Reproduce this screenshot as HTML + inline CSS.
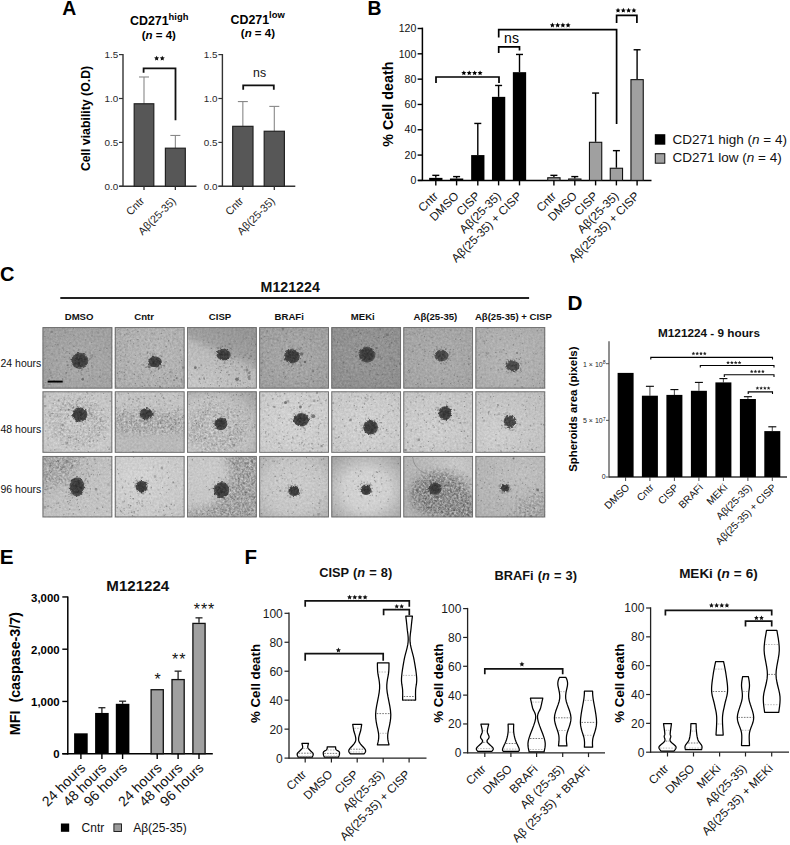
<!DOCTYPE html>
<html><head><meta charset="utf-8"><style>html,body{margin:0;padding:0;background:#fff;}svg{display:block;}</style></head>
<body><svg width="790" height="845" viewBox="0 0 790 845" font-family='"Liberation Sans", sans-serif'>
<defs><filter id="blur1" x="-50%" y="-50%" width="200%" height="200%"><feTurbulence type="fractalNoise" baseFrequency="0.35" numOctaves="2" seed="5" result="t"/><feDisplacementMap in="SourceGraphic" in2="t" scale="3" xChannelSelector="R" yChannelSelector="G"/><feGaussianBlur stdDeviation="0.45"/></filter><filter id="blur2" x="-50%" y="-50%" width="200%" height="200%"><feTurbulence type="fractalNoise" baseFrequency="0.5" numOctaves="2" seed="9" result="t"/><feDisplacementMap in="SourceGraphic" in2="t" scale="4" xChannelSelector="R" yChannelSelector="G"/><feGaussianBlur stdDeviation="0.7"/></filter><filter id="soft" x="-5%" y="-5%" width="110%" height="110%"><feGaussianBlur stdDeviation="0.4"/></filter><filter id="mblur" x="-30%" y="-30%" width="160%" height="160%"><feGaussianBlur stdDeviation="4"/></filter><radialGradient id="bg0" cx="0.55" cy="0.6" r="0.8"><stop offset="0" stop-color="rgb(176,176,176)"/><stop offset="1" stop-color="rgb(162,162,162)"/></radialGradient><filter id="tb0" x="0" y="0" width="1" height="1" color-interpolation-filters="sRGB"><feTurbulence type="fractalNoise" baseFrequency="0.45" numOctaves="3" seed="3"/><feColorMatrix type="matrix" values="1.5 0 0 0 -0.3  1.5 0 0 0 -0.3  1.5 0 0 0 -0.3  0 0 0 0 1"/><feGaussianBlur stdDeviation="0.35"/></filter><clipPath id="cp0"><ellipse cx="37.2" cy="33.6" rx="8.30" ry="7.85"/></clipPath><radialGradient id="bg1" cx="0.6" cy="0.45" r="0.8"><stop offset="0" stop-color="rgb(192,192,192)"/><stop offset="1" stop-color="rgb(180,180,180)"/></radialGradient><filter id="tb1" x="0" y="0" width="1" height="1" color-interpolation-filters="sRGB"><feTurbulence type="fractalNoise" baseFrequency="0.45" numOctaves="3" seed="10"/><feColorMatrix type="matrix" values="1.5 0 0 0 -0.3  1.5 0 0 0 -0.3  1.5 0 0 0 -0.3  0 0 0 0 1"/><feGaussianBlur stdDeviation="0.35"/></filter><clipPath id="cp1"><ellipse cx="40.1" cy="34.8" rx="6.60" ry="5.40"/></clipPath><linearGradient id="bg2" x1="0.8" y1="0" x2="0.3" y2="1"><stop offset="0" stop-color="rgb(152,152,152)"/><stop offset="0.38" stop-color="rgb(164,164,164)"/><stop offset="0.52" stop-color="rgb(192,192,192)"/><stop offset="1" stop-color="rgb(206,206,206)"/></linearGradient><filter id="tb2" x="0" y="0" width="1" height="1" color-interpolation-filters="sRGB"><feTurbulence type="fractalNoise" baseFrequency="0.45" numOctaves="3" seed="17"/><feColorMatrix type="matrix" values="1.5 0 0 0 -0.3  1.5 0 0 0 -0.3  1.5 0 0 0 -0.3  0 0 0 0 1"/><feGaussianBlur stdDeviation="0.35"/></filter><clipPath id="cp2"><ellipse cx="36.5" cy="27.4" rx="6.80" ry="5.65"/></clipPath><radialGradient id="bg3" cx="0.5" cy="0.5" r="0.75"><stop offset="0" stop-color="rgb(176,176,176)"/><stop offset="1" stop-color="rgb(162,162,162)"/></radialGradient><filter id="tb3" x="0" y="0" width="1" height="1" color-interpolation-filters="sRGB"><feTurbulence type="fractalNoise" baseFrequency="0.45" numOctaves="3" seed="24"/><feColorMatrix type="matrix" values="1.5 0 0 0 -0.3  1.5 0 0 0 -0.3  1.5 0 0 0 -0.3  0 0 0 0 1"/><feGaussianBlur stdDeviation="0.35"/></filter><clipPath id="cp3"><ellipse cx="32.6" cy="29.0" rx="7.75" ry="6.95"/></clipPath><radialGradient id="bg4" cx="0.5" cy="0.45" r="0.75"><stop offset="0" stop-color="rgb(157,157,157)"/><stop offset="1" stop-color="rgb(144,144,144)"/></radialGradient><filter id="tb4" x="0" y="0" width="1" height="1" color-interpolation-filters="sRGB"><feTurbulence type="fractalNoise" baseFrequency="0.45" numOctaves="3" seed="31"/><feColorMatrix type="matrix" values="1.5 0 0 0 -0.3  1.5 0 0 0 -0.3  1.5 0 0 0 -0.3  0 0 0 0 1"/><feGaussianBlur stdDeviation="0.35"/></filter><clipPath id="cp4"><ellipse cx="35.7" cy="27.4" rx="8.10" ry="7.75"/></clipPath><radialGradient id="bg5" cx="0.5" cy="0.5" r="0.75"><stop offset="0" stop-color="rgb(178,178,178)"/><stop offset="1" stop-color="rgb(168,168,168)"/></radialGradient><filter id="tb5" x="0" y="0" width="1" height="1" color-interpolation-filters="sRGB"><feTurbulence type="fractalNoise" baseFrequency="0.45" numOctaves="3" seed="38"/><feColorMatrix type="matrix" values="1.5 0 0 0 -0.3  1.5 0 0 0 -0.3  1.5 0 0 0 -0.3  0 0 0 0 1"/><feGaussianBlur stdDeviation="0.35"/></filter><clipPath id="cp5"><ellipse cx="38.1" cy="28.3" rx="6.80" ry="5.65"/></clipPath><radialGradient id="bg6" cx="0.5" cy="0.5" r="0.75"><stop offset="0" stop-color="rgb(188,188,188)"/><stop offset="1" stop-color="rgb(176,176,176)"/></radialGradient><filter id="tb6" x="0" y="0" width="1" height="1" color-interpolation-filters="sRGB"><feTurbulence type="fractalNoise" baseFrequency="0.45" numOctaves="3" seed="45"/><feColorMatrix type="matrix" values="1.5 0 0 0 -0.3  1.5 0 0 0 -0.3  1.5 0 0 0 -0.3  0 0 0 0 1"/><feGaussianBlur stdDeviation="0.35"/></filter><clipPath id="cp6"><ellipse cx="37.1" cy="38.6" rx="6.90" ry="5.20"/></clipPath><radialGradient id="bg7" cx="0.5" cy="0.55" r="0.75"><stop offset="0" stop-color="rgb(218,218,218)"/><stop offset="0.6" stop-color="rgb(212,212,212)"/><stop offset="1" stop-color="rgb(200,200,200)"/></radialGradient><filter id="tb7" x="0" y="0" width="1" height="1" color-interpolation-filters="sRGB"><feTurbulence type="fractalNoise" baseFrequency="0.45" numOctaves="3" seed="52"/><feColorMatrix type="matrix" values="1.5 0 0 0 -0.3  1.5 0 0 0 -0.3  1.5 0 0 0 -0.3  0 0 0 0 1"/><feGaussianBlur stdDeviation="0.35"/></filter><mask id="mk7" maskUnits="userSpaceOnUse" x="0" y="0" width="69.6" height="61.3"><g filter="url(#mblur)"><ellipse cx="34.8" cy="30.65" rx="29.231999999999996" ry="24.52" fill="white"/><ellipse cx="34.8" cy="27.585" rx="13.92" ry="12.26" fill="black"/></g></mask><clipPath id="cp7"><ellipse cx="37.1" cy="23.2" rx="7.50" ry="7.00"/></clipPath><linearGradient id="bg8" x1="0" y1="0" x2="0" y2="1"><stop offset="0" stop-color="rgb(204,204,204)"/><stop offset="0.6" stop-color="rgb(204,204,204)"/><stop offset="0.72" stop-color="rgb(194,194,194)"/><stop offset="1" stop-color="rgb(192,192,192)"/></linearGradient><filter id="tb8" x="0" y="0" width="1" height="1" color-interpolation-filters="sRGB"><feTurbulence type="fractalNoise" baseFrequency="0.45" numOctaves="3" seed="59"/><feColorMatrix type="matrix" values="1.5 0 0 0 -0.3  1.5 0 0 0 -0.3  1.5 0 0 0 -0.3  0 0 0 0 1"/><feGaussianBlur stdDeviation="0.35"/></filter><mask id="mk8" maskUnits="userSpaceOnUse" x="0" y="0" width="69.6" height="61.3"><g filter="url(#mblur)"><rect x="-5" y="21.455" width="79.6" height="19.616" fill="white"/></g></mask><clipPath id="cp8"><ellipse cx="31.3" cy="22.5" rx="6.25" ry="5.50"/></clipPath><radialGradient id="bg9" cx="0.35" cy="0.65" r="0.85"><stop offset="0" stop-color="rgb(214,214,214)"/><stop offset="0.6" stop-color="rgb(204,204,204)"/><stop offset="1" stop-color="rgb(168,168,168)"/></radialGradient><filter id="tb9" x="0" y="0" width="1" height="1" color-interpolation-filters="sRGB"><feTurbulence type="fractalNoise" baseFrequency="0.45" numOctaves="3" seed="66"/><feColorMatrix type="matrix" values="1.5 0 0 0 -0.3  1.5 0 0 0 -0.3  1.5 0 0 0 -0.3  0 0 0 0 1"/><feGaussianBlur stdDeviation="0.35"/></filter><mask id="mk9" maskUnits="userSpaceOnUse" x="0" y="0" width="69.6" height="61.3"><g filter="url(#mblur)"><ellipse cx="29.231999999999996" cy="36.779999999999994" rx="31.319999999999997" ry="23.294" fill="white"/><ellipse cx="34.8" cy="30.65" rx="15.312" ry="12.26" fill="black"/></g></mask><clipPath id="cp9"><ellipse cx="33.7" cy="32.4" rx="6.25" ry="6.10"/></clipPath><radialGradient id="bg10" cx="0.5" cy="0.5" r="0.75"><stop offset="0" stop-color="rgb(222,222,222)"/><stop offset="1" stop-color="rgb(210,210,210)"/></radialGradient><filter id="tb10" x="0" y="0" width="1" height="1" color-interpolation-filters="sRGB"><feTurbulence type="fractalNoise" baseFrequency="0.45" numOctaves="3" seed="73"/><feColorMatrix type="matrix" values="1.5 0 0 0 -0.3  1.5 0 0 0 -0.3  1.5 0 0 0 -0.3  0 0 0 0 1"/><feGaussianBlur stdDeviation="0.35"/></filter><clipPath id="cp10"><ellipse cx="41.9" cy="28.3" rx="7.50" ry="6.35"/></clipPath><radialGradient id="bg11" cx="0.5" cy="0.55" r="0.75"><stop offset="0" stop-color="rgb(222,222,222)"/><stop offset="1" stop-color="rgb(206,206,206)"/></radialGradient><filter id="tb11" x="0" y="0" width="1" height="1" color-interpolation-filters="sRGB"><feTurbulence type="fractalNoise" baseFrequency="0.45" numOctaves="3" seed="80"/><feColorMatrix type="matrix" values="1.5 0 0 0 -0.3  1.5 0 0 0 -0.3  1.5 0 0 0 -0.3  0 0 0 0 1"/><feGaussianBlur stdDeviation="0.35"/></filter><clipPath id="cp11"><ellipse cx="39.2" cy="35.9" rx="7.15" ry="7.05"/></clipPath><radialGradient id="bg12" cx="0.4" cy="0.6" r="0.75"><stop offset="0" stop-color="rgb(218,218,218)"/><stop offset="1" stop-color="rgb(204,204,204)"/></radialGradient><filter id="tb12" x="0" y="0" width="1" height="1" color-interpolation-filters="sRGB"><feTurbulence type="fractalNoise" baseFrequency="0.45" numOctaves="3" seed="87"/><feColorMatrix type="matrix" values="1.5 0 0 0 -0.3  1.5 0 0 0 -0.3  1.5 0 0 0 -0.3  0 0 0 0 1"/><feGaussianBlur stdDeviation="0.35"/></filter><clipPath id="cp12"><ellipse cx="41.5" cy="21.8" rx="6.10" ry="6.70"/></clipPath><radialGradient id="bg13" cx="0.3" cy="0.7" r="0.8"><stop offset="0" stop-color="rgb(216,216,216)"/><stop offset="1" stop-color="rgb(200,200,200)"/></radialGradient><filter id="tb13" x="0" y="0" width="1" height="1" color-interpolation-filters="sRGB"><feTurbulence type="fractalNoise" baseFrequency="0.45" numOctaves="3" seed="94"/><feColorMatrix type="matrix" values="1.5 0 0 0 -0.3  1.5 0 0 0 -0.3  1.5 0 0 0 -0.3  0 0 0 0 1"/><feGaussianBlur stdDeviation="0.35"/></filter><clipPath id="cp13"><ellipse cx="34.4" cy="30.0" rx="6.00" ry="5.75"/></clipPath><linearGradient id="bg14" x1="0" y1="0" x2="1" y2="1"><stop offset="0" stop-color="rgb(186,186,186)"/><stop offset="0.5" stop-color="rgb(202,202,202)"/><stop offset="1" stop-color="rgb(206,206,206)"/></linearGradient><filter id="tb14" x="0" y="0" width="1" height="1" color-interpolation-filters="sRGB"><feTurbulence type="fractalNoise" baseFrequency="0.45" numOctaves="3" seed="101"/><feColorMatrix type="matrix" values="1.5 0 0 0 -0.3  1.5 0 0 0 -0.3  1.5 0 0 0 -0.3  0 0 0 0 1"/><feGaussianBlur stdDeviation="0.35"/></filter><mask id="mk14" maskUnits="userSpaceOnUse" x="0" y="0" width="69.6" height="61.3"><g filter="url(#mblur)"><ellipse cx="0" cy="0" rx="38.28" ry="30.65" fill="white"/></g></mask><clipPath id="cp14"><ellipse cx="34.4" cy="30.7" rx="7.15" ry="9.25"/></clipPath><radialGradient id="bg15" cx="0.35" cy="0.4" r="0.8"><stop offset="0" stop-color="rgb(222,222,222)"/><stop offset="1" stop-color="rgb(206,206,206)"/></radialGradient><filter id="tb15" x="0" y="0" width="1" height="1" color-interpolation-filters="sRGB"><feTurbulence type="fractalNoise" baseFrequency="0.45" numOctaves="3" seed="108"/><feColorMatrix type="matrix" values="1.5 0 0 0 -0.3  1.5 0 0 0 -0.3  1.5 0 0 0 -0.3  0 0 0 0 1"/><feGaussianBlur stdDeviation="0.35"/></filter><clipPath id="cp15"><ellipse cx="26.7" cy="30.7" rx="5.75" ry="5.75"/></clipPath><radialGradient id="bg16" cx="0.3" cy="0.3" r="0.8"><stop offset="0" stop-color="rgb(210,210,210)"/><stop offset="1" stop-color="rgb(202,202,202)"/></radialGradient><filter id="tb16" x="0" y="0" width="1" height="1" color-interpolation-filters="sRGB"><feTurbulence type="fractalNoise" baseFrequency="0.45" numOctaves="3" seed="115"/><feColorMatrix type="matrix" values="1.5 0 0 0 -0.3  1.5 0 0 0 -0.3  1.5 0 0 0 -0.3  0 0 0 0 1"/><feGaussianBlur stdDeviation="0.35"/></filter><mask id="mk16" maskUnits="userSpaceOnUse" x="0" y="0" width="69.6" height="61.3"><g filter="url(#mblur)"><rect x="-5" y="-5" width="79.6" height="71.3" fill="white"/><ellipse cx="6.96" cy="18.389999999999997" rx="38.976" ry="38.976" fill="black"/></g></mask><clipPath id="cp16"><ellipse cx="34.4" cy="34.1" rx="7.40" ry="7.85"/></clipPath><radialGradient id="bg17" cx="0.5" cy="0.5" r="0.75"><stop offset="0" stop-color="rgb(214,214,214)"/><stop offset="0.55" stop-color="rgb(206,206,206)"/><stop offset="1" stop-color="rgb(176,176,176)"/></radialGradient><filter id="tb17" x="0" y="0" width="1" height="1" color-interpolation-filters="sRGB"><feTurbulence type="fractalNoise" baseFrequency="0.45" numOctaves="3" seed="122"/><feColorMatrix type="matrix" values="1.5 0 0 0 -0.3  1.5 0 0 0 -0.3  1.5 0 0 0 -0.3  0 0 0 0 1"/><feGaussianBlur stdDeviation="0.35"/></filter><clipPath id="cp17"><ellipse cx="34.7" cy="34.8" rx="5.45" ry="5.00"/></clipPath><radialGradient id="bg18" cx="0.5" cy="0.55" r="0.72"><stop offset="0" stop-color="rgb(222,222,222)"/><stop offset="0.45" stop-color="rgb(214,214,214)"/><stop offset="1" stop-color="rgb(162,162,162)"/></radialGradient><filter id="tb18" x="0" y="0" width="1" height="1" color-interpolation-filters="sRGB"><feTurbulence type="fractalNoise" baseFrequency="0.45" numOctaves="3" seed="129"/><feColorMatrix type="matrix" values="1.5 0 0 0 -0.3  1.5 0 0 0 -0.3  1.5 0 0 0 -0.3  0 0 0 0 1"/><feGaussianBlur stdDeviation="0.35"/></filter><clipPath id="cp18"><ellipse cx="34.6" cy="33.7" rx="5.10" ry="4.95"/></clipPath><radialGradient id="bg19" cx="0.75" cy="0.15" r="0.9"><stop offset="0" stop-color="rgb(208,208,208)"/><stop offset="0.5" stop-color="rgb(192,192,192)"/><stop offset="1" stop-color="rgb(182,182,182)"/></radialGradient><filter id="tb19" x="0" y="0" width="1" height="1" color-interpolation-filters="sRGB"><feTurbulence type="fractalNoise" baseFrequency="0.45" numOctaves="3" seed="136"/><feColorMatrix type="matrix" values="1.5 0 0 0 -0.3  1.5 0 0 0 -0.3  1.5 0 0 0 -0.3  0 0 0 0 1"/><feGaussianBlur stdDeviation="0.35"/></filter><mask id="mk19" maskUnits="userSpaceOnUse" x="0" y="0" width="69.6" height="61.3"><g filter="url(#mblur)"><ellipse cx="36.192" cy="38.006" rx="29.231999999999996" ry="22.067999999999998" fill="white"/><ellipse cx="59.16" cy="55.17" rx="20.88" ry="18.389999999999997" fill="white"/></g></mask><clipPath id="cp19"><ellipse cx="31.8" cy="32.5" rx="6.25" ry="6.00"/></clipPath><radialGradient id="bg20" cx="0.65" cy="0.3" r="0.8"><stop offset="0" stop-color="rgb(200,200,200)"/><stop offset="1" stop-color="rgb(184,184,184)"/></radialGradient><filter id="tb20" x="0" y="0" width="1" height="1" color-interpolation-filters="sRGB"><feTurbulence type="fractalNoise" baseFrequency="0.45" numOctaves="3" seed="143"/><feColorMatrix type="matrix" values="1.5 0 0 0 -0.3  1.5 0 0 0 -0.3  1.5 0 0 0 -0.3  0 0 0 0 1"/><feGaussianBlur stdDeviation="0.35"/></filter><mask id="mk20" maskUnits="userSpaceOnUse" x="0" y="0" width="69.6" height="61.3"><g filter="url(#mblur)"><ellipse cx="69.6" cy="61.3" rx="31.319999999999997" ry="24.52" fill="white"/></g></mask><clipPath id="cp20"><ellipse cx="29.8" cy="32.0" rx="3.90" ry="3.70"/></clipPath><radialGradient id="sph" cx="0.5" cy="0.5" r="0.5"><stop offset="0" stop-color="#303030"/><stop offset="0.6" stop-color="#363636"/><stop offset="0.85" stop-color="#404040"/><stop offset="1" stop-color="#5c5c5c"/></radialGradient></defs>
<rect width="790" height="845" fill="#fff"/>
<text x="62.20" y="14.80" font-size="19.4" font-weight="bold" text-anchor="start" fill="#000" >A</text>
<text x="159.2" y="25" font-size="12.4" font-weight="bold" text-anchor="middle">CD271<tspan font-size="9.4" dy="-5.5">high</tspan></text>
<text x="158.8" y="39.3" font-size="11.5" font-weight="bold" text-anchor="middle">(<tspan font-style="italic">n</tspan> = 4)</text>
<text x="257.6" y="23.7" font-size="12.4" font-weight="bold" text-anchor="middle">CD271<tspan font-size="9.4" dy="-5.5">low</tspan></text>
<text x="257.9" y="37.0" font-size="11.5" font-weight="bold" text-anchor="middle">(<tspan font-style="italic">n</tspan> = 4)</text>
<text transform="translate(90.10,118.50) rotate(-90)" font-size="12.3" font-weight="bold" text-anchor="middle" fill="#000" >Cell viability (O.D)</text>
<line x1="123.00" y1="54.00" x2="123.00" y2="186.30" stroke="#333" stroke-width="1.4" />
<line x1="119.00" y1="186.30" x2="123.00" y2="186.30" stroke="#333" stroke-width="1.2" />
<text x="118.20" y="189.80" font-size="9.9" font-weight="normal" text-anchor="end" fill="#2a2a2a" >0.0</text>
<line x1="119.00" y1="142.40" x2="123.00" y2="142.40" stroke="#333" stroke-width="1.2" />
<text x="118.20" y="145.90" font-size="9.9" font-weight="normal" text-anchor="end" fill="#2a2a2a" >0.5</text>
<line x1="119.00" y1="98.50" x2="123.00" y2="98.50" stroke="#333" stroke-width="1.2" />
<text x="118.20" y="102.00" font-size="9.9" font-weight="normal" text-anchor="end" fill="#2a2a2a" >1.0</text>
<line x1="119.00" y1="54.60" x2="123.00" y2="54.60" stroke="#333" stroke-width="1.2" />
<text x="118.20" y="58.10" font-size="9.9" font-weight="normal" text-anchor="end" fill="#2a2a2a" >1.5</text>
<line x1="222.40" y1="54.00" x2="222.40" y2="186.30" stroke="#333" stroke-width="1.4" />
<line x1="218.40" y1="186.30" x2="222.40" y2="186.30" stroke="#333" stroke-width="1.2" />
<text x="217.60" y="189.80" font-size="9.9" font-weight="normal" text-anchor="end" fill="#2a2a2a" >0.0</text>
<line x1="218.40" y1="142.40" x2="222.40" y2="142.40" stroke="#333" stroke-width="1.2" />
<text x="217.60" y="145.90" font-size="9.9" font-weight="normal" text-anchor="end" fill="#2a2a2a" >0.5</text>
<line x1="218.40" y1="98.50" x2="222.40" y2="98.50" stroke="#333" stroke-width="1.2" />
<text x="217.60" y="102.00" font-size="9.9" font-weight="normal" text-anchor="end" fill="#2a2a2a" >1.0</text>
<line x1="218.40" y1="54.60" x2="222.40" y2="54.60" stroke="#333" stroke-width="1.2" />
<text x="217.60" y="58.10" font-size="9.9" font-weight="normal" text-anchor="end" fill="#2a2a2a" >1.5</text>
<line x1="119.30" y1="186.30" x2="196.50" y2="186.30" stroke="#333" stroke-width="1.4" />
<line x1="218.50" y1="186.30" x2="295.30" y2="186.30" stroke="#333" stroke-width="1.4" />
<line x1="144.00" y1="76.99" x2="144.00" y2="103.77" stroke="#888" stroke-width="1.1" />
<line x1="139.00" y1="76.99" x2="149.00" y2="76.99" stroke="#888" stroke-width="1.1" />
<rect x="134.20" y="103.77" width="19.60" height="82.53" fill="#575757" stroke="#222" stroke-width="1.2" />
<line x1="144.00" y1="186.30" x2="144.00" y2="190.00" stroke="#333" stroke-width="1.3" />
<line x1="175.35" y1="135.46" x2="175.35" y2="148.19" stroke="#888" stroke-width="1.1" />
<line x1="170.35" y1="135.46" x2="180.35" y2="135.46" stroke="#888" stroke-width="1.1" />
<rect x="165.40" y="148.19" width="19.90" height="38.11" fill="#575757" stroke="#222" stroke-width="1.2" />
<line x1="175.35" y1="186.30" x2="175.35" y2="190.00" stroke="#333" stroke-width="1.3" />
<line x1="242.85" y1="101.57" x2="242.85" y2="126.33" stroke="#888" stroke-width="1.1" />
<line x1="237.85" y1="101.57" x2="247.85" y2="101.57" stroke="#888" stroke-width="1.1" />
<rect x="232.70" y="126.33" width="20.30" height="59.97" fill="#575757" stroke="#222" stroke-width="1.2" />
<line x1="242.85" y1="186.30" x2="242.85" y2="190.00" stroke="#333" stroke-width="1.3" />
<line x1="274.30" y1="106.40" x2="274.30" y2="131.25" stroke="#888" stroke-width="1.1" />
<line x1="269.30" y1="106.40" x2="279.30" y2="106.40" stroke="#888" stroke-width="1.1" />
<rect x="264.20" y="131.25" width="20.20" height="55.05" fill="#575757" stroke="#222" stroke-width="1.2" />
<line x1="274.30" y1="186.30" x2="274.30" y2="190.00" stroke="#333" stroke-width="1.3" />
<polyline points="143.60,72.80 143.60,68.30 175.50,68.30 175.50,120.30" fill="none" stroke="#111" stroke-width="1.8" stroke-linejoin="miter" stroke-linecap="butt"/>
<path d="M156.62,55.70 L157.37,57.32 L159.14,57.53 L157.83,58.75 L158.18,60.50 L156.62,59.63 L155.06,60.50 L155.41,58.75 L154.10,57.53 L155.87,57.32Z" fill="#111"/>
<path d="M162.28,55.70 L163.03,57.32 L164.80,57.53 L163.49,58.75 L163.84,60.50 L162.28,59.63 L160.72,60.50 L161.07,58.75 L159.76,57.53 L161.53,57.32Z" fill="#111"/>
<polyline points="243.20,89.80 243.20,85.30 273.80,85.30 273.80,89.80" fill="none" stroke="#111" stroke-width="1.8" stroke-linejoin="miter" stroke-linecap="butt"/>
<text x="259.60" y="77.40" font-size="12.3" font-weight="normal" text-anchor="middle" fill="#111" >ns</text>
<text transform="translate(145.00,201.60) rotate(-45)" font-size="10.8" font-weight="normal" text-anchor="end" fill="#222" >Cntr</text>
<text transform="translate(176.50,201.60) rotate(-45)" font-size="10.8" font-weight="normal" text-anchor="end" fill="#222" >Aβ(25-35)</text>
<text transform="translate(244.10,201.60) rotate(-45)" font-size="10.8" font-weight="normal" text-anchor="end" fill="#222" >Cntr</text>
<text transform="translate(275.60,201.60) rotate(-45)" font-size="10.8" font-weight="normal" text-anchor="end" fill="#222" >Aβ(25-35)</text>
<text x="367.60" y="14.80" font-size="19.4" font-weight="bold" text-anchor="start" fill="#000" >B</text>
<line x1="422.40" y1="27.60" x2="422.40" y2="181.00" stroke="#000" stroke-width="1.5" />
<line x1="417.60" y1="180.40" x2="422.40" y2="180.40" stroke="#000" stroke-width="1.4" />
<text x="416.30" y="184.10" font-size="10.5" font-weight="normal" text-anchor="end" fill="#111" >0</text>
<line x1="417.60" y1="155.08" x2="422.40" y2="155.08" stroke="#000" stroke-width="1.4" />
<text x="416.30" y="158.78" font-size="10.5" font-weight="normal" text-anchor="end" fill="#111" >20</text>
<line x1="417.60" y1="129.77" x2="422.40" y2="129.77" stroke="#000" stroke-width="1.4" />
<text x="416.30" y="133.47" font-size="10.5" font-weight="normal" text-anchor="end" fill="#111" >40</text>
<line x1="417.60" y1="104.45" x2="422.40" y2="104.45" stroke="#000" stroke-width="1.4" />
<text x="416.30" y="108.15" font-size="10.5" font-weight="normal" text-anchor="end" fill="#111" >60</text>
<line x1="417.60" y1="79.14" x2="422.40" y2="79.14" stroke="#000" stroke-width="1.4" />
<text x="416.30" y="82.84" font-size="10.5" font-weight="normal" text-anchor="end" fill="#111" >80</text>
<line x1="417.60" y1="53.82" x2="422.40" y2="53.82" stroke="#000" stroke-width="1.4" />
<text x="416.30" y="57.52" font-size="10.5" font-weight="normal" text-anchor="end" fill="#111" >100</text>
<line x1="417.60" y1="28.50" x2="422.40" y2="28.50" stroke="#000" stroke-width="1.4" />
<text x="416.30" y="32.20" font-size="10.5" font-weight="normal" text-anchor="end" fill="#111" >120</text>
<line x1="418.00" y1="180.40" x2="651.50" y2="180.40" stroke="#000" stroke-width="1.5" />
<text transform="translate(393.00,104.20) rotate(-90)" font-size="14.35" font-weight="bold" text-anchor="middle" fill="#000" >% Cell death</text>
<line x1="435.80" y1="175.34" x2="435.80" y2="177.87" stroke="#000" stroke-width="1.4" />
<line x1="432.30" y1="175.34" x2="439.30" y2="175.34" stroke="#000" stroke-width="1.4" />
<rect x="429.15" y="177.87" width="13.30" height="2.53" fill="#000" stroke="none" stroke-width="0" />
<line x1="456.60" y1="176.60" x2="456.60" y2="178.50" stroke="#000" stroke-width="1.4" />
<line x1="453.10" y1="176.60" x2="460.10" y2="176.60" stroke="#000" stroke-width="1.4" />
<rect x="449.95" y="178.50" width="13.30" height="1.90" fill="#000" stroke="none" stroke-width="0" />
<line x1="477.80" y1="123.44" x2="477.80" y2="155.08" stroke="#000" stroke-width="1.4" />
<line x1="474.30" y1="123.44" x2="481.30" y2="123.44" stroke="#000" stroke-width="1.4" />
<rect x="471.15" y="155.08" width="13.30" height="25.32" fill="#000" stroke="none" stroke-width="0" />
<line x1="498.60" y1="85.47" x2="498.60" y2="96.86" stroke="#000" stroke-width="1.4" />
<line x1="495.10" y1="85.47" x2="502.10" y2="85.47" stroke="#000" stroke-width="1.4" />
<rect x="491.95" y="96.86" width="13.30" height="83.54" fill="#000" stroke="none" stroke-width="0" />
<line x1="519.50" y1="54.45" x2="519.50" y2="72.17" stroke="#000" stroke-width="1.4" />
<line x1="516.00" y1="54.45" x2="523.00" y2="54.45" stroke="#000" stroke-width="1.4" />
<rect x="512.85" y="72.17" width="13.30" height="108.23" fill="#000" stroke="none" stroke-width="0" />
<line x1="553.90" y1="175.34" x2="553.90" y2="177.24" stroke="#000" stroke-width="1.4" />
<line x1="550.40" y1="175.34" x2="557.40" y2="175.34" stroke="#000" stroke-width="1.4" />
<rect x="547.75" y="177.74" width="12.30" height="2.66" fill="#a0a0a0" stroke="#111" stroke-width="1.1" />
<line x1="574.80" y1="176.60" x2="574.80" y2="178.50" stroke="#000" stroke-width="1.4" />
<line x1="571.30" y1="176.60" x2="578.30" y2="176.60" stroke="#000" stroke-width="1.4" />
<rect x="568.65" y="179.00" width="12.30" height="1.40" fill="#a0a0a0" stroke="#111" stroke-width="1.1" />
<line x1="595.60" y1="93.06" x2="595.60" y2="141.79" stroke="#000" stroke-width="1.4" />
<line x1="592.10" y1="93.06" x2="599.10" y2="93.06" stroke="#000" stroke-width="1.4" />
<rect x="589.45" y="142.29" width="12.30" height="38.11" fill="#a0a0a0" stroke="#111" stroke-width="1.1" />
<line x1="616.40" y1="150.65" x2="616.40" y2="167.74" stroke="#000" stroke-width="1.4" />
<line x1="612.90" y1="150.65" x2="619.90" y2="150.65" stroke="#000" stroke-width="1.4" />
<rect x="610.25" y="168.24" width="12.30" height="12.16" fill="#a0a0a0" stroke="#111" stroke-width="1.1" />
<line x1="637.10" y1="49.77" x2="637.10" y2="79.14" stroke="#000" stroke-width="1.4" />
<line x1="633.60" y1="49.77" x2="640.60" y2="49.77" stroke="#000" stroke-width="1.4" />
<rect x="630.95" y="79.64" width="12.30" height="100.76" fill="#a0a0a0" stroke="#111" stroke-width="1.1" />
<line x1="435.80" y1="180.40" x2="435.80" y2="185.40" stroke="#000" stroke-width="1.4" />
<text transform="translate(438.80,196.80) rotate(-45)" font-size="11.8" font-weight="normal" text-anchor="end" fill="#111" >Cntr</text>
<line x1="456.60" y1="180.40" x2="456.60" y2="185.40" stroke="#000" stroke-width="1.4" />
<text transform="translate(459.60,196.80) rotate(-45)" font-size="11.8" font-weight="normal" text-anchor="end" fill="#111" >DMSO</text>
<line x1="477.80" y1="180.40" x2="477.80" y2="185.40" stroke="#000" stroke-width="1.4" />
<text transform="translate(480.80,196.80) rotate(-45)" font-size="11.8" font-weight="normal" text-anchor="end" fill="#111" >CISP</text>
<line x1="498.60" y1="180.40" x2="498.60" y2="185.40" stroke="#000" stroke-width="1.4" />
<text transform="translate(501.60,196.80) rotate(-45)" font-size="11.8" font-weight="normal" text-anchor="end" fill="#111" >Aβ(25-35)</text>
<line x1="519.50" y1="180.40" x2="519.50" y2="185.40" stroke="#000" stroke-width="1.4" />
<text transform="translate(522.50,196.80) rotate(-45)" font-size="11.8" font-weight="normal" text-anchor="end" fill="#111" >Aβ(25-35) + CISP</text>
<line x1="553.90" y1="180.40" x2="553.90" y2="185.40" stroke="#000" stroke-width="1.4" />
<text transform="translate(556.90,196.80) rotate(-45)" font-size="11.8" font-weight="normal" text-anchor="end" fill="#111" >Cntr</text>
<line x1="574.80" y1="180.40" x2="574.80" y2="185.40" stroke="#000" stroke-width="1.4" />
<text transform="translate(577.80,196.80) rotate(-45)" font-size="11.8" font-weight="normal" text-anchor="end" fill="#111" >DMSO</text>
<line x1="595.60" y1="180.40" x2="595.60" y2="185.40" stroke="#000" stroke-width="1.4" />
<text transform="translate(598.60,196.80) rotate(-45)" font-size="11.8" font-weight="normal" text-anchor="end" fill="#111" >CISP</text>
<line x1="616.40" y1="180.40" x2="616.40" y2="185.40" stroke="#000" stroke-width="1.4" />
<text transform="translate(619.40,196.80) rotate(-45)" font-size="11.8" font-weight="normal" text-anchor="end" fill="#111" >Aβ(25-35)</text>
<line x1="637.10" y1="180.40" x2="637.10" y2="185.40" stroke="#000" stroke-width="1.4" />
<text transform="translate(640.10,196.80) rotate(-45)" font-size="11.8" font-weight="normal" text-anchor="end" fill="#111" >Aβ(25-35) + CISP</text>
<polyline points="436.00,83.00 436.00,77.00 499.00,77.00 499.00,83.00" fill="none" stroke="#000" stroke-width="1.7" stroke-linejoin="miter" stroke-linecap="butt"/>
<path d="M463.82,70.40 L464.57,72.02 L466.34,72.23 L465.03,73.45 L465.38,75.20 L463.82,74.33 L462.26,75.20 L462.61,73.45 L461.30,72.23 L463.07,72.02Z" fill="#000"/>
<path d="M469.24,70.40 L469.99,72.02 L471.76,72.23 L470.45,73.45 L470.80,75.20 L469.24,74.33 L467.68,75.20 L468.03,73.45 L466.72,72.23 L468.49,72.02Z" fill="#000"/>
<path d="M474.66,70.40 L475.41,72.02 L477.18,72.23 L475.87,73.45 L476.22,75.20 L474.66,74.33 L473.10,75.20 L473.45,73.45 L472.14,72.23 L473.91,72.02Z" fill="#000"/>
<path d="M480.08,70.40 L480.83,72.02 L482.60,72.23 L481.29,73.45 L481.64,75.20 L480.08,74.33 L478.52,75.20 L478.87,73.45 L477.56,72.23 L479.33,72.02Z" fill="#000"/>
<polyline points="498.70,53.10 498.70,46.90 519.50,46.90 519.50,50.40" fill="none" stroke="#000" stroke-width="1.7" stroke-linejoin="miter" stroke-linecap="butt"/>
<text x="511.50" y="42.60" font-size="14" font-weight="normal" text-anchor="middle" fill="#000" >ns</text>
<polyline points="498.70,37.50 498.70,29.70 616.60,29.70 616.60,124.00" fill="none" stroke="#000" stroke-width="1.7" stroke-linejoin="miter" stroke-linecap="butt"/>
<path d="M552.41,22.61 L553.16,24.23 L554.92,24.44 L553.62,25.64 L553.96,27.39 L552.41,26.52 L550.86,27.39 L551.20,25.64 L549.90,24.44 L551.66,24.23Z" fill="#000"/>
<path d="M557.64,22.61 L558.38,24.23 L560.15,24.44 L558.84,25.64 L559.19,27.39 L557.64,26.52 L556.08,27.39 L556.43,25.64 L555.12,24.44 L556.89,24.23Z" fill="#000"/>
<path d="M562.86,22.61 L563.61,24.23 L565.38,24.44 L564.07,25.64 L564.42,27.39 L562.86,26.52 L561.31,27.39 L561.66,25.64 L560.35,24.44 L562.12,24.23Z" fill="#000"/>
<path d="M568.09,22.61 L568.84,24.23 L570.60,24.44 L569.30,25.64 L569.64,27.39 L568.09,26.52 L566.54,27.39 L566.88,25.64 L565.58,24.44 L567.34,24.23Z" fill="#000"/>
<polyline points="616.60,23.10 616.60,15.30 636.90,15.30 636.90,23.10" fill="none" stroke="#000" stroke-width="1.7" stroke-linejoin="miter" stroke-linecap="butt"/>
<path d="M618.02,7.80 L618.77,9.42 L620.54,9.63 L619.23,10.85 L619.58,12.60 L618.02,11.73 L616.46,12.60 L616.81,10.85 L615.50,9.63 L617.27,9.42Z" fill="#000"/>
<path d="M623.31,7.80 L624.05,9.42 L625.83,9.63 L624.52,10.85 L624.86,12.60 L623.31,11.73 L621.75,12.60 L622.10,10.85 L620.79,9.63 L622.56,9.42Z" fill="#000"/>
<path d="M628.59,7.80 L629.34,9.42 L631.11,9.63 L629.80,10.85 L630.15,12.60 L628.59,11.73 L627.04,12.60 L627.38,10.85 L626.07,9.63 L627.85,9.42Z" fill="#000"/>
<path d="M633.88,7.80 L634.63,9.42 L636.40,9.63 L635.09,10.85 L635.44,12.60 L633.88,11.73 L632.32,12.60 L632.67,10.85 L631.36,9.63 L633.13,9.42Z" fill="#000"/>
<rect x="654.80" y="134.20" width="10.50" height="10.50" fill="#000" stroke="none" stroke-width="0" />
<rect x="655.30" y="153.70" width="9.50" height="9.50" fill="#a0a0a0" stroke="#111" stroke-width="1" />
<text x="672.5" y="144.4" font-size="13.5" fill="#111">CD271 high (<tspan font-style="italic">n</tspan> = 4)</text>
<text x="672.5" y="162.2" font-size="13.5" fill="#111">CD271 low (<tspan font-style="italic">n</tspan> = 4)</text>
<text x="0.00" y="280.50" font-size="20" font-weight="bold" text-anchor="start" fill="#000" >C</text>
<text x="290.20" y="292.00" font-size="14.2" font-weight="bold" text-anchor="middle" fill="#111" >M121224</text>
<line x1="60.30" y1="298.00" x2="529.10" y2="298.00" stroke="#222" stroke-width="2.0" />
<text x="79.10" y="319.60" font-size="9.6" font-weight="bold" text-anchor="middle" fill="#111" >DMSO</text>
<text x="144.10" y="319.60" font-size="9.6" font-weight="bold" text-anchor="middle" fill="#111" >Cntr</text>
<text x="220.00" y="319.60" font-size="9.6" font-weight="bold" text-anchor="middle" fill="#111" >CISP</text>
<text x="289.20" y="319.60" font-size="9.6" font-weight="bold" text-anchor="middle" fill="#111" >BRAFi</text>
<text x="362.80" y="319.60" font-size="9.6" font-weight="bold" text-anchor="middle" fill="#111" >MEKi</text>
<text x="435.40" y="319.60" font-size="9.6" font-weight="bold" text-anchor="middle" fill="#111" >Aβ(25-35)</text>
<text x="513.40" y="319.60" font-size="9.6" font-weight="bold" text-anchor="middle" fill="#111" >Aβ(25-35) + CISP</text>
<text x="0.50" y="366.90" font-size="10.5" font-weight="normal" text-anchor="start" fill="#111" >24 hours</text>
<text x="0.50" y="432.80" font-size="10.5" font-weight="normal" text-anchor="start" fill="#111" >48 hours</text>
<text x="0.50" y="493.40" font-size="10.5" font-weight="normal" text-anchor="start" fill="#111" >96 hours</text>
<g transform="translate(42.6,327.2)">
<rect width="69.6" height="61.3" fill="url(#bg0)"/>
<rect width="69.6" height="61.3" filter="url(#tb0)" opacity="0.099"/>
<g filter="url(#soft)" fill="#505050"><path fill-opacity="0.22" d="M50.4 35.3h0.9v0.9h-0.9zM59.4 46.2h1.3v1.3h-1.3zM54.8 33.4h1v1h-1zM1.2 3.9h1v1h-1zM24.9 39.7h1.3v1.3h-1.3zM22.6 47.0h1.3v1.3h-1.3zM14.8 50.4h0.9v0.9h-0.9zM0.7 27.6h1.1v1.1h-1.1zM21.7 2.5h1.3v1.3h-1.3zM21.7 1.5h1.1v1.1h-1.1zM17.6 10.5h1v1h-1zM36.1 42.1h1.1v1.1h-1.1zM5.8 42.2h0.9v0.9h-0.9zM1.6 8.9h1v1h-1zM6.9 44.4h2.1v2.1h-2.1zM7.2 55.3h1v1h-1zM32.6 13.4h1v1h-1zM14.5 8.2h0.9v0.9h-0.9zM1.2 56.8h1.1v1.1h-1.1zM61.2 7.5h0.9v0.9h-0.9zM29.4 9.1h0.9v0.9h-0.9zM6.0 48.6h1.3v1.3h-1.3zM23.5 33.7h1.3v1.3h-1.3zM16.8 21.4h0.9v0.9h-0.9zM16.9 2.6h0.9v0.9h-0.9zM8.4 35.8h1.1v1.1h-1.1zM65.8 28.8h1.1v1.1h-1.1zM34.0 44.9h0.9v0.9h-0.9zM68.1 52.7h1.3v1.3h-1.3zM63.7 53.8h1v1h-1zM24.8 37.5h1.3v1.3h-1.3zM51.5 12.1h1.1v1.1h-1.1zM51.6 21.7h1.1v1.1h-1.1zM11.1 18.4h1.1v1.1h-1.1zM9.1 18.5h1.3v1.3h-1.3zM0.9 25.0h0.9v0.9h-0.9z"/><path fill-opacity="0.34" d="M20.6 22.3h1v1h-1zM8.8 26.1h1v1h-1zM0.8 57.8h1.3v1.3h-1.3zM63.8 51.1h0.9v0.9h-0.9zM2.2 20.0h1v1h-1zM21.5 29.7h1v1h-1zM54.9 5.1h1.3v1.3h-1.3zM49.7 50.9h0.9v0.9h-0.9zM16.1 25.7h0.9v0.9h-0.9zM27.0 52.0h1v1h-1zM1.3 31.3h1v1h-1zM7.8 57.2h0.9v0.9h-0.9zM2.2 54.7h1.3v1.3h-1.3zM46.8 25.4h1.1v1.1h-1.1zM14.2 55.1h1v1h-1zM44.5 54.0h0.9v0.9h-0.9zM56.9 49.5h1.3v1.3h-1.3zM10.5 32.2h0.9v0.9h-0.9zM8.3 3.6h2.1v2.1h-2.1zM63.7 20.7h1.1v1.1h-1.1zM5.1 10.0h1v1h-1zM20.0 0.4h1v1h-1zM50.7 47.3h0.9v0.9h-0.9zM57.1 42.2h1.3v1.3h-1.3zM26.9 16.6h0.9v0.9h-0.9zM12.6 15.2h0.9v0.9h-0.9zM22.8 50.0h1v1h-1zM60.5 0.4h1v1h-1zM25.6 48.2h1v1h-1zM48.5 14.8h1v1h-1zM14.0 41.8h1v1h-1zM22.7 25.3h1v1h-1zM19.0 1.1h0.9v0.9h-0.9zM48.7 8.4h0.9v0.9h-0.9zM31.3 18.7h0.9v0.9h-0.9zM16.4 46.6h1v1h-1zM38.1 38.0h0.9v0.9h-0.9zM26.6 15.6h1.1v1.1h-1.1zM19.9 20.3h1v1h-1zM30.5 38.2h0.9v0.9h-0.9zM20.9 7.9h0.9v0.9h-0.9zM22.2 5.2h1.1v1.1h-1.1zM9.0 49.7h1.1v1.1h-1.1zM48.8 53.3h1.1v1.1h-1.1zM4.0 49.3h1v1h-1zM38.1 45.3h0.9v0.9h-0.9zM12.1 16.7h1.1v1.1h-1.1zM16.0 15.4h1v1h-1zM28.8 28.0h1.3v1.3h-1.3zM45.4 41.3h0.9v0.9h-0.9zM48.8 29.0h1.3v1.3h-1.3zM49.2 28.3h1.3v1.3h-1.3zM47.0 28.2h1.3v1.3h-1.3zM48.2 28.1h0.9v0.9h-0.9zM24.0 33.6h1.1v1.1h-1.1zM47.1 31.9h0.9v0.9h-0.9zM43.6 43.8h1.1v1.1h-1.1zM27.6 41.7h1.3v1.3h-1.3zM48.9 35.2h1.1v1.1h-1.1zM28.1 37.9h1.3v1.3h-1.3zM47.8 29.9h1.3v1.3h-1.3zM49.0 27.1h1.1v1.1h-1.1zM46.1 31.0h1.1v1.1h-1.1zM26.3 30.1h1.3v1.3h-1.3zM28.7 41.2h0.9v0.9h-0.9zM47.2 30.8h0.9v0.9h-0.9zM30.8 23.3h0.9v0.9h-0.9zM28.2 37.5h0.9v0.9h-0.9zM45.8 32.0h1.3v1.3h-1.3z"/><path fill-opacity="0.46" d="M2.2 30.8h0.9v0.9h-0.9zM56.4 48.5h1v1h-1zM52.0 29.0h1.1v1.1h-1.1zM61.0 20.3h1v1h-1zM6.5 41.8h1v1h-1zM35.2 25.2h1v1h-1zM42.5 12.3h1.1v1.1h-1.1zM45.9 47.9h1.1v1.1h-1.1zM10.8 52.7h1.3v1.3h-1.3zM19.5 51.3h1.3v1.3h-1.3zM3.5 19.0h0.9v0.9h-0.9zM58.1 1.2h0.9v0.9h-0.9zM14.7 16.7h1.3v1.3h-1.3zM27.8 15.2h0.9v0.9h-0.9zM35.4 43.3h1.1v1.1h-1.1zM30.3 33.9h0.9v0.9h-0.9zM23.8 23.7h1.1v1.1h-1.1zM2.0 9.1h1v1h-1zM30.8 7.5h1v1h-1zM12.3 6.2h0.9v0.9h-0.9zM33.1 35.3h0.9v0.9h-0.9zM5.3 57.1h1v1h-1zM56.6 22.6h1.3v1.3h-1.3zM49.7 39.5h1.1v1.1h-1.1zM30.5 18.7h0.9v0.9h-0.9zM42.1 19.6h0.9v0.9h-0.9zM26.5 25.8h1v1h-1zM49.9 27.1h0.9v0.9h-0.9zM38.7 47.0h1.1v1.1h-1.1zM22.8 44.8h1.8v1.8h-1.8zM6.7 56.9h0.9v0.9h-0.9zM13.6 32.1h1.1v1.1h-1.1zM6.1 51.8h1.1v1.1h-1.1zM33.6 28.3h1.3v1.3h-1.3zM7.7 48.1h1.3v1.3h-1.3zM30.5 1.1h0.9v0.9h-0.9zM26.6 39.5h1.1v1.1h-1.1zM44.8 40.5h1.1v1.1h-1.1zM24.0 37.5h1.3v1.3h-1.3zM24.7 37.1h1.3v1.3h-1.3zM38.7 42.8h0.9v0.9h-0.9zM42.5 26.9h1.1v1.1h-1.1zM42.5 24.2h1.3v1.3h-1.3zM45.1 43.6h0.9v0.9h-0.9zM26.8 29.4h0.9v0.9h-0.9zM35.6 22.1h1.1v1.1h-1.1zM38.8 41.6h1.3v1.3h-1.3zM48.5 38.1h1.3v1.3h-1.3z"/></g>
<ellipse cx="37.2" cy="33.6" rx="8.60" ry="8.15" fill="url(#sph)" filter="url(#blur1)" opacity="1"/>
<rect x="28.9" y="25.8" width="16.6" height="15.7" filter="url(#tb0)" opacity="0.12" clip-path="url(#cp0)"/>
<rect x="0.4" y="0.4" width="68.80" height="60.50" fill="none" stroke="#6a6a6a" stroke-width="0.9"/>
</g>
<g transform="translate(114.9,327.2)">
<rect width="69.6" height="61.3" fill="url(#bg1)"/>
<rect width="69.6" height="61.3" filter="url(#tb1)" opacity="0.113"/>
<g filter="url(#soft)" fill="#505050"><path fill-opacity="0.22" d="M54.4 41.8h1.3v1.3h-1.3zM64.2 52.0h0.9v0.9h-0.9zM60.8 42.6h0.9v0.9h-0.9zM25.2 50.3h1.3v1.3h-1.3zM6.7 28.8h1.1v1.1h-1.1zM4.4 6.2h1.3v1.3h-1.3zM28.5 16.6h1.1v1.1h-1.1zM10.4 46.4h0.9v0.9h-0.9zM24.8 25.9h1.3v1.3h-1.3zM38.2 26.3h1.3v1.3h-1.3zM45.6 59.8h1v1h-1zM9.4 19.2h1v1h-1zM39.2 46.8h1.1v1.1h-1.1zM33.7 20.9h0.9v0.9h-0.9zM50.4 53.5h0.9v0.9h-0.9zM32.8 51.4h1v1h-1zM57.6 12.5h1.1v1.1h-1.1zM33.3 32.1h1.1v1.1h-1.1zM42.8 11.4h1.3v1.3h-1.3zM41.1 36.1h1v1h-1zM20.3 33.2h1v1h-1zM22.6 18.3h1.3v1.3h-1.3zM56.7 45.2h1.3v1.3h-1.3zM19.7 43.8h0.9v0.9h-0.9zM33.9 10.3h1.1v1.1h-1.1zM2.6 42.1h1.1v1.1h-1.1zM2.6 33.6h1v1h-1zM14.4 56.2h1v1h-1zM53.8 7.4h0.9v0.9h-0.9zM41.3 25.7h1.3v1.3h-1.3zM65.0 43.8h0.9v0.9h-0.9zM59.3 20.7h1.1v1.1h-1.1zM10.4 41.8h1.3v1.3h-1.3zM4.8 1.3h1v1h-1zM58.8 44.5h0.9v0.9h-0.9zM60.2 48.0h0.9v0.9h-0.9zM65.8 53.4h2.4v2.4h-2.4zM31.0 19.4h0.9v0.9h-0.9zM39.4 17.1h1.8v1.8h-1.8zM64.6 34.4h1.1v1.1h-1.1zM15.7 15.8h0.9v0.9h-0.9zM9.4 16.9h0.9v0.9h-0.9zM22.9 53.1h0.9v0.9h-0.9zM58.1 57.9h1.8v1.8h-1.8zM54.7 23.3h1.3v1.3h-1.3zM50.3 35.9h0.9v0.9h-0.9zM39.0 30.2h1.1v1.1h-1.1zM15.0 8.4h0.9v0.9h-0.9zM56.9 42.2h1v1h-1zM60.8 45.8h1.1v1.1h-1.1zM16.5 3.6h1.1v1.1h-1.1zM27.7 16.4h1.1v1.1h-1.1zM57.2 14.2h1.3v1.3h-1.3zM49.1 9.9h1v1h-1zM12.2 33.6h2.1v2.1h-2.1zM26.4 44.0h1.1v1.1h-1.1zM40.6 38.8h1v1h-1zM61.7 50.1h1v1h-1zM43.9 39.8h1.3v1.3h-1.3zM16.6 51.0h0.9v0.9h-0.9zM14.5 4.8h1v1h-1zM33.1 57.3h1.1v1.1h-1.1zM63.3 17.3h1.3v1.3h-1.3zM22.9 50.5h1.3v1.3h-1.3zM40.7 1.0h1v1h-1zM4.1 53.0h1.3v1.3h-1.3z"/><path fill-opacity="0.34" d="M68.0 19.3h1.1v1.1h-1.1zM13.4 6.6h1v1h-1zM29.5 30.4h1.1v1.1h-1.1zM59.6 10.9h0.9v0.9h-0.9zM40.7 55.6h1v1h-1zM35.3 13.1h1v1h-1zM26.7 54.9h1.1v1.1h-1.1zM18.2 15.8h0.9v0.9h-0.9zM4.7 15.0h1v1h-1zM19.4 50.5h0.9v0.9h-0.9zM61.7 58.9h0.9v0.9h-0.9zM36.4 5.4h1.3v1.3h-1.3zM4.8 30.2h0.9v0.9h-0.9zM4.5 13.8h1v1h-1zM50.9 25.2h0.9v0.9h-0.9zM2.8 40.2h0.9v0.9h-0.9zM39.1 5.4h1v1h-1zM22.8 11.8h1v1h-1zM65.6 51.7h1.3v1.3h-1.3zM3.2 50.9h1.3v1.3h-1.3zM3.9 43.7h1.1v1.1h-1.1zM45.8 10.7h0.9v0.9h-0.9zM28.8 37.5h1v1h-1zM9.9 36.2h0.9v0.9h-0.9zM54.3 44.4h1.3v1.3h-1.3zM63.9 34.2h1.3v1.3h-1.3zM36.1 43.7h1.3v1.3h-1.3zM17.5 19.6h1v1h-1zM27.1 46.8h1.3v1.3h-1.3zM9.2 6.9h1.3v1.3h-1.3zM25.9 36.7h0.9v0.9h-0.9zM51.5 55.6h1v1h-1zM13.5 57.2h0.9v0.9h-0.9zM61.0 50.4h1.3v1.3h-1.3zM10.9 37.8h1.1v1.1h-1.1zM32.4 52.1h0.9v0.9h-0.9zM12.0 13.5h1.3v1.3h-1.3zM4.2 18.2h1.3v1.3h-1.3zM61.3 41.0h0.9v0.9h-0.9zM42.4 53.6h1.1v1.1h-1.1zM49.7 53.1h1.3v1.3h-1.3zM22.9 17.5h1v1h-1zM16.7 46.3h1v1h-1zM11.5 6.0h1.3v1.3h-1.3zM2.5 23.8h1.1v1.1h-1.1zM55.1 16.2h1v1h-1zM65.6 51.2h1.3v1.3h-1.3zM9.2 47.9h1.1v1.1h-1.1zM30.0 11.3h1.3v1.3h-1.3zM48.7 2.5h1v1h-1zM35.2 30.4h1v1h-1zM29.3 57.7h1v1h-1zM11.8 2.0h1.3v1.3h-1.3zM47.3 55.6h0.9v0.9h-0.9zM15.1 13.0h1v1h-1zM4.7 51.1h1.1v1.1h-1.1zM9.6 17.5h1v1h-1zM35.9 30.0h1.1v1.1h-1.1zM48.6 23.1h1v1h-1zM38.3 22.9h1v1h-1zM0.5 58.4h1.3v1.3h-1.3zM60.5 33.6h1.1v1.1h-1.1zM39.8 40.3h1.1v1.1h-1.1zM38.8 26.1h1.3v1.3h-1.3zM31.4 35.7h1.1v1.1h-1.1zM30.8 38.8h1.3v1.3h-1.3zM31.6 29.9h1.3v1.3h-1.3zM39.5 43.4h1.1v1.1h-1.1zM30.5 34.4h0.9v0.9h-0.9zM44.2 28.2h0.9v0.9h-0.9zM34.0 41.3h1.1v1.1h-1.1zM42.8 28.7h0.9v0.9h-0.9zM45.4 39.7h1.3v1.3h-1.3zM43.2 40.8h1.3v1.3h-1.3zM30.7 39.4h1.3v1.3h-1.3zM36.8 26.2h0.9v0.9h-0.9z"/><path fill-opacity="0.46" d="M9.5 51.6h1.1v1.1h-1.1zM22.3 3.7h1.3v1.3h-1.3zM1.4 28.4h0.9v0.9h-0.9zM35.4 27.2h0.9v0.9h-0.9zM6.3 44.2h1v1h-1zM66.4 52.3h0.9v0.9h-0.9zM3.0 1.6h1v1h-1zM32.0 54.3h0.9v0.9h-0.9zM18.8 46.5h1.3v1.3h-1.3zM66.1 32.8h1.1v1.1h-1.1zM41.5 33.1h1.1v1.1h-1.1zM37.2 26.5h1.1v1.1h-1.1zM47.7 50.1h1.1v1.1h-1.1zM50.5 18.9h1.3v1.3h-1.3zM55.5 48.1h0.9v0.9h-0.9zM1.2 21.3h1v1h-1zM8.7 44.6h1.3v1.3h-1.3zM44.2 58.6h1.8v1.8h-1.8zM30.4 39.7h1.1v1.1h-1.1zM26.7 58.8h1.1v1.1h-1.1zM25.8 42.0h1v1h-1zM40.0 57.8h1v1h-1zM5.2 28.0h1.1v1.1h-1.1zM14.7 43.4h0.9v0.9h-0.9zM44.2 49.7h1v1h-1zM20.2 55.9h0.9v0.9h-0.9zM18.4 35.8h1.3v1.3h-1.3zM32.7 28.6h1v1h-1zM43.3 40.4h1.3v1.3h-1.3zM53.2 59.7h1.1v1.1h-1.1zM58.2 52.1h1.8v1.8h-1.8zM52.0 50.7h1.1v1.1h-1.1zM34.3 58.4h0.9v0.9h-0.9zM38.1 47.9h1.1v1.1h-1.1zM11.7 18.2h1v1h-1zM34.6 25.8h1.1v1.1h-1.1zM31.9 25.7h1v1h-1zM53.1 12.9h1.3v1.3h-1.3zM25.7 28.5h1.1v1.1h-1.1zM32.0 24.4h1.3v1.3h-1.3zM60.3 47.8h0.9v0.9h-0.9zM9.9 22.3h0.9v0.9h-0.9zM35.3 45.2h1.1v1.1h-1.1zM63.8 58.4h1v1h-1zM2.2 15.5h1v1h-1zM64.8 22.3h1.3v1.3h-1.3zM5.2 22.3h1.1v1.1h-1.1zM5.2 32.7h1.1v1.1h-1.1zM1.9 45.4h1.3v1.3h-1.3zM59.5 6.0h1.3v1.3h-1.3zM49.7 45.5h1v1h-1zM53.8 51.5h0.9v0.9h-0.9zM61.5 11.4h1v1h-1zM45.9 39.4h1.1v1.1h-1.1zM68.2 49.2h1v1h-1zM50.5 33.9h1.3v1.3h-1.3zM45.7 24.6h0.9v0.9h-0.9zM46.0 5.5h1.3v1.3h-1.3zM20.0 27.9h0.9v0.9h-0.9zM65.3 29.0h1.3v1.3h-1.3zM55.5 44.1h1.1v1.1h-1.1zM48.7 46.8h1.1v1.1h-1.1zM67.1 39.2h2.4v2.4h-2.4zM27.8 37.0h1.3v1.3h-1.3zM40.8 35.0h1.1v1.1h-1.1zM23.0 48.5h1v1h-1zM5.6 6.4h0.9v0.9h-0.9zM34.5 57.9h1.1v1.1h-1.1zM10.1 27.1h1.1v1.1h-1.1zM61.3 50.4h1.1v1.1h-1.1zM1.9 2.6h0.9v0.9h-0.9zM21.7 11.8h1.1v1.1h-1.1zM40.4 27.2h0.9v0.9h-0.9zM43.0 41.7h1.1v1.1h-1.1zM44.7 41.0h0.9v0.9h-0.9zM43.3 39.4h1.3v1.3h-1.3zM49.5 35.0h0.9v0.9h-0.9zM45.6 38.0h1.3v1.3h-1.3zM45.4 28.1h1.1v1.1h-1.1zM43.0 39.7h1.3v1.3h-1.3zM34.4 39.8h1.3v1.3h-1.3zM36.8 28.2h1.3v1.3h-1.3zM49.0 37.9h1.3v1.3h-1.3zM45.6 27.9h0.9v0.9h-0.9zM46.6 37.6h1.1v1.1h-1.1zM48.0 37.7h1.3v1.3h-1.3zM46.2 28.8h1.1v1.1h-1.1z"/></g>
<ellipse cx="40.1" cy="34.8" rx="6.90" ry="5.70" fill="url(#sph)" filter="url(#blur1)" opacity="1"/>
<rect x="33.5" y="29.4" width="13.2" height="10.8" filter="url(#tb1)" opacity="0.12" clip-path="url(#cp1)"/>
<rect x="0.4" y="0.4" width="68.80" height="60.50" fill="none" stroke="#6a6a6a" stroke-width="0.9"/>
</g>
<g transform="translate(187.1,327.2)">
<rect width="69.6" height="61.3" fill="url(#bg2)"/>
<rect width="69.6" height="61.3" filter="url(#tb2)" opacity="0.090"/>
<g filter="url(#soft)" fill="#505050"><path fill-opacity="0.22" d="M47.7 51.2h1.3v1.3h-1.3zM19.2 38.4h0.9v0.9h-0.9zM54.0 14.8h0.9v0.9h-0.9zM8.7 3.3h1.1v1.1h-1.1zM56.4 42.0h2.1v2.1h-2.1zM53.3 26.6h1.3v1.3h-1.3zM60.1 46.0h1.3v1.3h-1.3zM30.3 53.7h1.1v1.1h-1.1zM32.0 52.1h1.3v1.3h-1.3zM43.6 19.8h1v1h-1zM56.1 29.2h1.1v1.1h-1.1zM40.0 52.6h1.1v1.1h-1.1zM39.7 35.1h1.1v1.1h-1.1zM51.6 17.4h0.9v0.9h-0.9zM44.3 36.2h1.1v1.1h-1.1zM64.8 55.6h1.1v1.1h-1.1zM21.3 57.3h1.1v1.1h-1.1zM9.5 41.7h1.3v1.3h-1.3zM3.0 52.4h0.9v0.9h-0.9zM45.8 38.6h0.9v0.9h-0.9zM41.3 47.3h0.9v0.9h-0.9zM49.7 32.3h1v1h-1zM36.1 5.7h1v1h-1zM65.0 38.4h1.1v1.1h-1.1zM62.3 44.4h1.1v1.1h-1.1zM60.7 38.5h1.1v1.1h-1.1zM48.8 40.0h1.3v1.3h-1.3zM44.5 30.8h1.1v1.1h-1.1zM59.9 50.0h0.9v0.9h-0.9zM21.4 37.8h0.9v0.9h-0.9zM31.6 41.4h0.9v0.9h-0.9zM45.4 46.3h1.3v1.3h-1.3zM44.3 59.5h1.1v1.1h-1.1zM40.4 56.8h1.1v1.1h-1.1zM48.6 51.3h0.9v0.9h-0.9zM52.0 53.3h1.1v1.1h-1.1zM12.1 39.7h1.1v1.1h-1.1zM64.2 28.1h1v1h-1z"/><path fill-opacity="0.34" d="M51.5 45.8h1.3v1.3h-1.3zM62.3 43.7h1.3v1.3h-1.3zM38.1 53.4h1.1v1.1h-1.1zM41.4 7.5h1v1h-1zM19.1 40.8h1v1h-1zM62.8 25.5h1v1h-1zM38.1 39.8h1.3v1.3h-1.3zM56.6 44.6h1v1h-1zM49.9 57.9h1.1v1.1h-1.1zM50.1 55.6h1.3v1.3h-1.3zM37.0 35.0h1.3v1.3h-1.3zM52.4 52.8h1.1v1.1h-1.1zM30.5 5.3h1.1v1.1h-1.1zM61.5 45.9h1.1v1.1h-1.1zM27.9 44.7h1v1h-1zM13.1 55.6h0.9v0.9h-0.9zM60.7 39.7h0.9v0.9h-0.9zM14.9 47.5h1v1h-1zM19.2 50.5h1.1v1.1h-1.1zM17.6 54.4h1.1v1.1h-1.1zM58.8 10.2h1v1h-1zM15.5 47.0h1.1v1.1h-1.1zM30.4 40.5h1v1h-1zM36.2 37.9h1.1v1.1h-1.1zM32.8 39.4h0.9v0.9h-0.9zM62.5 59.8h1v1h-1zM58.8 39.5h1.1v1.1h-1.1zM19.3 47.3h0.9v0.9h-0.9zM43.8 56.4h1.1v1.1h-1.1zM65.3 34.9h1v1h-1zM46.6 54.5h0.9v0.9h-0.9zM42.0 38.7h1.1v1.1h-1.1zM29.6 56.4h1v1h-1zM49.3 42.5h1v1h-1zM16.5 17.3h0.9v0.9h-0.9zM12.8 55.6h1.3v1.3h-1.3zM57.6 54.8h1.1v1.1h-1.1zM16.0 50.0h1.8v1.8h-1.8zM44.0 57.2h0.9v0.9h-0.9zM41.4 15.7h2.1v2.1h-2.1zM59.2 43.9h1.3v1.3h-1.3zM29.6 54.2h1.1v1.1h-1.1zM63.9 16.4h1.1v1.1h-1.1zM16.3 59.8h1v1h-1zM52.6 52.7h1.3v1.3h-1.3zM11.5 51.7h0.9v0.9h-0.9zM59.0 39.1h0.9v0.9h-0.9zM60.5 58.8h1.1v1.1h-1.1zM34.3 38.5h1v1h-1zM51.9 26.9h0.9v0.9h-0.9zM59.6 25.9h1v1h-1zM40.2 44.3h0.9v0.9h-0.9zM16.2 12.6h1v1h-1zM50.9 49.9h1v1h-1zM61.9 56.2h0.9v0.9h-0.9zM20.8 14.4h1.3v1.3h-1.3zM58.9 59.9h0.9v0.9h-0.9zM32.6 20.4h1.1v1.1h-1.1zM32.6 19.6h0.9v0.9h-0.9zM30.4 19.8h1.3v1.3h-1.3zM36.5 36.0h0.9v0.9h-0.9zM34.0 20.2h0.9v0.9h-0.9zM43.8 20.8h0.9v0.9h-0.9zM38.1 19.2h0.9v0.9h-0.9zM36.9 33.7h1.3v1.3h-1.3zM37.9 32.5h1.3v1.3h-1.3zM44.3 21.8h1.1v1.1h-1.1zM36.7 35.2h0.9v0.9h-0.9zM43.0 25.5h1.3v1.3h-1.3zM39.8 32.8h1.1v1.1h-1.1zM27.6 32.9h0.9v0.9h-0.9zM43.4 29.8h1.3v1.3h-1.3zM28.1 29.8h0.9v0.9h-0.9zM38.0 17.5h1.1v1.1h-1.1z"/><path fill-opacity="0.46" d="M11.6 50.6h1.3v1.3h-1.3zM54.0 38.6h0.9v0.9h-0.9zM42.9 33.3h1v1h-1zM43.0 36.4h1.1v1.1h-1.1zM58.7 41.3h2.4v2.4h-2.4zM11.2 40.1h1.3v1.3h-1.3zM4.0 47.1h1.3v1.3h-1.3zM61.2 30.5h1.3v1.3h-1.3zM47.9 58.4h0.9v0.9h-0.9zM49.4 54.2h0.9v0.9h-0.9zM33.7 54.0h1.1v1.1h-1.1zM39.0 44.5h1.1v1.1h-1.1zM64.3 22.9h1v1h-1zM60.7 48.3h2.4v2.4h-2.4zM62.5 47.7h1.1v1.1h-1.1zM64.8 11.4h1v1h-1zM63.2 28.0h1.3v1.3h-1.3zM40.3 54.1h0.9v0.9h-0.9zM52.5 56.3h1.1v1.1h-1.1zM45.8 34.1h1.1v1.1h-1.1zM30.5 50.0h1v1h-1zM32.4 38.9h1v1h-1zM12.2 51.5h1.3v1.3h-1.3zM47.9 42.2h1.1v1.1h-1.1zM58.2 10.3h0.9v0.9h-0.9zM47.6 13.5h1v1h-1zM68.0 16.6h1.1v1.1h-1.1zM33.7 42.7h1.1v1.1h-1.1zM55.8 55.3h1.1v1.1h-1.1zM16.7 51.2h1.3v1.3h-1.3zM33.0 44.9h0.9v0.9h-0.9zM33.0 50.9h1.1v1.1h-1.1zM63.1 28.2h1.3v1.3h-1.3zM63.7 28.8h1.1v1.1h-1.1zM13.6 37.2h1.3v1.3h-1.3zM23.6 20.5h1.3v1.3h-1.3zM41.7 46.9h0.9v0.9h-0.9zM22.9 56.9h0.9v0.9h-0.9zM61.1 50.4h2.4v2.4h-2.4zM28.6 36.3h0.9v0.9h-0.9zM59.7 47.4h1v1h-1zM1.5 50.3h1v1h-1zM47.6 38.4h1v1h-1zM29.0 41.0h0.9v0.9h-0.9zM11.8 54.2h0.9v0.9h-0.9zM54.3 38.9h1.3v1.3h-1.3zM67.0 31.2h1.3v1.3h-1.3zM50.8 35.1h0.9v0.9h-0.9zM55.6 29.8h1.1v1.1h-1.1zM57.5 49.2h1v1h-1zM57.3 27.2h1.3v1.3h-1.3zM39.5 56.2h1v1h-1zM61.1 44.5h2.1v2.1h-2.1zM41.2 46.9h1.3v1.3h-1.3zM31.6 57.9h1.3v1.3h-1.3zM34.6 18.6h1.3v1.3h-1.3zM37.0 20.9h0.9v0.9h-0.9zM37.5 18.3h1.1v1.1h-1.1zM47.0 28.9h1.3v1.3h-1.3zM43.1 27.1h1.1v1.1h-1.1zM42.7 20.6h1.1v1.1h-1.1zM29.4 19.7h0.9v0.9h-0.9zM28.5 28.2h0.9v0.9h-0.9zM27.5 25.3h1.1v1.1h-1.1zM30.0 33.1h1.1v1.1h-1.1zM41.6 20.0h0.9v0.9h-0.9zM30.6 21.0h1.1v1.1h-1.1zM30.2 20.5h1.1v1.1h-1.1z"/></g>
<ellipse cx="36.5" cy="27.4" rx="7.10" ry="5.95" fill="url(#sph)" filter="url(#blur1)" opacity="1"/>
<rect x="29.7" y="21.8" width="13.6" height="11.3" filter="url(#tb2)" opacity="0.12" clip-path="url(#cp2)"/>
<rect x="0.4" y="0.4" width="68.80" height="60.50" fill="none" stroke="#6a6a6a" stroke-width="0.9"/>
</g>
<g transform="translate(259.3,327.2)">
<rect width="69.6" height="61.3" fill="url(#bg3)"/>
<rect width="69.6" height="61.3" filter="url(#tb3)" opacity="0.113"/>
<g filter="url(#soft)" fill="#505050"><path fill-opacity="0.22" d="M39.5 45.8h1v1h-1zM24.1 13.5h1.3v1.3h-1.3zM62.9 58.0h1v1h-1zM44.0 37.0h0.9v0.9h-0.9zM46.2 18.2h1.3v1.3h-1.3zM18.2 10.5h1.1v1.1h-1.1zM19.0 56.3h1.3v1.3h-1.3zM44.6 50.1h1v1h-1zM61.3 21.7h1.1v1.1h-1.1zM13.2 39.3h0.9v0.9h-0.9zM51.0 51.8h1.3v1.3h-1.3zM64.1 39.5h1.1v1.1h-1.1zM24.0 48.5h1.3v1.3h-1.3zM36.2 1.1h1.1v1.1h-1.1zM13.9 9.3h1.3v1.3h-1.3zM40.1 41.1h1v1h-1zM23.8 34.6h1.1v1.1h-1.1zM17.4 12.6h1v1h-1zM39.2 2.8h0.9v0.9h-0.9zM14.5 38.7h0.9v0.9h-0.9zM51.3 8.5h1.1v1.1h-1.1zM32.3 42.5h1v1h-1zM31.9 34.3h1.1v1.1h-1.1zM57.9 0.4h0.9v0.9h-0.9zM38.9 36.8h1.1v1.1h-1.1zM18.5 57.3h1.1v1.1h-1.1zM17.2 12.2h2.1v2.1h-2.1zM29.0 31.3h1.3v1.3h-1.3zM1.6 41.3h1v1h-1zM35.7 55.9h1.3v1.3h-1.3zM8.2 8.9h0.9v0.9h-0.9zM29.1 59.0h1.1v1.1h-1.1zM55.1 0.9h1.1v1.1h-1.1zM40.6 7.0h0.9v0.9h-0.9zM48.7 25.1h1.3v1.3h-1.3zM12.8 48.5h1v1h-1zM16.2 21.1h0.9v0.9h-0.9zM0.6 29.9h1v1h-1zM47.5 58.6h1.3v1.3h-1.3zM51.2 12.0h1v1h-1zM65.8 27.4h0.9v0.9h-0.9zM3.0 53.7h1v1h-1zM14.9 28.6h1.3v1.3h-1.3zM29.4 38.8h1v1h-1zM54.8 14.6h1.1v1.1h-1.1z"/><path fill-opacity="0.34" d="M1.5 35.2h1v1h-1zM12.0 43.8h1v1h-1zM32.1 3.8h1.1v1.1h-1.1zM28.7 36.6h0.9v0.9h-0.9zM2.9 25.7h0.9v0.9h-0.9zM41.2 38.0h1.3v1.3h-1.3zM47.8 27.2h1v1h-1zM8.9 25.1h1v1h-1zM14.8 42.3h1v1h-1zM6.9 12.7h0.9v0.9h-0.9zM12.9 43.9h1.1v1.1h-1.1zM47.2 7.0h1v1h-1zM59.9 52.6h1v1h-1zM50.0 32.5h1.3v1.3h-1.3zM42.7 1.4h1.1v1.1h-1.1zM2.7 25.9h1v1h-1zM28.2 37.1h1.3v1.3h-1.3zM25.5 13.7h1v1h-1zM2.3 29.1h0.9v0.9h-0.9zM44.9 34.2h1v1h-1zM3.3 25.0h0.9v0.9h-0.9zM38.9 21.2h1v1h-1zM15.2 58.3h1.1v1.1h-1.1zM21.2 32.9h1.3v1.3h-1.3zM27.8 37.2h0.9v0.9h-0.9zM4.7 8.7h1v1h-1zM27.8 4.0h1.1v1.1h-1.1zM38.3 56.3h0.9v0.9h-0.9zM11.1 10.6h1.1v1.1h-1.1zM64.2 16.2h1v1h-1zM23.8 46.4h1v1h-1zM18.4 47.3h0.9v0.9h-0.9zM1.4 43.1h1.1v1.1h-1.1zM44.1 23.1h0.9v0.9h-0.9zM61.2 59.5h0.9v0.9h-0.9zM45.3 56.1h1.3v1.3h-1.3zM52.4 42.0h0.9v0.9h-0.9zM26.8 11.7h1v1h-1zM51.2 47.5h1.3v1.3h-1.3zM7.7 24.9h1.1v1.1h-1.1zM28.1 58.0h1v1h-1zM12.4 55.4h1.1v1.1h-1.1zM21.5 56.4h0.9v0.9h-0.9zM23.8 54.8h0.9v0.9h-0.9zM26.1 5.9h1.3v1.3h-1.3zM50.3 41.3h0.9v0.9h-0.9zM3.2 11.5h0.9v0.9h-0.9zM2.4 26.7h0.9v0.9h-0.9zM42.4 28.5h1v1h-1zM37.8 48.9h1.3v1.3h-1.3zM17.6 5.2h0.9v0.9h-0.9zM19.5 48.0h0.9v0.9h-0.9zM3.0 32.3h1.1v1.1h-1.1zM28.5 50.0h1v1h-1zM32.8 36.2h1.1v1.1h-1.1zM31.1 20.3h0.9v0.9h-0.9zM32.0 21.4h1.1v1.1h-1.1zM29.1 19.1h1.3v1.3h-1.3zM35.3 35.2h1.3v1.3h-1.3zM24.3 36.7h1.1v1.1h-1.1zM40.5 34.8h0.9v0.9h-0.9zM42.1 21.3h1.1v1.1h-1.1zM36.6 22.1h1.3v1.3h-1.3zM38.5 38.2h0.9v0.9h-0.9zM40.6 36.0h1.3v1.3h-1.3zM21.2 23.1h1.3v1.3h-1.3zM22.4 20.5h1.1v1.1h-1.1zM32.1 36.6h0.9v0.9h-0.9zM28.9 35.8h1.3v1.3h-1.3zM32.7 18.3h1.1v1.1h-1.1z"/><path fill-opacity="0.46" d="M36.5 54.0h0.9v0.9h-0.9zM10.0 47.8h0.9v0.9h-0.9zM51.6 50.3h1v1h-1zM2.1 34.5h1.8v1.8h-1.8zM35.1 23.8h1v1h-1zM23.9 44.9h1v1h-1zM1.2 47.5h1.3v1.3h-1.3zM33.6 40.9h1v1h-1zM53.4 24.4h1v1h-1zM1.6 10.5h1.3v1.3h-1.3zM30.5 14.6h0.9v0.9h-0.9zM22.1 55.0h1v1h-1zM39.4 45.0h1.3v1.3h-1.3zM51.5 28.9h1.1v1.1h-1.1zM6.0 29.4h1v1h-1zM51.4 13.4h0.9v0.9h-0.9zM53.3 48.7h0.9v0.9h-0.9zM29.3 42.8h1v1h-1zM41.2 37.2h1.3v1.3h-1.3zM54.6 2.3h1.1v1.1h-1.1zM50.3 12.0h0.9v0.9h-0.9zM25.6 48.7h1.1v1.1h-1.1zM59.3 44.4h1.1v1.1h-1.1zM47.2 51.8h1.1v1.1h-1.1zM53.5 53.5h1.3v1.3h-1.3zM66.7 49.2h1.3v1.3h-1.3zM38.7 30.5h1v1h-1zM42.0 55.1h1.3v1.3h-1.3zM33.7 7.4h0.9v0.9h-0.9zM41.4 19.7h1v1h-1zM7.4 3.3h1.3v1.3h-1.3zM59.0 39.5h1v1h-1zM16.0 54.2h1.1v1.1h-1.1zM22.5 0.8h2.4v2.4h-2.4zM5.2 38.4h0.9v0.9h-0.9zM60.5 49.9h0.9v0.9h-0.9zM36.3 31.5h1.3v1.3h-1.3zM23.7 30.1h0.9v0.9h-0.9zM37.1 24.8h1v1h-1zM64.0 54.3h0.9v0.9h-0.9zM24.9 49.9h1.3v1.3h-1.3zM57.3 41.5h1v1h-1zM12.0 17.4h1v1h-1zM64.3 59.0h1v1h-1zM15.1 59.5h0.9v0.9h-0.9zM23.1 38.0h0.9v0.9h-0.9zM8.1 30.5h1v1h-1zM44.6 10.0h1v1h-1zM40.1 34.2h1.1v1.1h-1.1zM52.6 43.0h2.1v2.1h-2.1zM42.6 17.0h1v1h-1zM37.9 33.5h1.1v1.1h-1.1zM39.8 25.9h1.1v1.1h-1.1zM39.8 21.4h1.3v1.3h-1.3zM35.2 36.4h0.9v0.9h-0.9zM33.1 36.9h0.9v0.9h-0.9zM31.8 38.8h1.1v1.1h-1.1zM33.4 35.8h1.3v1.3h-1.3zM43.9 25.3h1.1v1.1h-1.1zM33.0 20.7h1.3v1.3h-1.3zM40.6 30.8h1.3v1.3h-1.3zM41.1 20.3h0.9v0.9h-0.9zM22.2 21.5h1.3v1.3h-1.3zM39.8 27.6h1.3v1.3h-1.3zM38.0 22.4h0.9v0.9h-0.9zM25.1 32.2h1.1v1.1h-1.1zM31.9 38.0h1.3v1.3h-1.3z"/></g>
<ellipse cx="32.6" cy="29.0" rx="8.05" ry="7.25" fill="url(#sph)" filter="url(#blur1)" opacity="1"/>
<rect x="24.8" y="22.1" width="15.5" height="13.9" filter="url(#tb3)" opacity="0.12" clip-path="url(#cp3)"/>
<rect x="0.4" y="0.4" width="68.80" height="60.50" fill="none" stroke="#6a6a6a" stroke-width="0.9"/>
</g>
<g transform="translate(331.4,327.2)">
<rect width="69.6" height="61.3" fill="url(#bg4)"/>
<rect width="69.6" height="61.3" filter="url(#tb4)" opacity="0.113"/>
<g filter="url(#soft)" fill="#505050"><path fill-opacity="0.22" d="M36.8 3.3h1.1v1.1h-1.1zM20.4 56.3h0.9v0.9h-0.9zM24.4 4.3h1.1v1.1h-1.1zM49.5 55.6h1v1h-1zM15.5 55.4h0.9v0.9h-0.9zM11.7 34.1h2.1v2.1h-2.1zM44.8 47.2h1.1v1.1h-1.1zM22.4 21.8h1v1h-1zM18.7 23.5h1.1v1.1h-1.1zM7.4 59.8h0.9v0.9h-0.9zM19.1 12.9h1.1v1.1h-1.1zM0.3 40.4h1v1h-1zM58.8 29.9h2.4v2.4h-2.4zM53.2 19.3h1.1v1.1h-1.1zM4.2 44.0h1.8v1.8h-1.8zM2.8 49.5h1.1v1.1h-1.1zM67.8 27.1h1.3v1.3h-1.3zM62.4 37.4h1.3v1.3h-1.3zM34.9 35.6h1.1v1.1h-1.1zM15.9 11.6h1v1h-1zM50.0 4.3h1.1v1.1h-1.1zM5.4 13.9h1.1v1.1h-1.1zM42.1 8.9h1.3v1.3h-1.3zM19.2 6.2h1.1v1.1h-1.1zM12.9 11.3h1.3v1.3h-1.3zM45.2 14.0h0.9v0.9h-0.9zM47.3 9.6h0.9v0.9h-0.9zM53.1 8.9h1v1h-1zM52.3 33.8h0.9v0.9h-0.9zM57.8 17.1h0.9v0.9h-0.9zM56.5 37.2h1.3v1.3h-1.3zM46.2 24.5h1v1h-1zM55.7 16.2h1v1h-1zM64.1 10.9h1v1h-1zM31.3 28.4h1.3v1.3h-1.3zM54.5 6.4h0.9v0.9h-0.9zM13.8 57.3h0.9v0.9h-0.9zM11.9 17.2h1.3v1.3h-1.3zM10.6 49.4h0.9v0.9h-0.9zM2.8 3.7h1.3v1.3h-1.3zM38.0 26.1h1.3v1.3h-1.3zM21.1 49.4h0.9v0.9h-0.9zM43.7 28.7h1.1v1.1h-1.1zM28.6 5.2h1.3v1.3h-1.3zM1.5 10.6h1.3v1.3h-1.3zM38.1 5.7h1.1v1.1h-1.1z"/><path fill-opacity="0.34" d="M13.0 5.8h1v1h-1zM40.0 29.3h1.8v1.8h-1.8zM64.7 38.7h1v1h-1zM22.2 40.2h1v1h-1zM18.7 57.8h1v1h-1zM43.6 25.6h1v1h-1zM42.4 16.7h0.9v0.9h-0.9zM49.3 58.3h1.1v1.1h-1.1zM67.7 35.6h2.1v2.1h-2.1zM18.7 50.3h0.9v0.9h-0.9zM17.9 9.2h1.3v1.3h-1.3zM58.1 43.8h1.1v1.1h-1.1zM10.2 27.7h1v1h-1zM36.5 35.3h1v1h-1zM30.3 24.3h1.1v1.1h-1.1zM55.4 59.3h1.1v1.1h-1.1zM34.5 2.0h1v1h-1zM42.2 31.0h0.9v0.9h-0.9zM20.4 33.0h0.9v0.9h-0.9zM59.5 14.9h1.3v1.3h-1.3zM2.7 12.3h1.1v1.1h-1.1zM53.6 15.9h0.9v0.9h-0.9zM57.0 18.5h1.3v1.3h-1.3zM46.3 26.8h0.9v0.9h-0.9zM57.8 25.4h1.1v1.1h-1.1zM45.5 12.6h1v1h-1zM48.1 2.2h1.3v1.3h-1.3zM41.0 23.5h1.1v1.1h-1.1zM31.6 11.5h0.9v0.9h-0.9zM45.4 46.6h1.1v1.1h-1.1zM54.4 14.4h1v1h-1zM41.9 8.7h1.1v1.1h-1.1zM33.3 48.4h0.9v0.9h-0.9zM11.4 34.8h1.1v1.1h-1.1zM24.1 28.2h1.1v1.1h-1.1zM38.3 36.1h1.3v1.3h-1.3zM28.8 36.4h1.3v1.3h-1.3zM24.0 20.7h0.9v0.9h-0.9zM29.6 17.1h1.1v1.1h-1.1zM43.4 36.8h1.1v1.1h-1.1zM25.5 21.7h1.1v1.1h-1.1zM24.0 23.5h0.9v0.9h-0.9zM45.9 29.9h1.3v1.3h-1.3zM37.3 17.6h1.3v1.3h-1.3zM31.4 34.6h0.9v0.9h-0.9zM28.3 35.2h0.9v0.9h-0.9zM34.3 16.2h1.3v1.3h-1.3zM24.1 23.7h1.3v1.3h-1.3zM31.1 34.8h1.1v1.1h-1.1zM23.2 21.0h1.3v1.3h-1.3zM40.5 38.6h1.1v1.1h-1.1zM24.8 18.8h1.3v1.3h-1.3zM30.3 33.9h1.1v1.1h-1.1zM25.1 19.2h1.3v1.3h-1.3zM32.8 18.7h1.1v1.1h-1.1z"/><path fill-opacity="0.46" d="M21.1 3.3h1v1h-1zM61.8 41.8h1.3v1.3h-1.3zM64.6 38.4h0.9v0.9h-0.9zM0.7 32.1h1.1v1.1h-1.1zM50.8 30.1h1v1h-1zM15.0 42.8h1.3v1.3h-1.3zM52.1 40.1h1v1h-1zM38.2 32.8h0.9v0.9h-0.9zM48.0 29.0h1.1v1.1h-1.1zM46.3 9.8h1.3v1.3h-1.3zM46.2 47.0h1v1h-1zM50.3 46.5h1.3v1.3h-1.3zM46.2 28.3h1.3v1.3h-1.3zM29.1 41.5h1.1v1.1h-1.1zM18.3 19.6h0.9v0.9h-0.9zM26.6 4.1h0.9v0.9h-0.9zM48.9 30.4h1.3v1.3h-1.3zM35.7 31.2h1v1h-1zM35.2 5.1h1.1v1.1h-1.1zM1.3 51.1h1v1h-1zM36.9 24.9h0.9v0.9h-0.9zM47.7 38.2h0.9v0.9h-0.9zM49.3 31.7h0.9v0.9h-0.9zM24.0 16.4h1v1h-1zM30.0 44.0h0.9v0.9h-0.9zM25.9 27.7h1v1h-1zM62.2 32.4h1.1v1.1h-1.1zM29.7 13.3h0.9v0.9h-0.9zM37.6 47.0h1.1v1.1h-1.1zM48.3 1.3h1.3v1.3h-1.3zM38.1 42.9h1.3v1.3h-1.3zM62.6 13.2h1.3v1.3h-1.3zM41.1 21.8h1.1v1.1h-1.1zM60.8 49.6h1.1v1.1h-1.1zM5.6 14.9h1.1v1.1h-1.1zM43.9 19.7h2.1v2.1h-2.1zM20.2 26.8h1v1h-1zM28.3 5.9h1v1h-1zM28.2 25.8h1.3v1.3h-1.3zM58.4 31.9h0.9v0.9h-0.9zM24.2 7.6h1.3v1.3h-1.3zM43.4 51.2h1.3v1.3h-1.3zM54.8 6.3h2.4v2.4h-2.4zM10.7 41.4h0.9v0.9h-0.9zM25.0 24.1h0.9v0.9h-0.9zM60.6 4.9h1v1h-1zM43.4 58.1h1.1v1.1h-1.1zM27.5 36.9h0.9v0.9h-0.9zM12.4 39.4h1v1h-1zM51.6 9.5h1.3v1.3h-1.3zM23.9 24.2h1.1v1.1h-1.1zM26.3 17.4h1.1v1.1h-1.1zM44.9 23.2h0.9v0.9h-0.9zM35.3 35.0h0.9v0.9h-0.9zM40.0 18.8h1.1v1.1h-1.1zM46.9 27.3h1.3v1.3h-1.3zM29.3 16.8h0.9v0.9h-0.9zM23.7 28.6h1.3v1.3h-1.3zM34.3 39.0h1.3v1.3h-1.3zM27.8 31.0h0.9v0.9h-0.9zM26.6 25.1h1.3v1.3h-1.3zM41.1 17.4h1.3v1.3h-1.3z"/></g>
<ellipse cx="35.7" cy="27.4" rx="8.40" ry="8.05" fill="url(#sph)" filter="url(#blur1)" opacity="1"/>
<rect x="27.6" y="19.7" width="16.2" height="15.5" filter="url(#tb4)" opacity="0.12" clip-path="url(#cp4)"/>
<rect x="0.4" y="0.4" width="68.80" height="60.50" fill="none" stroke="#6a6a6a" stroke-width="0.9"/>
</g>
<g transform="translate(403.4,327.2)">
<rect width="69.6" height="61.3" fill="url(#bg5)"/>
<rect width="69.6" height="61.3" filter="url(#tb5)" opacity="0.099"/>
<g filter="url(#soft)" fill="#505050"><path fill-opacity="0.22" d="M15.0 16.7h1.8v1.8h-1.8zM18.7 40.7h0.9v0.9h-0.9zM8.8 41.2h0.9v0.9h-0.9zM20.3 45.2h1.1v1.1h-1.1zM40.5 4.3h1.1v1.1h-1.1zM31.3 43.0h1v1h-1zM65.6 51.9h1.1v1.1h-1.1zM58.3 49.9h0.9v0.9h-0.9zM44.0 17.7h1.3v1.3h-1.3zM25.0 26.6h0.9v0.9h-0.9zM10.7 18.2h1.3v1.3h-1.3zM53.6 21.2h1v1h-1zM45.1 42.0h1.3v1.3h-1.3zM37.3 34.2h1v1h-1zM20.7 21.4h1.3v1.3h-1.3zM11.5 7.4h0.9v0.9h-0.9zM50.2 54.7h1.3v1.3h-1.3zM55.3 17.1h1.1v1.1h-1.1zM8.8 4.7h1.3v1.3h-1.3zM31.2 42.4h1v1h-1zM26.4 4.4h0.9v0.9h-0.9zM17.2 9.4h1v1h-1zM62.8 55.7h1.3v1.3h-1.3zM42.2 21.5h0.9v0.9h-0.9zM38.6 55.5h1.3v1.3h-1.3zM49.2 57.8h0.9v0.9h-0.9zM15.3 51.4h0.9v0.9h-0.9zM7.4 0.8h0.9v0.9h-0.9zM48.9 30.3h1.1v1.1h-1.1zM48.8 26.7h1.1v1.1h-1.1zM66.0 23.7h1v1h-1zM22.2 4.3h0.9v0.9h-0.9zM54.0 36.7h1v1h-1zM11.4 25.1h1.1v1.1h-1.1zM38.0 23.7h1v1h-1zM11.5 32.2h0.9v0.9h-0.9zM30.7 59.4h0.9v0.9h-0.9zM31.5 5.9h1.1v1.1h-1.1zM17.9 7.8h1v1h-1zM63.0 48.4h1v1h-1zM66.1 17.9h0.9v0.9h-0.9zM43.3 9.8h1.1v1.1h-1.1zM68.3 0.9h0.9v0.9h-0.9zM6.0 49.1h1v1h-1zM40.2 55.5h0.9v0.9h-0.9zM25.8 55.2h1v1h-1z"/><path fill-opacity="0.34" d="M58.7 56.8h0.9v0.9h-0.9zM56.8 5.3h0.9v0.9h-0.9zM44.7 26.9h1.3v1.3h-1.3zM47.0 2.5h1.1v1.1h-1.1zM13.2 40.3h1v1h-1zM66.4 35.8h1.1v1.1h-1.1zM36.6 35.7h1v1h-1zM64.5 28.6h1v1h-1zM43.9 46.3h1.1v1.1h-1.1zM38.6 27.4h1.3v1.3h-1.3zM25.3 8.3h0.9v0.9h-0.9zM9.7 31.5h1v1h-1zM35.9 10.4h0.9v0.9h-0.9zM60.2 27.9h0.9v0.9h-0.9zM16.3 19.4h0.9v0.9h-0.9zM22.0 26.2h1v1h-1zM16.2 1.7h1.1v1.1h-1.1zM5.2 31.4h1v1h-1zM26.6 54.5h1.3v1.3h-1.3zM4.8 22.2h1.3v1.3h-1.3zM64.6 30.6h1.8v1.8h-1.8zM4.1 6.8h0.9v0.9h-0.9zM15.5 6.1h0.9v0.9h-0.9zM32.2 18.9h1v1h-1zM67.5 47.0h1.1v1.1h-1.1zM25.5 23.9h1v1h-1zM66.4 3.4h1.3v1.3h-1.3zM34.8 24.5h1.1v1.1h-1.1zM20.1 27.8h1.3v1.3h-1.3zM19.7 3.4h1v1h-1zM64.6 53.6h1.3v1.3h-1.3zM18.6 21.7h0.9v0.9h-0.9zM41.7 21.5h1.1v1.1h-1.1zM28.9 15.1h1.3v1.3h-1.3zM5.6 44.3h1.1v1.1h-1.1zM14.2 59.0h1.3v1.3h-1.3zM13.6 6.6h0.9v0.9h-0.9zM23.6 52.1h1v1h-1zM38.3 42.8h1v1h-1zM40.2 36.3h1.1v1.1h-1.1zM44.6 31.2h1.3v1.3h-1.3zM30.4 34.4h1.1v1.1h-1.1zM40.8 19.8h0.9v0.9h-0.9zM39.6 35.1h1.3v1.3h-1.3zM37.0 21.4h1.1v1.1h-1.1zM43.6 32.9h1.1v1.1h-1.1zM44.2 30.7h1.3v1.3h-1.3zM47.1 28.6h1.3v1.3h-1.3zM46.4 32.5h1.3v1.3h-1.3zM32.9 19.3h1.3v1.3h-1.3zM32.1 35.2h0.9v0.9h-0.9zM37.0 22.1h1.1v1.1h-1.1zM45.9 30.4h0.9v0.9h-0.9zM29.3 23.9h1.3v1.3h-1.3zM29.3 26.5h1.3v1.3h-1.3z"/><path fill-opacity="0.46" d="M51.6 11.2h1.3v1.3h-1.3zM47.3 38.3h1.1v1.1h-1.1zM22.2 12.5h1v1h-1zM64.8 36.9h1.1v1.1h-1.1zM60.1 36.0h1.3v1.3h-1.3zM14.6 36.6h1.3v1.3h-1.3zM39.6 51.8h1.3v1.3h-1.3zM57.5 22.6h1v1h-1zM64.8 36.4h1.3v1.3h-1.3zM16.7 57.0h1v1h-1zM5.3 5.6h1v1h-1zM37.6 55.9h1.3v1.3h-1.3zM4.7 42.5h1.3v1.3h-1.3zM21.1 49.8h0.9v0.9h-0.9zM49.9 21.8h0.9v0.9h-0.9zM11.9 56.8h1.1v1.1h-1.1zM50.2 47.2h1.3v1.3h-1.3zM56.4 11.9h1.1v1.1h-1.1zM46.0 26.2h1.1v1.1h-1.1zM5.3 44.5h1.1v1.1h-1.1zM28.1 9.9h1.1v1.1h-1.1zM8.9 23.4h1.3v1.3h-1.3zM40.6 41.0h1v1h-1zM50.3 26.2h0.9v0.9h-0.9zM2.9 51.7h0.9v0.9h-0.9zM16.1 16.6h1v1h-1zM13.7 55.7h1.3v1.3h-1.3zM53.6 49.0h1.1v1.1h-1.1zM19.5 32.0h1v1h-1zM21.0 23.6h1.3v1.3h-1.3zM46.6 55.9h1v1h-1zM1.6 52.6h1v1h-1zM20.6 8.7h1v1h-1zM10.2 5.9h0.9v0.9h-0.9zM54.2 53.4h1.3v1.3h-1.3zM45.4 23.7h0.9v0.9h-0.9zM41.3 36.7h0.9v0.9h-0.9zM28.5 29.1h1.3v1.3h-1.3zM46.4 21.8h1.1v1.1h-1.1zM37.4 19.2h1.3v1.3h-1.3zM35.7 33.7h1.1v1.1h-1.1zM35.8 21.1h0.9v0.9h-0.9zM41.6 21.2h1.3v1.3h-1.3zM45.7 24.7h1.3v1.3h-1.3zM30.6 22.3h0.9v0.9h-0.9zM42.3 34.6h1.1v1.1h-1.1zM32.9 21.4h1.3v1.3h-1.3zM40.6 33.4h0.9v0.9h-0.9zM37.2 35.8h1.3v1.3h-1.3z"/></g>
<ellipse cx="38.1" cy="28.3" rx="7.10" ry="5.95" fill="url(#sph)" filter="url(#blur1)" opacity="0.9"/>
<rect x="31.3" y="22.7" width="13.6" height="11.3" filter="url(#tb5)" opacity="0.12" clip-path="url(#cp5)"/>
<rect x="0.4" y="0.4" width="68.80" height="60.50" fill="none" stroke="#6a6a6a" stroke-width="0.9"/>
</g>
<g transform="translate(475.5,327.2)">
<rect width="69.6" height="61.3" fill="url(#bg6)"/>
<rect width="69.6" height="61.3" filter="url(#tb6)" opacity="0.090"/>
<g filter="url(#soft)" fill="#505050"><path fill-opacity="0.22" d="M39.7 7.4h0.9v0.9h-0.9zM59.3 45.4h0.9v0.9h-0.9zM30.9 13.5h1.1v1.1h-1.1zM57.5 25.8h1v1h-1zM25.7 1.0h1.1v1.1h-1.1zM44.1 14.9h1v1h-1zM53.6 48.0h1.3v1.3h-1.3zM56.0 32.6h0.9v0.9h-0.9zM52.4 46.3h0.9v0.9h-0.9zM49.1 36.9h0.9v0.9h-0.9zM66.7 21.7h1.1v1.1h-1.1zM45.6 35.6h1.1v1.1h-1.1zM6.5 9.2h1v1h-1zM37.1 31.4h1.1v1.1h-1.1zM45.1 58.5h1.1v1.1h-1.1zM1.4 53.2h1v1h-1zM66.4 59.8h1.3v1.3h-1.3zM50.8 50.6h1.3v1.3h-1.3zM7.6 13.1h1.8v1.8h-1.8zM1.4 42.3h1.3v1.3h-1.3zM63.6 36.3h1.3v1.3h-1.3zM57.7 21.1h1.1v1.1h-1.1zM4.4 37.0h1v1h-1zM61.6 50.6h1.1v1.1h-1.1zM62.2 46.5h1.3v1.3h-1.3zM25.1 11.1h0.9v0.9h-0.9zM9.3 9.1h0.9v0.9h-0.9zM15.9 8.4h1.3v1.3h-1.3zM62.8 43.7h1v1h-1zM65.3 20.0h1.3v1.3h-1.3zM14.8 20.5h1v1h-1zM2.9 36.6h0.9v0.9h-0.9z"/><path fill-opacity="0.34" d="M11.4 29.2h1.1v1.1h-1.1zM61.5 25.1h0.9v0.9h-0.9zM23.7 31.9h1.3v1.3h-1.3zM8.4 15.4h1.1v1.1h-1.1zM24.1 11.7h1.3v1.3h-1.3zM20.9 5.8h0.9v0.9h-0.9zM14.7 40.7h1.3v1.3h-1.3zM31.7 31.8h0.9v0.9h-0.9zM11.5 5.2h1.1v1.1h-1.1zM44.4 1.6h1v1h-1zM56.7 51.6h1.3v1.3h-1.3zM67.8 53.6h0.9v0.9h-0.9zM20.4 28.5h1.1v1.1h-1.1zM0.7 13.2h1.3v1.3h-1.3zM59.8 25.8h1.3v1.3h-1.3zM57.4 57.7h1.3v1.3h-1.3zM45.0 49.6h1.3v1.3h-1.3zM66.7 26.5h1.1v1.1h-1.1zM64.2 59.6h1.1v1.1h-1.1zM23.7 24.0h1.3v1.3h-1.3zM47.6 23.1h1v1h-1zM46.6 15.8h1.1v1.1h-1.1zM13.6 3.4h1v1h-1zM53.3 39.4h0.9v0.9h-0.9zM41.0 52.4h1.8v1.8h-1.8zM22.8 33.3h0.9v0.9h-0.9zM36.4 2.8h1v1h-1zM44.3 26.0h1.1v1.1h-1.1zM11.9 0.8h0.9v0.9h-0.9zM10.3 12.6h1.3v1.3h-1.3zM15.5 58.3h1.1v1.1h-1.1zM65.1 2.3h1.3v1.3h-1.3zM39.9 11.0h1v1h-1zM39.0 44.5h1.3v1.3h-1.3zM30.4 43.8h1.1v1.1h-1.1zM34.9 46.2h1.1v1.1h-1.1zM38.4 32.1h0.9v0.9h-0.9zM41.2 43.6h0.9v0.9h-0.9zM30.3 32.0h1.1v1.1h-1.1zM44.4 42.7h1.1v1.1h-1.1zM42.9 44.0h1.1v1.1h-1.1zM44.4 40.4h1.1v1.1h-1.1zM31.9 45.1h1.3v1.3h-1.3zM32.8 44.8h0.9v0.9h-0.9zM39.8 44.5h1.1v1.1h-1.1zM31.0 45.3h0.9v0.9h-0.9z"/><path fill-opacity="0.46" d="M10.2 25.3h1.3v1.3h-1.3zM23.2 59.2h0.9v0.9h-0.9zM44.4 29.8h1.3v1.3h-1.3zM44.2 45.1h0.9v0.9h-0.9zM30.1 25.7h1.3v1.3h-1.3zM40.9 42.0h0.9v0.9h-0.9zM46.0 59.0h1.3v1.3h-1.3zM3.3 3.5h0.9v0.9h-0.9zM43.3 8.3h1.1v1.1h-1.1zM41.4 37.6h1v1h-1zM57.2 33.2h0.9v0.9h-0.9zM7.0 24.6h1v1h-1zM36.9 35.0h0.9v0.9h-0.9zM45.3 6.0h1v1h-1zM27.2 21.8h1.3v1.3h-1.3zM12.2 25.2h1.1v1.1h-1.1zM34.4 8.0h0.9v0.9h-0.9zM37.2 17.0h1.3v1.3h-1.3zM10.4 4.4h1v1h-1zM3.5 40.0h1v1h-1zM50.0 35.2h1v1h-1zM25.7 24.2h1.3v1.3h-1.3zM11.7 26.3h1.1v1.1h-1.1zM19.7 24.6h1.3v1.3h-1.3zM45.7 37.5h0.9v0.9h-0.9zM57.0 49.0h0.9v0.9h-0.9zM28.3 22.5h0.9v0.9h-0.9zM49.6 35.4h1v1h-1zM40.4 24.7h2.1v2.1h-2.1zM24.0 57.6h0.9v0.9h-0.9zM63.5 55.6h1.1v1.1h-1.1zM35.5 32.7h0.9v0.9h-0.9zM22.1 42.1h1.3v1.3h-1.3zM52.3 34.5h1.1v1.1h-1.1zM61.4 3.0h1.1v1.1h-1.1zM4.8 10.4h0.9v0.9h-0.9zM3.0 27.0h1.3v1.3h-1.3zM5.1 49.3h1.3v1.3h-1.3zM14.9 28.4h0.9v0.9h-0.9zM67.8 52.9h1v1h-1zM43.1 31.5h1.3v1.3h-1.3zM38.8 56.8h1.3v1.3h-1.3zM10.0 27.3h1.3v1.3h-1.3zM65.5 42.0h0.9v0.9h-0.9zM38.7 32.9h1.1v1.1h-1.1zM45.3 43.4h1.1v1.1h-1.1zM45.2 36.5h0.9v0.9h-0.9zM29.1 36.5h0.9v0.9h-0.9zM26.0 41.3h1.1v1.1h-1.1zM45.6 33.5h0.9v0.9h-0.9zM40.3 30.8h1.3v1.3h-1.3zM27.4 35.7h0.9v0.9h-0.9zM44.3 34.3h0.9v0.9h-0.9zM35.3 44.0h1.3v1.3h-1.3zM34.8 44.5h1.1v1.1h-1.1zM34.5 32.0h0.9v0.9h-0.9zM39.9 42.7h1.3v1.3h-1.3zM30.2 33.7h1.3v1.3h-1.3zM44.7 41.6h1.3v1.3h-1.3zM25.9 41.4h1.3v1.3h-1.3zM31.8 32.0h0.9v0.9h-0.9zM32.9 32.6h0.9v0.9h-0.9z"/></g>
<ellipse cx="37.1" cy="38.6" rx="7.20" ry="5.50" fill="url(#sph)" filter="url(#blur2)" opacity="0.88"/>
<rect x="30.2" y="33.4" width="13.8" height="10.4" filter="url(#tb6)" opacity="0.12" clip-path="url(#cp6)"/>
<rect x="0.4" y="0.4" width="68.80" height="60.50" fill="none" stroke="#6a6a6a" stroke-width="0.9"/>
</g>
<g transform="translate(42.6,391.4)">
<rect width="69.6" height="61.3" fill="url(#bg7)"/>
<rect width="69.6" height="61.3" filter="url(#tb7)" opacity="0.090"/>
<rect width="69.6" height="61.3" filter="url(#tb7)" opacity="0.150" mask="url(#mk7)"/>
<g filter="url(#soft)" fill="#505050"><path fill-opacity="0.22" d="M29.8 18.6h1v1h-1zM15.8 33.9h1v1h-1zM26.0 5.9h1.1v1.1h-1.1zM62.7 7.4h1.1v1.1h-1.1zM14.3 14.6h1v1h-1zM20.0 31.0h0.9v0.9h-0.9zM41.9 12.7h0.9v0.9h-0.9zM35.2 50.2h1.3v1.3h-1.3zM37.7 37.7h1.1v1.1h-1.1zM32.1 57.6h1v1h-1zM54.3 36.2h1v1h-1zM18.0 58.0h0.9v0.9h-0.9zM18.6 32.9h1.3v1.3h-1.3zM9.1 45.4h1.3v1.3h-1.3zM7.6 17.9h0.9v0.9h-0.9zM65.9 57.0h0.9v0.9h-0.9zM5.7 9.4h0.9v0.9h-0.9zM23.2 55.2h1.3v1.3h-1.3zM17.9 50.8h1.1v1.1h-1.1zM24.8 50.5h1.1v1.1h-1.1zM28.6 1.4h0.9v0.9h-0.9zM53.8 11.9h1v1h-1zM17.2 42.9h1.3v1.3h-1.3zM58.9 41.3h1v1h-1zM39.7 52.7h2.4v2.4h-2.4zM22.7 52.1h1.3v1.3h-1.3zM54.5 3.8h1.3v1.3h-1.3zM8.7 54.1h1v1h-1zM37.0 43.6h1.3v1.3h-1.3zM7.3 58.3h1.3v1.3h-1.3zM15.8 36.4h1.3v1.3h-1.3zM12.8 44.8h0.9v0.9h-0.9zM63.4 4.5h1.1v1.1h-1.1zM37.0 49.9h1.3v1.3h-1.3zM50.8 54.2h1.1v1.1h-1.1zM40.6 37.9h0.9v0.9h-0.9zM4.4 34.0h0.9v0.9h-0.9zM67.8 55.0h0.9v0.9h-0.9zM20.8 10.9h1.1v1.1h-1.1zM50.5 5.9h1.1v1.1h-1.1zM50.8 0.9h1v1h-1zM25.9 1.1h1.1v1.1h-1.1zM28.1 15.5h0.9v0.9h-0.9zM16.6 27.4h1v1h-1zM32.8 40.8h0.9v0.9h-0.9zM35.5 25.2h0.9v0.9h-0.9zM51.7 40.6h0.9v0.9h-0.9zM35.9 14.9h0.9v0.9h-0.9zM35.0 29.9h1.3v1.3h-1.3zM52.4 43.8h0.9v0.9h-0.9zM52.9 34.4h0.9v0.9h-0.9zM52.0 36.7h1.1v1.1h-1.1zM34.8 8.5h1.1v1.1h-1.1zM58.2 26.3h1.1v1.1h-1.1zM13.8 57.2h1v1h-1zM64.4 55.2h1.3v1.3h-1.3zM11.0 7.7h1.8v1.8h-1.8zM65.5 33.2h1.3v1.3h-1.3zM20.4 52.4h1.1v1.1h-1.1zM9.2 15.8h1v1h-1zM51.3 30.0h1.1v1.1h-1.1zM36.6 36.8h0.9v0.9h-0.9zM63.8 10.3h1v1h-1z"/><path fill-opacity="0.34" d="M39.5 6.8h1v1h-1zM3.0 30.2h1.1v1.1h-1.1zM54.6 43.5h1.3v1.3h-1.3zM7.1 21.4h1v1h-1zM42.4 13.1h1.1v1.1h-1.1zM53.3 27.0h1.1v1.1h-1.1zM61.2 47.5h1.1v1.1h-1.1zM27.4 29.6h1.3v1.3h-1.3zM19.3 32.3h2.1v2.1h-2.1zM4.7 47.3h0.9v0.9h-0.9zM7.0 24.4h1.1v1.1h-1.1zM46.4 6.9h1v1h-1zM22.0 26.4h0.9v0.9h-0.9zM18.1 36.4h1.3v1.3h-1.3zM25.0 3.7h1.1v1.1h-1.1zM46.1 36.0h1.3v1.3h-1.3zM35.8 6.1h2.1v2.1h-2.1zM44.6 25.4h1v1h-1zM51.4 34.9h1v1h-1zM47.2 46.2h1v1h-1zM1.4 13.5h2.4v2.4h-2.4zM26.0 17.6h0.9v0.9h-0.9zM21.7 35.0h1.3v1.3h-1.3zM5.0 53.1h1.3v1.3h-1.3zM52.2 11.6h1v1h-1zM19.1 52.7h0.9v0.9h-0.9zM62.3 36.2h1.3v1.3h-1.3zM34.4 8.6h1.1v1.1h-1.1zM26.8 12.2h1.1v1.1h-1.1zM16.1 7.0h0.9v0.9h-0.9zM17.1 19.2h1v1h-1zM39.6 16.9h0.9v0.9h-0.9zM17.5 40.8h1.3v1.3h-1.3zM60.6 16.7h1.1v1.1h-1.1zM48.2 16.4h1v1h-1zM49.3 22.6h0.9v0.9h-0.9zM44.2 23.4h1v1h-1zM46.4 20.7h1v1h-1zM66.4 57.2h1.3v1.3h-1.3zM56.2 43.2h1v1h-1zM62.8 28.4h0.9v0.9h-0.9zM62.1 24.2h0.9v0.9h-0.9zM21.4 7.5h1.3v1.3h-1.3zM58.1 25.6h1v1h-1zM20.8 15.7h0.9v0.9h-0.9zM59.5 34.4h0.9v0.9h-0.9zM7.6 24.7h1v1h-1zM15.1 8.3h1.8v1.8h-1.8zM28.0 14.0h1.3v1.3h-1.3zM51.0 53.2h1v1h-1zM66.9 9.2h1.3v1.3h-1.3zM57.9 29.8h1v1h-1zM32.1 54.6h1.3v1.3h-1.3zM6.5 23.8h1v1h-1zM6.7 4.4h1.3v1.3h-1.3zM30.0 15.7h1.1v1.1h-1.1zM19.5 11.8h1.3v1.3h-1.3zM23.0 50.4h2.4v2.4h-2.4zM26.6 19.0h1v1h-1zM48.8 23.8h1.3v1.3h-1.3zM26.6 39.1h1.1v1.1h-1.1zM33.7 13.9h1v1h-1zM63.1 30.1h1v1h-1zM47.8 26.4h1.1v1.1h-1.1zM24.0 15.3h0.9v0.9h-0.9zM31.0 33.9h1.3v1.3h-1.3zM1.1 4.2h2.1v2.1h-2.1zM60.1 35.2h1.1v1.1h-1.1zM57.2 27.3h1v1h-1zM25.1 17.9h1.1v1.1h-1.1zM45.9 18.6h0.9v0.9h-0.9zM46.5 16.2h1.1v1.1h-1.1zM46.5 21.5h1.1v1.1h-1.1zM33.1 33.7h0.9v0.9h-0.9zM40.6 15.2h1.3v1.3h-1.3zM48.8 20.8h1.1v1.1h-1.1zM45.5 19.4h1.3v1.3h-1.3zM34.5 33.6h1.3v1.3h-1.3zM29.6 16.7h1.1v1.1h-1.1zM36.9 33.9h1.3v1.3h-1.3zM29.2 13.0h1.1v1.1h-1.1zM38.3 33.2h0.9v0.9h-0.9zM46.0 27.1h0.9v0.9h-0.9z"/><path fill-opacity="0.46" d="M43.7 0.4h1.3v1.3h-1.3zM7.3 23.2h1v1h-1zM46.9 54.4h1v1h-1zM35.9 20.8h1v1h-1zM47.5 20.9h1.1v1.1h-1.1zM22.6 13.0h1.1v1.1h-1.1zM17.4 17.5h1.3v1.3h-1.3zM54.5 48.8h0.9v0.9h-0.9zM60.9 44.7h1v1h-1zM64.9 25.6h1.1v1.1h-1.1zM42.3 29.9h1.3v1.3h-1.3zM56.8 28.0h0.9v0.9h-0.9zM45.7 42.2h0.9v0.9h-0.9zM51.4 12.1h0.9v0.9h-0.9zM44.6 1.8h1.1v1.1h-1.1zM65.6 57.8h0.9v0.9h-0.9zM13.0 43.1h1.1v1.1h-1.1zM32.1 17.8h1.1v1.1h-1.1zM49.1 0.8h0.9v0.9h-0.9zM22.6 18.5h0.9v0.9h-0.9zM35.8 57.6h1.1v1.1h-1.1zM29.6 8.7h1.1v1.1h-1.1zM61.9 45.6h1v1h-1zM9.9 11.4h1.3v1.3h-1.3zM33.1 47.4h1.1v1.1h-1.1zM42.2 5.8h0.9v0.9h-0.9zM11.6 57.9h1.1v1.1h-1.1zM60.6 1.6h0.9v0.9h-0.9zM39.1 10.0h1.1v1.1h-1.1zM14.5 23.0h1.3v1.3h-1.3zM46.2 38.4h1.1v1.1h-1.1zM42.3 4.9h1v1h-1zM53.3 59.0h0.9v0.9h-0.9zM9.9 21.6h1v1h-1zM57.3 29.1h1.1v1.1h-1.1zM45.1 28.5h1.1v1.1h-1.1zM2.2 22.8h1.1v1.1h-1.1zM45.3 59.9h1v1h-1zM31.2 27.8h0.9v0.9h-0.9zM60.9 45.0h1v1h-1zM20.9 5.9h1.1v1.1h-1.1zM51.0 25.0h1.3v1.3h-1.3zM56.3 40.3h1.1v1.1h-1.1zM25.6 45.5h1v1h-1zM2.4 39.0h1.1v1.1h-1.1zM56.3 36.1h1.3v1.3h-1.3zM65.3 18.2h0.9v0.9h-0.9zM26.8 17.5h0.9v0.9h-0.9zM48.8 40.1h0.9v0.9h-0.9zM50.0 20.1h0.9v0.9h-0.9zM58.5 18.0h1.3v1.3h-1.3zM27.6 45.6h1.3v1.3h-1.3zM19.2 38.3h0.9v0.9h-0.9zM18.2 6.5h0.9v0.9h-0.9zM35.3 48.5h1.1v1.1h-1.1zM8.5 21.6h1.3v1.3h-1.3zM46.6 49.5h1v1h-1zM5.7 19.8h1.3v1.3h-1.3zM49.9 48.9h1.3v1.3h-1.3zM15.6 8.1h0.9v0.9h-0.9zM34.5 39.9h1.1v1.1h-1.1zM48.9 3.5h1v1h-1zM60.3 32.3h0.9v0.9h-0.9zM55.7 38.8h0.9v0.9h-0.9zM59.7 29.8h1.1v1.1h-1.1zM47.7 13.5h1.3v1.3h-1.3zM4.9 46.1h1.3v1.3h-1.3zM62.9 38.1h0.9v0.9h-0.9zM30.4 14.9h1.3v1.3h-1.3zM24.6 24.6h1.1v1.1h-1.1zM43.6 19.1h0.9v0.9h-0.9zM25.3 23.3h1.3v1.3h-1.3zM29.3 31.3h0.9v0.9h-0.9zM29.4 25.4h0.9v0.9h-0.9zM45.8 17.7h1.3v1.3h-1.3zM48.6 24.1h1.3v1.3h-1.3zM33.3 30.8h1.1v1.1h-1.1zM33.8 12.8h1.1v1.1h-1.1zM29.9 15.5h1.3v1.3h-1.3zM28.8 18.8h0.9v0.9h-0.9zM34.6 14.6h1.1v1.1h-1.1zM40.5 32.1h1.3v1.3h-1.3zM24.4 24.9h1.1v1.1h-1.1zM48.1 22.4h1.1v1.1h-1.1zM25.5 17.9h1.1v1.1h-1.1zM39.1 30.0h1.3v1.3h-1.3z"/></g>
<ellipse cx="37.1" cy="23.2" rx="7.80" ry="7.30" fill="url(#sph)" filter="url(#blur1)" opacity="1"/>
<rect x="29.6" y="16.2" width="15.0" height="14.0" filter="url(#tb7)" opacity="0.12" clip-path="url(#cp7)"/>
<rect x="0.4" y="0.4" width="68.80" height="60.50" fill="none" stroke="#6a6a6a" stroke-width="0.9"/>
</g>
<g transform="translate(114.9,391.4)">
<rect width="69.6" height="61.3" fill="url(#bg8)"/>
<rect width="69.6" height="61.3" filter="url(#tb8)" opacity="0.090"/>
<rect width="69.6" height="61.3" filter="url(#tb8)" opacity="0.225" mask="url(#mk8)"/>
<g filter="url(#soft)" fill="#505050"><path fill-opacity="0.22" d="M8.2 25.2h1.1v1.1h-1.1zM31.0 18.9h1.3v1.3h-1.3zM42.3 1.1h1v1h-1zM54.8 25.9h0.9v0.9h-0.9zM68.2 37.6h1v1h-1zM24.4 17.0h1v1h-1zM3.3 30.6h1.1v1.1h-1.1zM47.4 17.3h1v1h-1zM15.8 30.5h1.1v1.1h-1.1zM12.5 39.4h1.3v1.3h-1.3zM63.3 16.4h1.1v1.1h-1.1zM17.7 20.9h0.9v0.9h-0.9zM30.7 23.2h1.1v1.1h-1.1zM44.3 28.7h1.1v1.1h-1.1zM34.3 6.5h1.3v1.3h-1.3zM60.3 20.1h1.3v1.3h-1.3zM8.5 25.5h0.9v0.9h-0.9zM6.4 28.7h1.1v1.1h-1.1zM39.0 19.4h1.1v1.1h-1.1zM46.1 35.8h1.3v1.3h-1.3zM57.5 20.7h1v1h-1zM49.3 29.1h0.9v0.9h-0.9zM46.7 3.4h1.3v1.3h-1.3zM58.0 23.5h1.1v1.1h-1.1zM3.5 20.2h1v1h-1zM33.7 19.5h1.3v1.3h-1.3zM21.3 4.9h1.1v1.1h-1.1zM8.4 11.2h1.1v1.1h-1.1zM27.1 19.4h1.1v1.1h-1.1zM45.3 17.1h1.8v1.8h-1.8zM24.5 14.1h1v1h-1zM24.6 39.5h1.1v1.1h-1.1zM63.2 29.2h0.9v0.9h-0.9zM45.0 29.8h1.1v1.1h-1.1zM41.2 10.9h1v1h-1zM24.1 40.4h1.3v1.3h-1.3zM55.8 32.5h1v1h-1zM28.4 11.1h1.3v1.3h-1.3zM52.5 40.4h1v1h-1zM61.7 32.0h1.3v1.3h-1.3zM20.0 4.7h1.3v1.3h-1.3zM29.0 36.1h1.1v1.1h-1.1zM14.9 21.7h1.3v1.3h-1.3zM7.0 11.3h0.9v0.9h-0.9zM9.8 30.5h1v1h-1zM15.6 20.2h1v1h-1zM5.8 2.5h1.1v1.1h-1.1zM53.4 29.4h1.1v1.1h-1.1zM36.3 38.2h1.1v1.1h-1.1zM37.3 40.2h1.1v1.1h-1.1zM59.1 5.2h1v1h-1zM44.7 2.3h0.9v0.9h-0.9zM60.3 35.6h1v1h-1zM3.4 16.1h1.3v1.3h-1.3zM63.6 38.2h1.3v1.3h-1.3zM23.5 33.7h1.1v1.1h-1.1zM60.1 34.6h1.1v1.1h-1.1zM17.6 24.1h0.9v0.9h-0.9zM52.1 29.1h1v1h-1zM19.1 40.3h1v1h-1zM63.0 27.0h1v1h-1zM23.4 35.2h0.9v0.9h-0.9z"/><path fill-opacity="0.34" d="M29.8 19.1h2.1v2.1h-2.1zM24.2 9.9h1v1h-1zM28.5 4.6h1v1h-1zM37.0 22.6h1.3v1.3h-1.3zM57.8 31.8h1.1v1.1h-1.1zM63.9 30.9h1.3v1.3h-1.3zM57.9 27.6h1v1h-1zM24.8 19.3h1.3v1.3h-1.3zM36.9 33.1h1v1h-1zM8.9 38.7h1.1v1.1h-1.1zM57.5 26.2h1v1h-1zM62.5 40.2h1.1v1.1h-1.1zM18.9 33.2h1.3v1.3h-1.3zM32.6 26.6h1.3v1.3h-1.3zM44.9 29.1h1.3v1.3h-1.3zM59.2 28.9h1v1h-1zM10.7 19.6h0.9v0.9h-0.9zM22.5 14.7h1.3v1.3h-1.3zM29.2 27.5h1v1h-1zM41.7 37.1h0.9v0.9h-0.9zM45.9 29.2h1v1h-1zM24.2 38.7h1.3v1.3h-1.3zM4.6 40.0h1.1v1.1h-1.1zM21.4 8.7h1.3v1.3h-1.3zM49.7 40.5h1v1h-1zM0.3 15.6h1.8v1.8h-1.8zM66.0 33.9h1.3v1.3h-1.3zM44.5 23.8h1.3v1.3h-1.3zM32.9 17.1h1v1h-1zM37.4 31.4h1.1v1.1h-1.1zM44.7 27.9h0.9v0.9h-0.9zM55.3 36.7h2.1v2.1h-2.1zM22.5 37.5h1v1h-1zM10.8 30.6h1.1v1.1h-1.1zM41.1 9.8h1v1h-1zM12.2 15.0h0.9v0.9h-0.9zM64.8 28.3h0.9v0.9h-0.9zM63.0 14.0h1.1v1.1h-1.1zM16.4 33.2h1.3v1.3h-1.3zM0.7 33.0h1v1h-1zM57.0 13.7h1v1h-1zM48.4 24.0h1.1v1.1h-1.1zM24.6 28.1h0.9v0.9h-0.9zM4.1 23.3h1.1v1.1h-1.1zM7.8 21.1h1.3v1.3h-1.3zM19.0 18.1h1.1v1.1h-1.1zM29.7 36.8h1.3v1.3h-1.3zM62.3 18.9h0.9v0.9h-0.9zM33.9 36.9h0.9v0.9h-0.9zM7.6 22.8h1.3v1.3h-1.3zM46.1 4.3h1v1h-1zM42.9 26.4h1v1h-1zM45.2 1.6h1v1h-1zM65.6 17.6h1.1v1.1h-1.1zM65.4 3.5h1.1v1.1h-1.1zM57.8 29.4h0.9v0.9h-0.9zM24.3 40.1h1.1v1.1h-1.1zM48.4 6.3h1.3v1.3h-1.3zM49.4 13.6h0.9v0.9h-0.9zM25.4 4.8h1.3v1.3h-1.3zM50.9 22.0h1.1v1.1h-1.1zM38.5 27.1h1v1h-1zM51.8 16.9h1v1h-1zM34.2 12.3h1.1v1.1h-1.1zM11.9 35.4h1.3v1.3h-1.3zM66.7 38.4h1.3v1.3h-1.3zM19.7 37.2h1.3v1.3h-1.3zM32.7 29.4h1v1h-1zM7.9 18.9h1.3v1.3h-1.3zM48.9 9.5h0.9v0.9h-0.9zM25.3 33.8h1v1h-1zM2.0 9.6h1.1v1.1h-1.1zM32.1 29.2h1.3v1.3h-1.3zM19.5 15.8h0.9v0.9h-0.9zM63.3 3.5h1.3v1.3h-1.3zM7.7 40.0h1.3v1.3h-1.3zM22.5 6.6h1.8v1.8h-1.8zM50.4 11.8h1.3v1.3h-1.3zM60.4 31.9h0.9v0.9h-0.9zM48.8 11.3h1.1v1.1h-1.1zM60.1 36.2h0.9v0.9h-0.9zM5.5 39.2h0.9v0.9h-0.9zM35.2 14.7h0.9v0.9h-0.9zM35.5 26.1h1.1v1.1h-1.1zM32.3 30.3h0.9v0.9h-0.9zM26.2 29.9h1.3v1.3h-1.3zM35.1 29.8h1.1v1.1h-1.1zM40.1 19.6h0.9v0.9h-0.9zM37.5 21.4h0.9v0.9h-0.9zM38.7 20.5h1.3v1.3h-1.3zM26.4 17.0h1.1v1.1h-1.1zM28.8 13.0h1.3v1.3h-1.3zM26.8 17.5h0.9v0.9h-0.9zM23.3 17.3h1.1v1.1h-1.1zM26.5 26.2h0.9v0.9h-0.9zM26.6 28.0h0.9v0.9h-0.9zM25.9 29.1h0.9v0.9h-0.9zM24.6 24.1h0.9v0.9h-0.9z"/><path fill-opacity="0.46" d="M14.9 6.1h0.9v0.9h-0.9zM67.8 23.4h1.1v1.1h-1.1zM51.8 30.8h0.9v0.9h-0.9zM47.1 39.0h1.1v1.1h-1.1zM49.3 29.4h1v1h-1zM28.9 19.0h1.1v1.1h-1.1zM38.3 24.1h0.9v0.9h-0.9zM31.7 22.6h1v1h-1zM40.4 21.8h0.9v0.9h-0.9zM62.4 6.4h0.9v0.9h-0.9zM24.7 11.0h0.9v0.9h-0.9zM21.4 31.3h1.3v1.3h-1.3zM34.1 21.9h0.9v0.9h-0.9zM17.3 10.1h0.9v0.9h-0.9zM33.3 33.8h1v1h-1zM12.8 1.3h1.3v1.3h-1.3zM26.4 35.8h1.1v1.1h-1.1zM29.6 31.1h1.1v1.1h-1.1zM39.7 4.2h1.3v1.3h-1.3zM9.4 17.3h1.3v1.3h-1.3zM33.8 26.8h0.9v0.9h-0.9zM28.9 30.4h1v1h-1zM17.6 7.4h1.3v1.3h-1.3zM21.7 18.9h1v1h-1zM28.4 39.6h0.9v0.9h-0.9zM59.2 27.5h1.1v1.1h-1.1zM54.5 33.8h1.3v1.3h-1.3zM21.5 38.4h0.9v0.9h-0.9zM59.6 18.7h0.9v0.9h-0.9zM17.6 23.9h1.1v1.1h-1.1zM32.8 18.9h1.1v1.1h-1.1zM5.9 31.8h1.3v1.3h-1.3zM57.4 39.5h1v1h-1zM49.6 34.6h1.1v1.1h-1.1zM56.8 34.8h1.3v1.3h-1.3zM61.5 48.0h1.1v1.1h-1.1zM47.8 5.8h1.3v1.3h-1.3zM16.9 38.8h1v1h-1zM7.1 22.0h1.3v1.3h-1.3zM54.9 8.9h1.3v1.3h-1.3zM31.1 38.8h1.3v1.3h-1.3zM57.9 3.5h0.9v0.9h-0.9zM51.8 24.6h1.3v1.3h-1.3zM49.7 24.3h1v1h-1zM8.3 14.8h0.9v0.9h-0.9zM44.9 30.5h1.3v1.3h-1.3zM63.7 40.9h0.9v0.9h-0.9zM39.4 38.0h0.9v0.9h-0.9zM62.0 17.3h0.9v0.9h-0.9zM3.4 1.9h1.1v1.1h-1.1zM54.0 21.3h1.1v1.1h-1.1zM10.3 39.8h1.3v1.3h-1.3zM48.1 35.4h1.3v1.3h-1.3zM2.2 32.8h1v1h-1zM36.9 34.3h0.9v0.9h-0.9zM21.2 28.4h1v1h-1zM21.4 33.4h0.9v0.9h-0.9zM16.3 23.3h1v1h-1zM12.6 20.7h1.1v1.1h-1.1zM28.7 6.3h1.3v1.3h-1.3zM9.6 34.9h0.9v0.9h-0.9zM9.2 12.0h1.3v1.3h-1.3zM43.6 12.1h1.3v1.3h-1.3zM63.2 18.1h1.1v1.1h-1.1zM13.5 7.2h1.3v1.3h-1.3zM67.3 25.6h1.1v1.1h-1.1zM26.4 22.8h1.1v1.1h-1.1zM18.9 29.7h1v1h-1zM17.6 59.7h1.3v1.3h-1.3zM42.9 32.1h0.9v0.9h-0.9zM43.4 8.1h1.1v1.1h-1.1zM5.5 27.8h1v1h-1zM11.6 25.2h1v1h-1zM14.1 29.6h0.9v0.9h-0.9zM36.1 37.2h1v1h-1zM15.7 12.8h1.3v1.3h-1.3zM39.6 18.6h0.9v0.9h-0.9zM27.5 28.8h1.3v1.3h-1.3zM23.5 21.5h1.3v1.3h-1.3zM37.9 17.6h1.1v1.1h-1.1zM38.9 24.0h0.9v0.9h-0.9zM37.5 18.0h1.1v1.1h-1.1zM37.0 25.8h1.1v1.1h-1.1zM31.4 31.2h0.9v0.9h-0.9zM37.2 18.0h1.1v1.1h-1.1zM39.4 19.5h1.1v1.1h-1.1zM31.7 27.7h1.3v1.3h-1.3zM24.9 25.2h1.3v1.3h-1.3zM37.5 23.7h0.9v0.9h-0.9z"/></g>
<ellipse cx="31.3" cy="22.5" rx="6.55" ry="5.80" fill="url(#sph)" filter="url(#blur1)" opacity="1"/>
<rect x="25.0" y="17.0" width="12.5" height="11.0" filter="url(#tb8)" opacity="0.12" clip-path="url(#cp8)"/>
<rect x="0.4" y="0.4" width="68.80" height="60.50" fill="none" stroke="#6a6a6a" stroke-width="0.9"/>
</g>
<g transform="translate(187.1,391.4)">
<rect width="69.6" height="61.3" fill="url(#bg9)"/>
<rect width="69.6" height="61.3" filter="url(#tb9)" opacity="0.090"/>
<rect width="69.6" height="61.3" filter="url(#tb9)" opacity="0.175" mask="url(#mk9)"/>
<g filter="url(#soft)" fill="#505050"><path fill-opacity="0.22" d="M17.9 20.6h1v1h-1zM15.7 14.4h1.3v1.3h-1.3zM12.5 6.1h1v1h-1zM6.2 18.2h1.1v1.1h-1.1zM59.8 21.2h0.9v0.9h-0.9zM44.4 49.6h0.9v0.9h-0.9zM16.6 9.7h1.3v1.3h-1.3zM3.0 20.2h0.9v0.9h-0.9zM55.2 19.7h0.9v0.9h-0.9zM25.8 7.5h1v1h-1zM49.5 44.8h1.1v1.1h-1.1zM25.1 15.9h1.1v1.1h-1.1zM38.6 25.1h0.9v0.9h-0.9zM67.5 17.0h1.3v1.3h-1.3zM60.5 56.5h1.3v1.3h-1.3zM32.8 6.3h1v1h-1zM26.7 40.1h2.4v2.4h-2.4zM53.4 55.9h1v1h-1zM54.7 51.5h0.9v0.9h-0.9zM43.7 17.3h1v1h-1zM42.4 53.9h1v1h-1zM10.2 59.4h0.9v0.9h-0.9zM3.9 43.2h1v1h-1zM23.7 34.4h1.1v1.1h-1.1zM52.9 58.8h1v1h-1zM54.1 48.9h1.3v1.3h-1.3zM50.8 13.2h1.1v1.1h-1.1zM20.6 33.4h0.9v0.9h-0.9zM58.3 34.6h1v1h-1zM42.9 47.4h1.3v1.3h-1.3zM35.5 17.2h0.9v0.9h-0.9zM41.0 16.4h0.9v0.9h-0.9zM23.5 5.1h1.3v1.3h-1.3zM4.2 43.0h1v1h-1zM24.1 12.5h1v1h-1zM26.1 56.9h1.3v1.3h-1.3zM16.7 7.7h0.9v0.9h-0.9zM40.9 12.2h1.3v1.3h-1.3zM21.0 17.1h1.3v1.3h-1.3zM10.6 6.2h0.9v0.9h-0.9zM15.9 11.9h0.9v0.9h-0.9zM18.2 0.7h1v1h-1zM19.7 58.8h0.9v0.9h-0.9zM29.6 17.1h1v1h-1zM37.1 1.0h1.3v1.3h-1.3zM4.9 40.3h0.9v0.9h-0.9zM47.2 17.2h1.3v1.3h-1.3zM17.1 57.3h1v1h-1zM10.9 33.7h1.1v1.1h-1.1zM7.8 43.4h1.1v1.1h-1.1zM54.8 1.9h1.1v1.1h-1.1zM7.7 0.8h1v1h-1zM21.0 12.1h2.1v2.1h-2.1zM47.2 19.1h0.9v0.9h-0.9zM11.0 3.5h0.9v0.9h-0.9zM4.6 38.3h1.1v1.1h-1.1zM1.5 43.6h1.3v1.3h-1.3zM12.9 24.4h1.3v1.3h-1.3zM64.9 35.6h1.3v1.3h-1.3zM2.5 2.2h1.1v1.1h-1.1zM40.6 44.2h1.3v1.3h-1.3zM27.2 44.2h0.9v0.9h-0.9zM58.5 14.2h0.9v0.9h-0.9zM9.9 34.9h0.9v0.9h-0.9zM45.8 41.5h1.3v1.3h-1.3zM68.0 38.9h1.1v1.1h-1.1zM22.2 11.3h1.3v1.3h-1.3zM17.1 48.5h1v1h-1zM7.6 47.1h1.1v1.1h-1.1zM48.2 35.9h1.1v1.1h-1.1zM24.8 30.4h1v1h-1zM29.0 5.5h1.3v1.3h-1.3zM22.4 17.8h1.1v1.1h-1.1z"/><path fill-opacity="0.34" d="M54.6 2.5h0.9v0.9h-0.9zM21.3 6.5h1.1v1.1h-1.1zM62.7 21.8h1.1v1.1h-1.1zM45.7 23.7h1v1h-1zM5.3 34.2h1v1h-1zM43.1 20.1h1.3v1.3h-1.3zM12.2 45.5h0.9v0.9h-0.9zM3.8 36.0h1.1v1.1h-1.1zM67.6 6.8h1.3v1.3h-1.3zM43.6 5.2h1v1h-1zM10.8 30.3h1v1h-1zM8.1 28.3h1.3v1.3h-1.3zM36.6 8.9h1.1v1.1h-1.1zM22.5 57.1h0.9v0.9h-0.9zM8.2 25.8h0.9v0.9h-0.9zM19.9 1.9h1v1h-1zM31.7 0.5h1.1v1.1h-1.1zM52.0 48.8h1.1v1.1h-1.1zM16.8 10.3h0.9v0.9h-0.9zM6.8 10.7h1.1v1.1h-1.1zM6.4 42.3h1.1v1.1h-1.1zM3.5 48.4h1.1v1.1h-1.1zM11.1 37.9h1.1v1.1h-1.1zM24.9 4.5h0.9v0.9h-0.9zM48.2 42.0h1.1v1.1h-1.1zM11.0 8.7h1.1v1.1h-1.1zM10.4 19.5h1.3v1.3h-1.3zM20.9 3.5h1.1v1.1h-1.1zM6.6 31.6h1.1v1.1h-1.1zM50.2 51.3h1.1v1.1h-1.1zM55.3 20.7h1v1h-1zM54.0 48.1h1v1h-1zM23.6 9.1h1.1v1.1h-1.1zM51.9 19.8h1v1h-1zM51.1 7.5h1v1h-1zM9.7 44.8h1.1v1.1h-1.1zM28.5 12.5h1v1h-1zM50.1 40.8h1v1h-1zM32.2 22.0h1.3v1.3h-1.3zM46.7 58.1h1v1h-1zM42.1 15.9h1.1v1.1h-1.1zM17.0 45.8h1.8v1.8h-1.8zM49.0 32.6h1.3v1.3h-1.3zM32.8 47.7h1.1v1.1h-1.1zM34.3 42.1h1.1v1.1h-1.1zM48.6 59.4h1.3v1.3h-1.3zM42.7 29.5h0.9v0.9h-0.9zM4.4 11.5h0.9v0.9h-0.9zM35.2 52.2h1.1v1.1h-1.1zM22.5 48.8h1.1v1.1h-1.1zM39.0 28.6h1.3v1.3h-1.3zM35.4 44.7h1v1h-1zM39.7 23.3h1.1v1.1h-1.1zM50.4 23.3h0.9v0.9h-0.9zM26.5 40.8h1v1h-1zM24.6 4.9h1.1v1.1h-1.1zM28.1 23.6h1.1v1.1h-1.1zM66.5 45.2h0.9v0.9h-0.9zM7.9 28.6h1v1h-1zM35.8 31.5h1.1v1.1h-1.1zM4.6 23.4h1v1h-1zM17.9 57.0h0.9v0.9h-0.9zM40.9 24.8h1.3v1.3h-1.3zM8.8 31.3h1.3v1.3h-1.3zM67.3 53.1h1v1h-1zM26.3 13.6h1v1h-1zM45.2 23.9h0.9v0.9h-0.9zM17.9 40.6h1.1v1.1h-1.1zM61.7 2.7h0.9v0.9h-0.9zM16.5 22.8h1.1v1.1h-1.1zM26.6 31.7h1.3v1.3h-1.3zM49.9 36.3h1.3v1.3h-1.3zM33.9 24.2h1.1v1.1h-1.1zM36.3 24.5h1.1v1.1h-1.1zM26.1 24.6h0.9v0.9h-0.9zM40.8 26.4h1.3v1.3h-1.3zM34.0 39.8h1.1v1.1h-1.1zM39.4 32.6h1.1v1.1h-1.1zM40.5 31.1h1.3v1.3h-1.3zM26.1 38.1h0.9v0.9h-0.9zM33.9 22.6h0.9v0.9h-0.9zM39.2 38.6h0.9v0.9h-0.9zM26.8 23.9h1.3v1.3h-1.3zM35.2 41.1h0.9v0.9h-0.9zM26.1 25.0h0.9v0.9h-0.9z"/><path fill-opacity="0.46" d="M42.7 47.3h1.3v1.3h-1.3zM16.4 27.5h0.9v0.9h-0.9zM17.6 1.8h1v1h-1zM24.6 52.3h1.1v1.1h-1.1zM14.1 33.3h2.1v2.1h-2.1zM53.9 59.1h1v1h-1zM63.0 38.8h1v1h-1zM33.2 25.3h0.9v0.9h-0.9zM20.0 18.5h1.3v1.3h-1.3zM49.2 23.3h1.1v1.1h-1.1zM39.9 17.0h1.1v1.1h-1.1zM59.8 18.2h0.9v0.9h-0.9zM67.6 13.2h0.9v0.9h-0.9zM28.9 5.2h0.9v0.9h-0.9zM8.9 31.8h1.1v1.1h-1.1zM67.2 32.9h1v1h-1zM15.4 20.2h1.3v1.3h-1.3zM53.1 3.3h1.3v1.3h-1.3zM46.0 3.2h1.1v1.1h-1.1zM1.6 12.4h1.1v1.1h-1.1zM60.2 27.8h0.9v0.9h-0.9zM11.5 13.2h0.9v0.9h-0.9zM48.1 46.6h1.1v1.1h-1.1zM11.9 34.1h1.1v1.1h-1.1zM58.1 49.3h0.9v0.9h-0.9zM45.7 30.4h0.9v0.9h-0.9zM28.2 22.6h1v1h-1zM62.5 14.2h0.9v0.9h-0.9zM5.1 50.0h0.9v0.9h-0.9zM35.4 10.4h1.1v1.1h-1.1zM21.9 28.0h0.9v0.9h-0.9zM53.2 40.3h1.1v1.1h-1.1zM48.9 2.7h1.1v1.1h-1.1zM47.9 32.6h1.1v1.1h-1.1zM54.0 37.9h0.9v0.9h-0.9zM42.1 43.5h1.3v1.3h-1.3zM4.3 42.8h1v1h-1zM14.4 59.8h1.3v1.3h-1.3zM50.1 23.9h1.3v1.3h-1.3zM44.6 43.4h1v1h-1zM45.5 52.7h2.4v2.4h-2.4zM53.1 15.3h0.9v0.9h-0.9zM28.8 52.0h1.3v1.3h-1.3zM36.8 57.4h0.9v0.9h-0.9zM19.9 5.8h1.1v1.1h-1.1zM37.7 33.6h0.9v0.9h-0.9zM58.3 32.6h1.1v1.1h-1.1zM66.8 34.8h1.3v1.3h-1.3zM45.1 8.0h1.3v1.3h-1.3zM8.7 47.4h1.1v1.1h-1.1zM61.3 26.4h1.3v1.3h-1.3zM50.0 39.6h0.9v0.9h-0.9zM18.0 22.6h1.1v1.1h-1.1zM49.3 15.5h0.9v0.9h-0.9zM46.2 37.9h1.1v1.1h-1.1zM25.3 29.2h1.3v1.3h-1.3zM26.6 24.4h0.9v0.9h-0.9zM31.0 21.6h1.3v1.3h-1.3zM42.3 35.4h1.3v1.3h-1.3zM41.2 36.5h0.9v0.9h-0.9zM41.2 35.1h0.9v0.9h-0.9zM28.1 25.9h0.9v0.9h-0.9zM40.5 34.8h1.1v1.1h-1.1zM29.2 36.7h0.9v0.9h-0.9zM34.2 24.3h0.9v0.9h-0.9zM34.8 40.5h0.9v0.9h-0.9zM24.9 35.8h0.9v0.9h-0.9zM29.9 37.5h0.9v0.9h-0.9zM36.4 24.3h1.1v1.1h-1.1zM25.9 34.4h1.1v1.1h-1.1zM31.0 38.2h0.9v0.9h-0.9z"/></g>
<ellipse cx="33.7" cy="32.4" rx="6.55" ry="6.40" fill="url(#sph)" filter="url(#blur1)" opacity="1"/>
<rect x="27.5" y="26.3" width="12.5" height="12.2" filter="url(#tb9)" opacity="0.12" clip-path="url(#cp9)"/>
<rect x="0.4" y="0.4" width="68.80" height="60.50" fill="none" stroke="#6a6a6a" stroke-width="0.9"/>
</g>
<g transform="translate(259.3,391.4)">
<rect width="69.6" height="61.3" fill="url(#bg10)"/>
<rect width="69.6" height="61.3" filter="url(#tb10)" opacity="0.099"/>
<g filter="url(#soft)" fill="#505050"><path fill-opacity="0.22" d="M37.5 16.6h1v1h-1zM11.9 33.2h1.1v1.1h-1.1zM23.7 14.8h1v1h-1zM11.8 3.9h1.3v1.3h-1.3zM58.7 34.7h1.3v1.3h-1.3zM34.6 14.6h0.9v0.9h-0.9zM11.7 29.4h1v1h-1zM31.0 19.4h1.3v1.3h-1.3zM9.1 23.3h1v1h-1zM21.0 58.5h1v1h-1zM43.3 48.9h0.9v0.9h-0.9zM1.6 41.9h1v1h-1zM35.6 2.5h1.1v1.1h-1.1zM21.3 53.9h1v1h-1zM66.8 34.0h1.1v1.1h-1.1zM30.6 15.3h1.1v1.1h-1.1zM19.5 51.7h1.3v1.3h-1.3zM36.2 56.5h1.1v1.1h-1.1zM52.8 20.5h1.1v1.1h-1.1zM24.4 26.6h1.3v1.3h-1.3zM51.3 45.8h1.3v1.3h-1.3zM16.0 50.3h1.1v1.1h-1.1zM16.7 42.4h1.1v1.1h-1.1zM36.3 22.1h1v1h-1zM67.8 32.1h1v1h-1zM2.6 3.1h2.4v2.4h-2.4zM9.2 13.7h1v1h-1zM56.4 44.9h0.9v0.9h-0.9zM64.8 27.8h1v1h-1zM20.8 53.4h0.9v0.9h-0.9zM63.7 28.0h0.9v0.9h-0.9zM61.9 27.8h1.1v1.1h-1.1zM46.7 3.6h1v1h-1zM16.6 2.9h0.9v0.9h-0.9zM1.2 10.2h1v1h-1zM58.8 42.5h1v1h-1zM8.2 31.8h1.8v1.8h-1.8zM3.5 27.8h1.1v1.1h-1.1zM57.7 59.0h1v1h-1zM57.1 40.4h1.1v1.1h-1.1zM61.7 59.7h1.3v1.3h-1.3zM64.9 33.9h1.3v1.3h-1.3zM32.0 58.3h0.9v0.9h-0.9zM20.4 51.5h1.1v1.1h-1.1zM43.9 53.3h0.9v0.9h-0.9zM56.2 34.9h1.3v1.3h-1.3zM41.9 1.7h1v1h-1z"/><path fill-opacity="0.34" d="M20.2 4.0h1.3v1.3h-1.3zM21.3 16.3h1.1v1.1h-1.1zM19.5 39.0h1.1v1.1h-1.1zM35.5 37.0h1.3v1.3h-1.3zM33.5 24.0h1.3v1.3h-1.3zM41.3 9.0h0.9v0.9h-0.9zM15.4 40.9h1v1h-1zM31.7 50.6h1.3v1.3h-1.3zM24.2 44.6h1.1v1.1h-1.1zM49.1 14.5h1.3v1.3h-1.3zM22.6 10.9h1.3v1.3h-1.3zM5.4 41.1h1.3v1.3h-1.3zM27.1 43.6h1v1h-1zM19.0 59.9h1.1v1.1h-1.1zM8.6 23.3h1.3v1.3h-1.3zM51.6 22.5h1.1v1.1h-1.1zM8.8 42.2h1.1v1.1h-1.1zM58.7 4.9h1.1v1.1h-1.1zM41.6 51.8h1v1h-1zM37.9 22.8h1.1v1.1h-1.1zM43.9 31.7h1.1v1.1h-1.1zM59.1 32.8h1.3v1.3h-1.3zM44.9 52.3h1.1v1.1h-1.1zM42.1 25.2h0.9v0.9h-0.9zM8.0 11.5h0.9v0.9h-0.9zM22.6 39.8h1v1h-1zM6.0 8.2h0.9v0.9h-0.9zM41.3 23.6h1.1v1.1h-1.1zM53.5 8.2h2.4v2.4h-2.4zM39.4 50.9h1v1h-1zM14.0 35.9h1v1h-1zM61.6 18.9h1.1v1.1h-1.1zM66.4 49.9h1v1h-1zM32.7 45.2h1.3v1.3h-1.3zM17.8 4.3h1.3v1.3h-1.3zM44.6 25.6h1v1h-1zM50.9 12.9h1.3v1.3h-1.3zM6.6 49.6h1.1v1.1h-1.1zM3.5 26.6h0.9v0.9h-0.9zM27.1 33.2h1.1v1.1h-1.1zM49.5 4.1h1.1v1.1h-1.1zM50.3 13.9h1.3v1.3h-1.3zM43.7 11.2h1.1v1.1h-1.1zM32.2 35.2h1v1h-1zM58.6 36.5h1.3v1.3h-1.3zM14.8 51.2h0.9v0.9h-0.9zM8.6 42.8h1.3v1.3h-1.3zM3.7 37.7h0.9v0.9h-0.9zM58.2 26.2h1.3v1.3h-1.3zM5.0 19.0h1v1h-1zM37.4 43.4h0.9v0.9h-0.9zM27.3 8.5h2.4v2.4h-2.4zM44.5 40.6h1.1v1.1h-1.1zM32.1 18.2h1v1h-1zM43.6 54.2h1v1h-1zM59.7 7.0h1.3v1.3h-1.3zM55.2 18.9h1v1h-1zM12.4 45.8h1v1h-1zM49.2 26.1h1.1v1.1h-1.1zM5.8 39.7h1.3v1.3h-1.3zM44.0 57.1h1v1h-1zM39.7 52.5h1.3v1.3h-1.3zM19.2 26.6h0.9v0.9h-0.9zM48.8 52.0h1.3v1.3h-1.3zM65.9 25.5h1.3v1.3h-1.3zM24.0 44.5h0.9v0.9h-0.9zM29.3 28.0h1.3v1.3h-1.3zM32.8 27.4h1.1v1.1h-1.1zM47.3 23.8h1.3v1.3h-1.3zM43.1 34.4h1.3v1.3h-1.3zM47.2 33.1h1.1v1.1h-1.1zM37.9 37.7h1.1v1.1h-1.1zM42.1 34.9h0.9v0.9h-0.9zM42.5 34.7h1.3v1.3h-1.3zM51.2 26.4h1.1v1.1h-1.1zM51.0 24.2h0.9v0.9h-0.9zM41.4 19.4h0.9v0.9h-0.9zM41.1 34.4h1.1v1.1h-1.1zM48.0 23.4h1.1v1.1h-1.1z"/><path fill-opacity="0.46" d="M22.0 56.1h1v1h-1zM38.7 10.7h1.3v1.3h-1.3zM65.6 8.9h0.9v0.9h-0.9zM33.2 46.3h1.1v1.1h-1.1zM63.3 52.6h1.1v1.1h-1.1zM20.4 25.4h1v1h-1zM47.8 24.3h1.3v1.3h-1.3zM23.7 47.3h1v1h-1zM41.3 45.3h0.9v0.9h-0.9zM34.2 16.8h1.1v1.1h-1.1zM17.0 47.9h0.9v0.9h-0.9zM12.9 6.7h1.3v1.3h-1.3zM1.2 11.1h0.9v0.9h-0.9zM50.5 5.1h0.9v0.9h-0.9zM61.2 11.4h1.1v1.1h-1.1zM61.2 53.7h2.1v2.1h-2.1zM6.1 45.1h0.9v0.9h-0.9zM16.1 0.9h1v1h-1zM7.9 13.0h1.3v1.3h-1.3zM52.8 56.7h1.3v1.3h-1.3zM19.1 26.1h0.9v0.9h-0.9zM41.6 4.5h1.1v1.1h-1.1zM45.9 47.5h0.9v0.9h-0.9zM42.6 12.5h0.9v0.9h-0.9zM52.0 51.7h1.3v1.3h-1.3zM24.7 1.5h1.3v1.3h-1.3zM66.6 8.1h1.1v1.1h-1.1zM27.9 41.2h0.9v0.9h-0.9zM61.1 31.7h0.9v0.9h-0.9zM29.2 10.0h1v1h-1zM19.2 55.6h1v1h-1zM28.7 47.3h0.9v0.9h-0.9zM14.1 14.6h2.1v2.1h-2.1zM22.6 30.8h1.1v1.1h-1.1zM9.6 49.9h1v1h-1zM32.1 58.4h1.3v1.3h-1.3zM43.7 36.0h1.1v1.1h-1.1zM46.4 7.4h1v1h-1zM58.4 52.1h1.3v1.3h-1.3zM51.5 56.0h0.9v0.9h-0.9zM46.9 0.9h1v1h-1zM58.6 40.8h1.3v1.3h-1.3zM59.4 47.1h1v1h-1zM0.6 16.9h0.9v0.9h-0.9zM42.9 28.1h1.1v1.1h-1.1zM36.6 28.7h1v1h-1zM18.9 51.1h1.3v1.3h-1.3zM50.6 34.5h1v1h-1zM19.5 23.2h1.1v1.1h-1.1zM42.1 50.6h1.3v1.3h-1.3zM56.6 0.2h2.1v2.1h-2.1zM37.2 44.2h1v1h-1zM13.4 14.7h1.1v1.1h-1.1zM57.8 8.7h1.3v1.3h-1.3zM49.9 59.1h1.3v1.3h-1.3zM50.2 32.0h1.1v1.1h-1.1zM46.1 19.0h0.9v0.9h-0.9zM36.2 20.5h0.9v0.9h-0.9zM47.5 31.6h1.1v1.1h-1.1zM31.3 26.8h1.3v1.3h-1.3zM51.5 28.8h0.9v0.9h-0.9zM49.6 25.5h0.9v0.9h-0.9zM45.3 37.9h1.3v1.3h-1.3zM42.1 20.6h1.1v1.1h-1.1zM49.3 21.1h1.1v1.1h-1.1zM47.4 24.0h1.1v1.1h-1.1zM43.8 35.3h1.1v1.1h-1.1zM39.5 19.7h1.1v1.1h-1.1zM49.4 20.7h1.1v1.1h-1.1zM35.9 22.8h0.9v0.9h-0.9zM34.2 21.7h1.3v1.3h-1.3zM31.4 29.9h1.1v1.1h-1.1zM48.8 20.7h1.1v1.1h-1.1zM40.7 37.1h1.3v1.3h-1.3zM33.3 32.8h1.1v1.1h-1.1zM44.9 36.2h1.3v1.3h-1.3z"/></g>
<ellipse cx="41.9" cy="28.3" rx="7.80" ry="6.65" fill="url(#sph)" filter="url(#blur1)" opacity="1"/>
<rect x="34.4" y="22.0" width="15.0" height="12.7" filter="url(#tb10)" opacity="0.12" clip-path="url(#cp10)"/>
<rect x="0.4" y="0.4" width="68.80" height="60.50" fill="none" stroke="#6a6a6a" stroke-width="0.9"/>
</g>
<g transform="translate(331.4,391.4)">
<rect width="69.6" height="61.3" fill="url(#bg11)"/>
<rect width="69.6" height="61.3" filter="url(#tb11)" opacity="0.099"/>
<g filter="url(#soft)" fill="#505050"><path fill-opacity="0.22" d="M1.1 36.3h2.1v2.1h-2.1zM1.2 11.3h1.1v1.1h-1.1zM41.1 42.6h1v1h-1zM21.6 0.7h0.9v0.9h-0.9zM54.3 41.7h0.9v0.9h-0.9zM25.5 26.5h1v1h-1zM22.3 24.1h1.8v1.8h-1.8zM48.3 51.7h1v1h-1zM48.1 22.1h1.3v1.3h-1.3zM48.5 15.1h1.1v1.1h-1.1zM24.1 36.7h1.1v1.1h-1.1zM13.9 58.8h1.3v1.3h-1.3zM48.6 0.7h1.8v1.8h-1.8zM1.9 29.4h1v1h-1zM34.2 9.3h0.9v0.9h-0.9zM35.1 6.7h1.8v1.8h-1.8zM17.9 38.5h1v1h-1zM43.2 10.7h0.9v0.9h-0.9zM68.2 34.6h1v1h-1zM35.3 31.1h1v1h-1zM3.1 19.0h0.9v0.9h-0.9zM15.2 35.0h1v1h-1zM26.8 47.0h1.1v1.1h-1.1zM54.0 39.0h1.3v1.3h-1.3zM66.7 30.3h1.1v1.1h-1.1zM30.4 45.9h0.9v0.9h-0.9zM57.6 19.4h1.3v1.3h-1.3zM7.1 58.0h1.1v1.1h-1.1zM36.8 24.8h1.3v1.3h-1.3zM38.9 17.7h1v1h-1zM50.1 46.0h1.1v1.1h-1.1zM59.5 31.0h1.1v1.1h-1.1zM37.9 38.7h1v1h-1zM16.6 25.4h1.3v1.3h-1.3zM6.8 58.7h0.9v0.9h-0.9zM37.4 33.7h0.9v0.9h-0.9zM52.7 3.2h1v1h-1zM27.1 42.7h1.1v1.1h-1.1zM68.0 18.8h1.3v1.3h-1.3zM24.5 38.9h0.9v0.9h-0.9zM32.7 19.7h1v1h-1zM20.9 31.3h1v1h-1zM26.1 4.3h1.3v1.3h-1.3zM32.5 40.2h1.1v1.1h-1.1zM50.7 25.2h1.8v1.8h-1.8zM31.1 31.6h0.9v0.9h-0.9zM35.6 8.0h1.3v1.3h-1.3zM63.2 26.6h0.9v0.9h-0.9zM11.4 54.9h1v1h-1zM48.1 25.2h0.9v0.9h-0.9zM49.5 55.1h1v1h-1zM24.8 14.7h1.1v1.1h-1.1zM61.7 55.5h1.3v1.3h-1.3zM67.5 47.4h1.1v1.1h-1.1zM15.8 59.3h1v1h-1zM17.9 49.7h1.1v1.1h-1.1z"/><path fill-opacity="0.34" d="M60.6 1.5h1v1h-1zM62.8 7.7h1.3v1.3h-1.3zM32.7 12.7h0.9v0.9h-0.9zM33.5 6.2h1.3v1.3h-1.3zM56.0 41.9h1.3v1.3h-1.3zM44.5 37.1h1v1h-1zM53.7 6.7h1.1v1.1h-1.1zM42.5 56.7h0.9v0.9h-0.9zM64.1 55.2h1v1h-1zM65.1 23.6h1.1v1.1h-1.1zM59.5 13.6h1.3v1.3h-1.3zM17.6 9.3h1v1h-1zM25.8 59.5h1.1v1.1h-1.1zM8.5 50.9h1v1h-1zM60.3 54.7h0.9v0.9h-0.9zM51.8 23.6h1.1v1.1h-1.1zM59.2 45.3h1v1h-1zM56.1 39.7h0.9v0.9h-0.9zM34.2 22.9h1.3v1.3h-1.3zM47.8 28.3h1.1v1.1h-1.1zM20.0 3.1h1v1h-1zM3.5 34.9h0.9v0.9h-0.9zM33.0 5.3h1.3v1.3h-1.3zM9.4 8.1h1v1h-1zM62.4 45.2h0.9v0.9h-0.9zM34.8 2.6h1v1h-1zM37.8 31.5h1.1v1.1h-1.1zM16.4 49.2h1v1h-1zM29.6 6.1h1v1h-1zM7.6 13.6h1v1h-1zM23.9 39.2h1v1h-1zM18.1 28.3h1.1v1.1h-1.1zM22.6 38.1h1v1h-1zM52.3 44.6h1v1h-1zM30.4 35.6h1.3v1.3h-1.3zM23.1 4.8h1.1v1.1h-1.1zM14.5 9.8h1.1v1.1h-1.1zM58.5 1.4h1v1h-1zM66.2 43.3h1.3v1.3h-1.3zM41.0 32.2h0.9v0.9h-0.9zM55.8 0.4h1.1v1.1h-1.1zM56.1 28.2h0.9v0.9h-0.9zM3.6 46.1h1.3v1.3h-1.3zM51.6 51.8h1.3v1.3h-1.3zM26.1 53.3h1.1v1.1h-1.1zM4.2 55.4h1v1h-1zM44.1 23.9h1v1h-1zM32.4 11.4h1.3v1.3h-1.3zM25.6 7.8h0.9v0.9h-0.9zM24.1 34.3h1v1h-1zM51.5 36.5h1.1v1.1h-1.1zM36.7 34.1h1v1h-1zM33.6 27.5h0.9v0.9h-0.9zM47.7 42.2h1.3v1.3h-1.3zM48.3 37.0h1.3v1.3h-1.3zM28.9 33.8h1.3v1.3h-1.3zM38.8 43.1h1.3v1.3h-1.3zM32.0 43.2h1.3v1.3h-1.3zM31.2 44.5h1.1v1.1h-1.1zM30.1 32.9h1.1v1.1h-1.1zM43.0 41.4h0.9v0.9h-0.9zM47.0 37.3h0.9v0.9h-0.9zM29.4 36.8h0.9v0.9h-0.9zM39.7 27.8h0.9v0.9h-0.9zM30.2 38.4h1.1v1.1h-1.1zM27.8 32.0h1.1v1.1h-1.1zM33.6 26.3h1.1v1.1h-1.1zM45.9 38.7h1.3v1.3h-1.3zM44.7 45.1h1.1v1.1h-1.1zM37.7 44.8h1.3v1.3h-1.3z"/><path fill-opacity="0.46" d="M1.4 51.5h1v1h-1zM9.4 41.3h1v1h-1zM24.1 17.4h1.1v1.1h-1.1zM31.4 33.6h0.9v0.9h-0.9zM30.6 43.1h1v1h-1zM4.9 46.1h1v1h-1zM36.1 38.4h0.9v0.9h-0.9zM7.0 44.5h1.3v1.3h-1.3zM44.9 26.5h1.3v1.3h-1.3zM28.5 40.1h1v1h-1zM28.5 50.8h1.3v1.3h-1.3zM6.7 45.6h1.1v1.1h-1.1zM7.1 6.6h1v1h-1zM66.4 5.8h0.9v0.9h-0.9zM18.0 27.4h2.4v2.4h-2.4zM61.0 18.7h1.3v1.3h-1.3zM0.8 18.5h1v1h-1zM59.1 41.9h1v1h-1zM66.1 16.2h1.1v1.1h-1.1zM0.9 10.8h1.3v1.3h-1.3zM33.7 40.6h1v1h-1zM56.3 20.0h1v1h-1zM41.8 7.4h1.1v1.1h-1.1zM5.3 55.2h0.9v0.9h-0.9zM66.9 12.2h0.9v0.9h-0.9zM62.1 3.2h1.1v1.1h-1.1zM38.9 4.9h1.1v1.1h-1.1zM35.5 58.7h1.1v1.1h-1.1zM59.1 58.0h1.1v1.1h-1.1zM10.7 27.5h1.1v1.1h-1.1zM22.3 13.5h1.3v1.3h-1.3zM12.5 34.0h1.3v1.3h-1.3zM49.6 34.3h0.9v0.9h-0.9zM63.8 38.3h1.3v1.3h-1.3zM30.5 15.4h1.3v1.3h-1.3zM39.8 12.8h0.9v0.9h-0.9zM54.6 37.7h1.3v1.3h-1.3zM56.8 12.6h1.1v1.1h-1.1zM33.3 30.4h1.3v1.3h-1.3zM38.2 56.5h1.1v1.1h-1.1zM36.1 4.1h0.9v0.9h-0.9zM17.4 5.2h1v1h-1zM49.3 30.6h1.3v1.3h-1.3zM31.3 33.3h0.9v0.9h-0.9zM42.3 42.6h0.9v0.9h-0.9zM31.1 36.3h1.3v1.3h-1.3zM42.6 28.2h1.3v1.3h-1.3zM30.4 38.2h1.1v1.1h-1.1zM39.5 45.7h1.1v1.1h-1.1zM27.6 30.6h1.1v1.1h-1.1zM36.4 26.3h1.3v1.3h-1.3zM48.2 30.6h1.3v1.3h-1.3zM45.6 29.8h0.9v0.9h-0.9zM46.5 35.6h0.9v0.9h-0.9zM44.2 40.0h1.1v1.1h-1.1z"/></g>
<ellipse cx="39.2" cy="35.9" rx="7.45" ry="7.35" fill="url(#sph)" filter="url(#blur1)" opacity="1"/>
<rect x="32.1" y="28.9" width="14.3" height="14.1" filter="url(#tb11)" opacity="0.12" clip-path="url(#cp11)"/>
<rect x="0.4" y="0.4" width="68.80" height="60.50" fill="none" stroke="#6a6a6a" stroke-width="0.9"/>
</g>
<g transform="translate(403.4,391.4)">
<rect width="69.6" height="61.3" fill="url(#bg12)"/>
<rect width="69.6" height="61.3" filter="url(#tb12)" opacity="0.099"/>
<g filter="url(#soft)" fill="#505050"><path fill-opacity="0.22" d="M32.3 15.3h1.8v1.8h-1.8zM38.1 10.3h1v1h-1zM47.4 38.9h0.9v0.9h-0.9zM22.1 51.3h0.9v0.9h-0.9zM34.9 30.2h1.3v1.3h-1.3zM16.0 59.3h1.3v1.3h-1.3zM34.2 35.1h1.1v1.1h-1.1zM45.8 35.3h1.3v1.3h-1.3zM14.4 36.3h1.1v1.1h-1.1zM35.2 28.8h1.1v1.1h-1.1zM34.8 41.4h1.3v1.3h-1.3zM63.4 30.1h1.3v1.3h-1.3zM22.3 32.9h1.1v1.1h-1.1zM13.8 1.1h1.3v1.3h-1.3zM16.9 22.3h1v1h-1zM17.0 40.4h1.1v1.1h-1.1zM17.2 51.8h1.1v1.1h-1.1zM43.5 13.0h0.9v0.9h-0.9zM12.2 47.0h1.3v1.3h-1.3zM29.7 55.5h1v1h-1zM34.7 37.2h1.3v1.3h-1.3zM52.3 21.2h2.1v2.1h-2.1zM39.2 51.7h1.1v1.1h-1.1zM18.7 48.0h1v1h-1zM25.5 4.5h1v1h-1zM15.6 3.1h1.3v1.3h-1.3zM56.3 24.9h1v1h-1zM30.1 51.1h0.9v0.9h-0.9zM26.3 46.3h0.9v0.9h-0.9zM6.0 57.5h1.1v1.1h-1.1zM24.4 18.4h1.3v1.3h-1.3zM41.5 50.2h1.3v1.3h-1.3zM38.8 36.7h1.1v1.1h-1.1zM59.4 58.2h1v1h-1zM57.1 39.2h1.3v1.3h-1.3zM0.9 46.7h1v1h-1zM49.5 29.6h1v1h-1zM51.7 49.7h1.1v1.1h-1.1zM38.0 49.9h0.9v0.9h-0.9zM49.8 27.9h1v1h-1zM65.9 19.7h1.1v1.1h-1.1zM46.2 58.9h1.3v1.3h-1.3zM28.5 50.7h0.9v0.9h-0.9zM9.1 8.9h1v1h-1zM32.9 52.2h0.9v0.9h-0.9zM67.0 40.8h0.9v0.9h-0.9zM33.2 1.0h1v1h-1zM20.6 13.7h1v1h-1zM60.3 20.7h1.3v1.3h-1.3zM51.3 10.8h1v1h-1zM39.4 20.1h1.3v1.3h-1.3z"/><path fill-opacity="0.34" d="M44.8 46.0h0.9v0.9h-0.9zM64.0 58.8h1.1v1.1h-1.1zM18.0 4.0h1.3v1.3h-1.3zM32.2 44.2h0.9v0.9h-0.9zM18.3 21.9h1.1v1.1h-1.1zM57.1 9.3h1.1v1.1h-1.1zM2.8 20.6h1.1v1.1h-1.1zM4.0 54.0h0.9v0.9h-0.9zM20.9 5.0h1.1v1.1h-1.1zM44.1 59.6h1.3v1.3h-1.3zM11.7 9.8h1.3v1.3h-1.3zM41.8 45.6h1v1h-1zM42.4 9.9h1v1h-1zM18.3 59.5h1v1h-1zM41.5 59.1h0.9v0.9h-0.9zM17.0 35.0h1.3v1.3h-1.3zM61.5 30.9h1v1h-1zM37.4 1.0h1.1v1.1h-1.1zM19.3 59.3h1v1h-1zM29.0 43.4h1v1h-1zM29.2 33.5h1.1v1.1h-1.1zM66.0 50.9h1.3v1.3h-1.3zM17.1 54.8h1.3v1.3h-1.3zM25.3 22.2h1.3v1.3h-1.3zM7.1 38.7h1.3v1.3h-1.3zM67.3 50.4h1.1v1.1h-1.1zM53.7 12.1h1v1h-1zM29.0 27.5h1.1v1.1h-1.1zM54.5 26.3h1.3v1.3h-1.3zM26.3 57.2h0.9v0.9h-0.9zM50.5 34.1h1.1v1.1h-1.1zM16.4 54.6h1.1v1.1h-1.1zM36.9 30.8h1v1h-1zM67.5 2.6h0.9v0.9h-0.9zM31.3 9.9h0.9v0.9h-0.9zM32.4 10.8h1.1v1.1h-1.1zM67.6 48.4h1v1h-1zM2.6 31.9h1.8v1.8h-1.8zM28.5 56.4h1.3v1.3h-1.3zM60.8 28.0h0.9v0.9h-0.9zM30.7 54.1h0.9v0.9h-0.9zM26.1 30.9h0.9v0.9h-0.9zM3.7 5.1h1v1h-1zM60.2 30.9h1v1h-1zM61.5 46.2h1.1v1.1h-1.1zM12.1 37.7h1.1v1.1h-1.1zM54.2 57.0h0.9v0.9h-0.9zM3.1 33.3h1.3v1.3h-1.3zM35.3 20.2h1.1v1.1h-1.1zM61.9 26.3h1v1h-1zM36.1 2.3h1.3v1.3h-1.3zM28.1 17.0h1v1h-1zM29.9 25.8h0.9v0.9h-0.9zM46.8 17.5h1.3v1.3h-1.3zM47.0 14.4h1.1v1.1h-1.1zM34.4 24.4h1.3v1.3h-1.3zM43.2 30.1h1.3v1.3h-1.3zM42.1 27.9h1.1v1.1h-1.1zM47.2 25.2h1.1v1.1h-1.1zM37.4 28.0h1.1v1.1h-1.1zM42.4 12.4h1.3v1.3h-1.3zM36.7 12.4h1.3v1.3h-1.3zM35.0 17.5h1.3v1.3h-1.3zM48.7 28.2h1.3v1.3h-1.3zM44.9 14.3h1.3v1.3h-1.3zM49.7 21.3h1.1v1.1h-1.1z"/><path fill-opacity="0.46" d="M14.8 23.1h1v1h-1zM30.9 58.0h1.1v1.1h-1.1zM60.6 14.7h1.1v1.1h-1.1zM61.4 5.7h1v1h-1zM19.1 7.7h1.3v1.3h-1.3zM3.6 50.3h1.3v1.3h-1.3zM63.6 44.0h1.3v1.3h-1.3zM56.0 30.6h1.8v1.8h-1.8zM62.1 51.8h1v1h-1zM14.2 47.2h2.4v2.4h-2.4zM27.8 58.6h0.9v0.9h-0.9zM6.9 10.4h1v1h-1zM43.0 21.4h1.3v1.3h-1.3zM14.3 4.0h0.9v0.9h-0.9zM57.8 39.5h1.1v1.1h-1.1zM37.3 27.4h1.1v1.1h-1.1zM2.8 34.5h0.9v0.9h-0.9zM55.9 26.8h0.9v0.9h-0.9zM50.2 17.6h1v1h-1zM14.5 27.0h0.9v0.9h-0.9zM7.1 56.5h0.9v0.9h-0.9zM41.8 58.6h0.9v0.9h-0.9zM3.9 17.2h1.1v1.1h-1.1zM14.2 22.0h1v1h-1zM59.9 56.1h1.3v1.3h-1.3zM46.1 6.7h1.1v1.1h-1.1zM22.4 30.2h1.3v1.3h-1.3zM41.2 38.9h1.3v1.3h-1.3zM24.6 49.6h0.9v0.9h-0.9zM29.8 53.1h0.9v0.9h-0.9zM30.1 35.0h1.3v1.3h-1.3zM11.7 18.5h1.1v1.1h-1.1zM31.6 20.8h1.1v1.1h-1.1zM34.2 17.4h1.1v1.1h-1.1zM8.9 54.1h1v1h-1zM7.5 37.5h0.9v0.9h-0.9zM0.9 57.5h2.4v2.4h-2.4zM60.3 9.6h1.1v1.1h-1.1zM20.6 28.3h1v1h-1zM24.9 36.8h1.1v1.1h-1.1zM52.8 24.0h1.3v1.3h-1.3zM60.3 39.1h1.3v1.3h-1.3zM12.6 5.0h1.3v1.3h-1.3zM19.8 54.8h0.9v0.9h-0.9zM35.0 40.0h0.9v0.9h-0.9zM63.0 1.8h1.1v1.1h-1.1zM34.1 15.9h1.1v1.1h-1.1zM38.0 31.5h1.3v1.3h-1.3zM42.3 28.7h1.1v1.1h-1.1zM31.9 25.3h1.3v1.3h-1.3zM39.4 27.8h0.9v0.9h-0.9zM33.6 18.2h1.3v1.3h-1.3zM39.3 32.1h1.1v1.1h-1.1zM31.7 17.7h0.9v0.9h-0.9zM45.2 15.8h1.1v1.1h-1.1zM50.5 18.2h1.3v1.3h-1.3zM43.4 10.6h1.1v1.1h-1.1zM46.0 27.7h1.3v1.3h-1.3zM35.5 29.4h1.1v1.1h-1.1zM46.9 19.5h1.1v1.1h-1.1zM35.2 18.4h1.1v1.1h-1.1z"/></g>
<ellipse cx="41.5" cy="21.8" rx="6.40" ry="7.00" fill="url(#sph)" filter="url(#blur1)" opacity="1"/>
<rect x="35.4" y="15.1" width="12.2" height="13.4" filter="url(#tb12)" opacity="0.12" clip-path="url(#cp12)"/>
<rect x="0.4" y="0.4" width="68.80" height="60.50" fill="none" stroke="#6a6a6a" stroke-width="0.9"/>
</g>
<g transform="translate(475.5,391.4)">
<rect width="69.6" height="61.3" fill="url(#bg13)"/>
<rect width="69.6" height="61.3" filter="url(#tb13)" opacity="0.090"/>
<g filter="url(#soft)" fill="#505050"><path fill-opacity="0.22" d="M7.0 38.1h0.9v0.9h-0.9zM46.1 40.3h1.1v1.1h-1.1zM62.4 55.2h1v1h-1zM14.3 13.4h1v1h-1zM65.2 14.6h1.3v1.3h-1.3zM48.9 38.6h1v1h-1zM5.1 48.6h0.9v0.9h-0.9zM63.0 53.0h0.9v0.9h-0.9zM36.0 55.7h1.1v1.1h-1.1zM53.2 17.0h1v1h-1zM7.4 28.2h2.1v2.1h-2.1zM8.2 13.9h1v1h-1zM32.4 7.5h1.1v1.1h-1.1zM43.8 55.1h1.3v1.3h-1.3zM22.2 53.1h2.1v2.1h-2.1zM54.6 34.2h1.3v1.3h-1.3zM38.7 8.4h1v1h-1zM44.2 33.4h1.1v1.1h-1.1zM6.4 25.9h1.3v1.3h-1.3zM56.5 51.8h1.1v1.1h-1.1zM49.8 21.6h1.3v1.3h-1.3zM31.1 49.4h0.9v0.9h-0.9zM35.5 26.5h1v1h-1zM52.3 5.2h1.3v1.3h-1.3zM42.4 0.9h0.9v0.9h-0.9zM15.0 56.8h1.3v1.3h-1.3zM27.8 52.5h1.1v1.1h-1.1zM18.0 10.7h1v1h-1zM67.7 32.8h1.8v1.8h-1.8zM50.4 23.8h1.3v1.3h-1.3zM14.7 22.6h0.9v0.9h-0.9zM53.2 48.1h1.8v1.8h-1.8zM38.3 23.5h1v1h-1zM46.8 57.1h1v1h-1zM38.9 54.8h1.3v1.3h-1.3zM37.3 53.5h1v1h-1zM43.5 47.6h1v1h-1zM16.4 2.1h1v1h-1zM23.2 39.4h1.3v1.3h-1.3zM57.5 31.8h1.3v1.3h-1.3z"/><path fill-opacity="0.34" d="M30.5 52.0h1v1h-1zM32.6 13.5h1.1v1.1h-1.1zM59.5 15.9h1v1h-1zM21.6 12.6h1.3v1.3h-1.3zM54.6 5.8h0.9v0.9h-0.9zM67.5 32.6h1.3v1.3h-1.3zM32.6 12.6h1v1h-1zM46.0 27.1h0.9v0.9h-0.9zM45.4 42.5h1.3v1.3h-1.3zM21.2 23.0h1v1h-1zM56.4 58.0h1.1v1.1h-1.1zM55.5 57.2h1.3v1.3h-1.3zM58.6 26.8h0.9v0.9h-0.9zM59.6 18.0h1.1v1.1h-1.1zM56.2 37.7h0.9v0.9h-0.9zM39.6 39.2h1.1v1.1h-1.1zM67.5 3.3h0.9v0.9h-0.9zM19.5 48.2h1.3v1.3h-1.3zM18.9 1.3h0.9v0.9h-0.9zM33.7 59.4h1v1h-1zM10.7 8.8h1v1h-1zM28.0 21.7h0.9v0.9h-0.9zM25.3 59.9h1.1v1.1h-1.1zM31.7 20.3h1v1h-1zM9.8 9.1h1.1v1.1h-1.1zM60.3 55.6h1v1h-1zM43.0 39.9h0.9v0.9h-0.9zM36.9 38.7h1v1h-1zM2.7 2.6h0.9v0.9h-0.9zM20.0 42.6h1.1v1.1h-1.1zM42.1 57.4h1.1v1.1h-1.1zM4.7 12.5h0.9v0.9h-0.9zM13.8 15.1h0.9v0.9h-0.9zM4.5 16.5h1.1v1.1h-1.1zM21.2 14.7h1.1v1.1h-1.1zM57.3 58.9h0.9v0.9h-0.9zM47.4 13.3h1v1h-1zM52.7 37.6h1.3v1.3h-1.3zM54.0 49.1h0.9v0.9h-0.9zM18.5 22.7h1.3v1.3h-1.3zM50.6 9.4h1.3v1.3h-1.3zM22.9 21.0h1.3v1.3h-1.3zM29.6 28.4h1.1v1.1h-1.1zM40.1 27.7h1.1v1.1h-1.1zM36.7 35.2h1.3v1.3h-1.3zM25.5 33.3h1.1v1.1h-1.1zM29.1 24.6h1.1v1.1h-1.1zM26.3 35.1h0.9v0.9h-0.9zM33.7 36.4h1.3v1.3h-1.3zM39.9 31.3h1.1v1.1h-1.1zM33.2 37.0h1.1v1.1h-1.1zM34.3 38.6h0.9v0.9h-0.9zM39.1 35.1h1.3v1.3h-1.3zM34.0 37.7h0.9v0.9h-0.9zM36.7 38.2h1.3v1.3h-1.3zM26.1 23.6h0.9v0.9h-0.9zM41.4 31.9h1.3v1.3h-1.3zM25.4 28.4h1.3v1.3h-1.3zM29.0 22.6h1.1v1.1h-1.1zM37.6 35.1h1.1v1.1h-1.1z"/><path fill-opacity="0.46" d="M64.0 7.2h1v1h-1zM13.0 34.5h0.9v0.9h-0.9zM54.3 33.4h1v1h-1zM7.6 52.0h0.9v0.9h-0.9zM25.6 36.4h0.9v0.9h-0.9zM3.4 10.8h1v1h-1zM56.2 57.7h0.9v0.9h-0.9zM31.1 56.7h1.1v1.1h-1.1zM12.3 20.7h1v1h-1zM49.7 15.2h0.9v0.9h-0.9zM9.0 59.6h0.9v0.9h-0.9zM25.7 14.5h0.9v0.9h-0.9zM12.7 57.1h0.9v0.9h-0.9zM14.5 4.8h1.3v1.3h-1.3zM43.9 32.4h1.3v1.3h-1.3zM51.8 55.0h1.1v1.1h-1.1zM65.1 32.3h1.3v1.3h-1.3zM46.2 12.8h0.9v0.9h-0.9zM30.1 46.1h1.1v1.1h-1.1zM57.5 13.5h0.9v0.9h-0.9zM52.8 52.4h1v1h-1zM24.7 58.8h1.3v1.3h-1.3zM12.8 19.5h1.3v1.3h-1.3zM29.9 36.6h0.9v0.9h-0.9zM21.9 13.2h1.3v1.3h-1.3zM12.4 21.9h1.1v1.1h-1.1zM17.7 4.6h0.9v0.9h-0.9zM63.6 4.6h0.9v0.9h-0.9zM37.3 56.7h0.9v0.9h-0.9zM6.5 25.9h1v1h-1zM44.6 50.2h0.9v0.9h-0.9zM4.5 21.1h0.9v0.9h-0.9zM2.1 38.3h0.9v0.9h-0.9zM38.0 37.3h1.1v1.1h-1.1zM49.6 17.5h1v1h-1zM23.0 22.5h1v1h-1zM38.3 59.6h1.3v1.3h-1.3zM33.6 36.9h0.9v0.9h-0.9zM30.4 21.0h0.9v0.9h-0.9zM25.9 33.6h1.1v1.1h-1.1zM29.1 24.8h0.9v0.9h-0.9zM28.4 35.4h0.9v0.9h-0.9zM29.8 21.2h0.9v0.9h-0.9zM40.0 31.6h1.1v1.1h-1.1zM33.6 22.1h1.1v1.1h-1.1zM29.7 35.8h1.3v1.3h-1.3zM35.9 38.4h0.9v0.9h-0.9zM40.2 33.9h0.9v0.9h-0.9z"/></g>
<ellipse cx="34.4" cy="30.0" rx="6.30" ry="6.05" fill="url(#sph)" filter="url(#blur2)" opacity="0.92"/>
<rect x="28.4" y="24.2" width="12.0" height="11.5" filter="url(#tb13)" opacity="0.12" clip-path="url(#cp13)"/>
<rect x="0.4" y="0.4" width="68.80" height="60.50" fill="none" stroke="#6a6a6a" stroke-width="0.9"/>
</g>
<g transform="translate(42.6,456.0)">
<rect width="69.6" height="61.3" fill="url(#bg14)"/>
<rect width="69.6" height="61.3" filter="url(#tb14)" opacity="0.099"/>
<rect width="69.6" height="61.3" filter="url(#tb14)" opacity="0.175" mask="url(#mk14)"/>
<g filter="url(#soft)" fill="#505050"><path fill-opacity="0.22" d="M26.2 48.5h0.9v0.9h-0.9zM45.7 18.4h1.3v1.3h-1.3zM51.6 23.7h1v1h-1zM15.8 16.9h1v1h-1zM9.1 13.8h0.9v0.9h-0.9zM2.1 37.0h0.9v0.9h-0.9zM39.3 0.7h1.1v1.1h-1.1zM15.2 0.4h0.9v0.9h-0.9zM27.7 48.7h1.3v1.3h-1.3zM8.0 30.9h0.9v0.9h-0.9zM48.3 17.8h1v1h-1zM18.6 33.5h1.1v1.1h-1.1zM17.2 19.3h1v1h-1zM21.8 22.2h1.1v1.1h-1.1zM22.7 28.1h1.1v1.1h-1.1zM19.8 54.8h0.9v0.9h-0.9zM14.8 3.5h1v1h-1zM28.1 10.4h0.9v0.9h-0.9zM43.4 4.5h1.3v1.3h-1.3zM29.3 34.7h1v1h-1zM24.8 15.7h0.9v0.9h-0.9zM61.7 42.5h0.9v0.9h-0.9zM11.2 36.7h0.9v0.9h-0.9zM28.3 9.2h2.4v2.4h-2.4zM15.2 46.1h1.3v1.3h-1.3zM3.9 47.8h1v1h-1zM10.7 4.6h1.1v1.1h-1.1zM41.6 20.2h1.1v1.1h-1.1zM31.8 15.9h1.3v1.3h-1.3zM11.7 32.9h0.9v0.9h-0.9zM53.9 12.3h0.9v0.9h-0.9zM38.4 7.9h1.3v1.3h-1.3zM20.9 3.9h1.3v1.3h-1.3zM14.1 6.9h1.1v1.1h-1.1zM12.3 28.4h1.3v1.3h-1.3zM23.3 13.0h1v1h-1zM12.3 27.5h0.9v0.9h-0.9zM58.1 3.3h0.9v0.9h-0.9zM12.6 52.9h1.3v1.3h-1.3zM57.2 37.0h1.3v1.3h-1.3zM18.8 25.1h1.1v1.1h-1.1zM16.8 49.0h1.1v1.1h-1.1zM19.3 10.9h1v1h-1zM28.6 20.5h1.3v1.3h-1.3zM39.6 24.7h1.1v1.1h-1.1zM23.8 57.2h1.1v1.1h-1.1zM64.9 27.6h2.1v2.1h-2.1zM43.3 17.1h1.3v1.3h-1.3zM21.5 4.9h1.3v1.3h-1.3zM23.8 33.8h1v1h-1zM2.0 22.0h1.3v1.3h-1.3zM24.9 5.9h0.9v0.9h-0.9zM12.5 21.8h0.9v0.9h-0.9zM26.1 13.6h1.1v1.1h-1.1zM7.3 10.4h1v1h-1zM13.1 10.3h1.3v1.3h-1.3zM27.1 44.0h0.9v0.9h-0.9zM8.4 15.2h0.9v0.9h-0.9zM53.8 51.1h1.3v1.3h-1.3zM43.0 19.3h0.9v0.9h-0.9zM17.3 32.8h1v1h-1zM17.3 22.8h1.1v1.1h-1.1zM46.0 9.2h1.3v1.3h-1.3zM25.4 57.3h1.1v1.1h-1.1zM14.4 12.1h1v1h-1zM43.1 14.1h1.1v1.1h-1.1zM28.0 2.9h1.3v1.3h-1.3zM15.1 5.1h1.3v1.3h-1.3zM34.1 6.4h0.9v0.9h-0.9zM2.4 44.9h1.1v1.1h-1.1z"/><path fill-opacity="0.34" d="M7.8 50.8h1.3v1.3h-1.3zM22.4 23.7h1.1v1.1h-1.1zM10.9 49.0h0.9v0.9h-0.9zM43.8 11.9h1.3v1.3h-1.3zM66.8 8.2h1.3v1.3h-1.3zM52.5 6.7h1.3v1.3h-1.3zM14.8 46.8h1.1v1.1h-1.1zM61.0 41.1h1v1h-1zM8.6 22.6h0.9v0.9h-0.9zM20.8 58.0h1.1v1.1h-1.1zM38.8 12.4h1v1h-1zM27.1 44.0h1.3v1.3h-1.3zM15.3 4.7h1.1v1.1h-1.1zM42.6 50.1h1.1v1.1h-1.1zM16.7 50.7h1.3v1.3h-1.3zM8.0 9.3h0.9v0.9h-0.9zM41.7 31.3h1.1v1.1h-1.1zM28.0 10.8h0.9v0.9h-0.9zM20.5 44.5h1.1v1.1h-1.1zM4.2 32.0h1.8v1.8h-1.8zM27.9 24.9h0.9v0.9h-0.9zM10.8 5.3h1.3v1.3h-1.3zM13.4 47.3h0.9v0.9h-0.9zM16.1 22.4h1v1h-1zM13.0 14.2h0.9v0.9h-0.9zM10.9 7.3h0.9v0.9h-0.9zM26.3 8.7h1v1h-1zM19.8 34.8h0.9v0.9h-0.9zM1.2 50.1h2.4v2.4h-2.4zM1.8 18.1h2.1v2.1h-2.1zM0.5 7.8h1.3v1.3h-1.3zM32.7 32.7h0.9v0.9h-0.9zM7.1 2.5h0.9v0.9h-0.9zM25.1 22.9h0.9v0.9h-0.9zM14.9 4.0h1.3v1.3h-1.3zM54.6 42.2h1.3v1.3h-1.3zM13.5 5.1h1v1h-1zM12.0 54.4h0.9v0.9h-0.9zM41.6 26.5h1.3v1.3h-1.3zM23.7 19.5h1.1v1.1h-1.1zM50.0 13.7h1.3v1.3h-1.3zM4.4 49.6h1.3v1.3h-1.3zM10.0 40.6h1v1h-1zM48.2 17.8h1.1v1.1h-1.1zM23.7 4.3h1v1h-1zM44.0 7.7h1.3v1.3h-1.3zM48.1 9.5h1.3v1.3h-1.3zM29.0 0.1h1.8v1.8h-1.8zM45.0 16.3h0.9v0.9h-0.9zM18.7 12.5h1.1v1.1h-1.1zM22.4 14.7h1.1v1.1h-1.1zM25.4 16.7h1v1h-1zM19.6 12.1h1v1h-1zM7.2 6.7h1.3v1.3h-1.3zM33.9 25.4h0.9v0.9h-0.9zM33.2 35.1h1.3v1.3h-1.3zM1.9 31.2h1.1v1.1h-1.1zM66.2 36.5h1.3v1.3h-1.3zM3.6 0.2h1.3v1.3h-1.3zM7.5 7.0h1.1v1.1h-1.1zM34.0 36.9h1v1h-1zM14.1 10.7h1v1h-1zM56.4 18.1h1.1v1.1h-1.1zM38.5 16.3h1v1h-1zM64.2 7.2h0.9v0.9h-0.9zM55.6 15.8h0.9v0.9h-0.9zM44.9 6.9h1v1h-1zM34.3 46.8h1.1v1.1h-1.1zM33.2 4.2h0.9v0.9h-0.9zM1.6 32.9h1v1h-1zM16.5 23.0h1v1h-1zM2.5 32.9h1.3v1.3h-1.3zM7.4 8.3h1.3v1.3h-1.3zM54.4 18.3h1.1v1.1h-1.1zM36.5 27.9h1.1v1.1h-1.1zM46.3 19.8h1.3v1.3h-1.3zM34.8 8.1h1v1h-1zM37.2 0.9h1.1v1.1h-1.1zM17.9 18.9h1v1h-1zM28.9 41.4h1.3v1.3h-1.3zM25.8 40.0h1.3v1.3h-1.3zM22.1 27.2h0.9v0.9h-0.9zM41.5 27.2h1.3v1.3h-1.3zM27.8 38.7h0.9v0.9h-0.9zM23.1 35.6h1.1v1.1h-1.1zM29.3 41.0h1.3v1.3h-1.3zM34.0 42.9h1.3v1.3h-1.3zM36.9 19.8h0.9v0.9h-0.9zM40.7 41.7h0.9v0.9h-0.9zM30.3 18.8h1.3v1.3h-1.3zM27.3 26.5h0.9v0.9h-0.9zM44.7 31.9h0.9v0.9h-0.9zM26.5 20.8h0.9v0.9h-0.9zM25.8 35.7h0.9v0.9h-0.9zM26.2 23.5h1.3v1.3h-1.3zM42.5 31.6h1.1v1.1h-1.1z"/><path fill-opacity="0.46" d="M27.9 12.1h1v1h-1zM10.9 27.6h1.1v1.1h-1.1zM0.8 13.8h0.9v0.9h-0.9zM7.7 31.6h1.3v1.3h-1.3zM24.4 45.0h1.3v1.3h-1.3zM34.0 21.3h1.1v1.1h-1.1zM29.0 9.1h1.1v1.1h-1.1zM29.7 28.3h0.9v0.9h-0.9zM28.1 38.7h0.9v0.9h-0.9zM28.1 36.8h1.8v1.8h-1.8zM59.4 50.6h1.3v1.3h-1.3zM51.4 55.8h1v1h-1zM7.1 24.5h0.9v0.9h-0.9zM20.6 4.2h0.9v0.9h-0.9zM44.1 36.7h1v1h-1zM10.7 11.0h1.1v1.1h-1.1zM15.5 8.5h1.1v1.1h-1.1zM68.2 12.9h1v1h-1zM3.4 25.1h1.1v1.1h-1.1zM39.8 18.0h1v1h-1zM27.2 36.8h0.9v0.9h-0.9zM3.8 20.3h1.3v1.3h-1.3zM26.8 46.2h0.9v0.9h-0.9zM15.2 10.5h1v1h-1zM44.4 3.4h0.9v0.9h-0.9zM22.6 39.6h1.1v1.1h-1.1zM6.2 21.5h1v1h-1zM7.5 16.1h1v1h-1zM19.7 26.0h1v1h-1zM6.2 13.9h0.9v0.9h-0.9zM4.0 17.4h1.3v1.3h-1.3zM42.8 22.0h1.3v1.3h-1.3zM65.5 3.5h1v1h-1zM23.1 3.6h0.9v0.9h-0.9zM36.1 53.0h1.3v1.3h-1.3zM17.7 26.9h1v1h-1zM30.2 57.2h1.3v1.3h-1.3zM6.8 9.4h1.1v1.1h-1.1zM61.9 11.3h1v1h-1zM31.2 4.5h1.3v1.3h-1.3zM45.5 17.5h1.1v1.1h-1.1zM14.7 27.1h1v1h-1zM3.4 29.5h1.3v1.3h-1.3zM26.4 52.4h1.3v1.3h-1.3zM5.4 49.5h1.1v1.1h-1.1zM35.3 50.3h1v1h-1zM8.6 14.9h1.1v1.1h-1.1zM29.9 38.1h1.3v1.3h-1.3zM47.2 32.3h1.1v1.1h-1.1zM19.7 9.5h2.4v2.4h-2.4zM25.6 47.3h1v1h-1zM24.3 13.8h1v1h-1zM18.1 13.0h1.3v1.3h-1.3zM65.9 44.5h0.9v0.9h-0.9zM53.8 52.1h1.3v1.3h-1.3zM23.6 4.3h2.4v2.4h-2.4zM40.5 0.9h1.3v1.3h-1.3zM11.8 25.4h0.9v0.9h-0.9zM22.5 28.6h1v1h-1zM52.2 32.0h2.4v2.4h-2.4zM63.6 54.7h1.1v1.1h-1.1zM51.7 2.8h1.1v1.1h-1.1zM7.8 31.6h1.1v1.1h-1.1zM41.4 24.6h0.9v0.9h-0.9zM18.3 23.2h1.3v1.3h-1.3zM46.3 38.7h1v1h-1zM6.7 36.8h1.3v1.3h-1.3zM54.5 37.6h0.9v0.9h-0.9zM50.3 18.2h1v1h-1zM52.0 4.4h0.9v0.9h-0.9zM1.4 37.2h0.9v0.9h-0.9zM36.6 21.3h1.1v1.1h-1.1zM40.5 17.4h1.1v1.1h-1.1zM45.0 26.3h1.1v1.1h-1.1zM27.7 24.3h1.1v1.1h-1.1zM25.9 24.7h1.1v1.1h-1.1zM25.8 38.0h1.1v1.1h-1.1zM44.5 24.6h1.3v1.3h-1.3zM42.7 29.0h1.1v1.1h-1.1zM24.1 28.3h1.1v1.1h-1.1zM25.7 35.7h1.1v1.1h-1.1zM42.7 36.2h1.1v1.1h-1.1zM25.9 28.3h1.1v1.1h-1.1zM34.6 39.3h1.3v1.3h-1.3zM42.2 23.3h1.1v1.1h-1.1z"/></g>
<ellipse cx="34.4" cy="30.7" rx="7.45" ry="9.55" fill="url(#sph)" filter="url(#blur1)" opacity="1"/>
<rect x="27.2" y="21.4" width="14.3" height="18.5" filter="url(#tb14)" opacity="0.12" clip-path="url(#cp14)"/>
<rect x="0.4" y="0.4" width="68.80" height="60.50" fill="none" stroke="#6a6a6a" stroke-width="0.9"/>
</g>
<g transform="translate(114.9,456.0)">
<rect width="69.6" height="61.3" fill="url(#bg15)"/>
<rect width="69.6" height="61.3" filter="url(#tb15)" opacity="0.090"/>
<g filter="url(#soft)" fill="#505050"><path fill-opacity="0.22" d="M27.4 48.6h1.3v1.3h-1.3zM2.6 51.4h0.9v0.9h-0.9zM64.8 53.1h1v1h-1zM18.5 31.1h1v1h-1zM5.2 53.7h0.9v0.9h-0.9zM5.8 50.8h1v1h-1zM13.9 51.0h1.3v1.3h-1.3zM0.5 46.2h1.3v1.3h-1.3zM22.7 44.2h1.8v1.8h-1.8zM30.3 49.6h1.1v1.1h-1.1zM38.9 42.7h0.9v0.9h-0.9zM22.8 46.6h1v1h-1zM46.2 37.8h1v1h-1zM47.2 21.6h1v1h-1zM14.7 51.5h1.1v1.1h-1.1zM20.1 27.9h0.9v0.9h-0.9zM49.4 26.8h1v1h-1zM9.7 26.4h1.1v1.1h-1.1zM17.1 35.4h1v1h-1zM61.6 7.2h1v1h-1zM31.5 44.7h1.3v1.3h-1.3zM51.8 28.7h1.1v1.1h-1.1zM17.4 42.0h0.9v0.9h-0.9zM1.5 55.0h1v1h-1zM9.2 58.1h0.9v0.9h-0.9zM29.9 52.6h0.9v0.9h-0.9zM62.1 36.4h0.9v0.9h-0.9zM36.3 48.7h1.1v1.1h-1.1zM46.2 48.2h1.1v1.1h-1.1zM19.7 24.4h0.9v0.9h-0.9zM11.5 50.8h0.9v0.9h-0.9zM35.8 32.1h0.9v0.9h-0.9zM13.8 54.2h1.1v1.1h-1.1zM51.0 36.1h1v1h-1zM8.5 52.2h1.3v1.3h-1.3zM25.6 25.0h0.9v0.9h-0.9zM40.4 22.5h1.3v1.3h-1.3zM27.8 41.5h1v1h-1zM5.7 22.6h1.3v1.3h-1.3zM7.3 45.1h2.4v2.4h-2.4zM23.8 27.4h1.1v1.1h-1.1zM0.9 49.0h1v1h-1zM19.0 56.4h1.3v1.3h-1.3zM18.9 55.5h1.3v1.3h-1.3zM18.1 42.5h0.9v0.9h-0.9zM33.2 34.6h1v1h-1zM15.8 53.9h1v1h-1zM53.9 50.5h1.1v1.1h-1.1zM22.5 58.6h0.9v0.9h-0.9zM68.0 28.8h1.3v1.3h-1.3zM4.0 46.9h0.9v0.9h-0.9zM46.2 24.2h1.3v1.3h-1.3zM44.9 41.5h1.1v1.1h-1.1zM33.2 9.4h1.1v1.1h-1.1zM48.0 58.6h1v1h-1zM36.5 41.2h0.9v0.9h-0.9zM16.3 35.6h0.9v0.9h-0.9zM50.7 42.5h0.9v0.9h-0.9z"/><path fill-opacity="0.34" d="M27.1 37.2h1v1h-1zM7.4 56.6h1.1v1.1h-1.1zM59.7 8.5h1v1h-1zM21.8 47.8h1v1h-1zM27.1 44.8h1v1h-1zM26.0 32.1h1v1h-1zM40.4 53.8h1v1h-1zM44.7 37.1h1.1v1.1h-1.1zM57.3 58.9h0.9v0.9h-0.9zM8.7 52.0h0.9v0.9h-0.9zM29.9 25.3h0.9v0.9h-0.9zM15.0 49.3h1.1v1.1h-1.1zM20.5 52.3h1v1h-1zM26.8 1.7h1.1v1.1h-1.1zM43.6 14.7h0.9v0.9h-0.9zM38.0 10.5h1.3v1.3h-1.3zM27.4 49.9h1v1h-1zM58.8 48.4h1.3v1.3h-1.3zM62.5 25.2h0.9v0.9h-0.9zM13.3 27.5h1v1h-1zM24.1 46.3h1.1v1.1h-1.1zM14.6 35.3h1.3v1.3h-1.3zM13.0 48.1h1.3v1.3h-1.3zM2.8 42.7h0.9v0.9h-0.9zM26.6 44.6h1.1v1.1h-1.1zM2.4 25.3h1v1h-1zM50.0 58.3h1v1h-1zM43.2 55.1h1.3v1.3h-1.3zM42.9 33.6h0.9v0.9h-0.9zM7.7 30.9h0.9v0.9h-0.9zM30.4 31.7h1v1h-1zM13.1 56.5h1.3v1.3h-1.3zM34.1 37.1h0.9v0.9h-0.9zM67.6 42.6h1v1h-1zM67.6 50.0h1v1h-1zM22.5 54.1h1.3v1.3h-1.3zM50.7 49.6h1.3v1.3h-1.3zM45.8 10.8h2.4v2.4h-2.4zM18.2 1.0h1v1h-1zM55.3 52.7h1v1h-1zM1.6 51.0h1.3v1.3h-1.3zM30.9 40.7h0.9v0.9h-0.9zM15.0 41.9h1v1h-1zM63.5 57.6h1v1h-1zM21.4 23.0h1v1h-1zM22.4 36.7h1.3v1.3h-1.3zM39.0 19.3h2.4v2.4h-2.4zM44.5 21.2h1.3v1.3h-1.3zM30.9 23.8h1.1v1.1h-1.1zM21.0 24.3h1.3v1.3h-1.3zM32.6 24.3h1.3v1.3h-1.3zM21.3 26.8h1.3v1.3h-1.3zM32.9 27.0h1.1v1.1h-1.1zM24.7 23.9h1.1v1.1h-1.1zM29.7 35.6h1.3v1.3h-1.3zM19.7 27.5h1.3v1.3h-1.3zM19.8 24.4h0.9v0.9h-0.9zM23.3 38.5h0.9v0.9h-0.9zM19.9 29.1h1.1v1.1h-1.1zM20.8 27.0h0.9v0.9h-0.9z"/><path fill-opacity="0.46" d="M26.6 47.2h1.1v1.1h-1.1zM7.4 30.2h0.9v0.9h-0.9zM18.6 55.1h1.3v1.3h-1.3zM15.1 39.7h1.1v1.1h-1.1zM17.8 41.9h1.3v1.3h-1.3zM8.9 36.7h0.9v0.9h-0.9zM44.7 50.7h1.1v1.1h-1.1zM56.4 57.0h1.1v1.1h-1.1zM15.3 49.0h1.3v1.3h-1.3zM54.2 52.3h1v1h-1zM9.2 44.4h1.1v1.1h-1.1zM18.5 59.7h1v1h-1zM48.9 50.8h0.9v0.9h-0.9zM10.0 24.5h1v1h-1zM26.4 49.5h1.1v1.1h-1.1zM51.9 16.0h1v1h-1zM41.0 23.9h0.9v0.9h-0.9zM40.7 59.3h1v1h-1zM2.2 12.7h1v1h-1zM32.4 14.6h1v1h-1zM18.0 25.7h1.3v1.3h-1.3zM47.1 31.1h1.1v1.1h-1.1zM48.8 58.8h1.1v1.1h-1.1zM23.1 33.5h0.9v0.9h-0.9zM5.1 54.3h1.3v1.3h-1.3zM3.0 17.0h1.3v1.3h-1.3zM35.1 46.6h0.9v0.9h-0.9zM21.5 45.9h1.3v1.3h-1.3zM48.2 53.8h1.1v1.1h-1.1zM7.0 31.3h1.1v1.1h-1.1zM52.8 5.4h1.1v1.1h-1.1zM9.9 37.5h1.3v1.3h-1.3zM57.5 25.4h1.8v1.8h-1.8zM16.2 55.6h1.3v1.3h-1.3zM55.7 47.7h1.3v1.3h-1.3zM16.9 59.1h1.3v1.3h-1.3zM60.8 29.4h1.1v1.1h-1.1zM34.5 37.5h1.3v1.3h-1.3zM20.2 21.7h1v1h-1zM9.0 54.2h0.9v0.9h-0.9zM6.0 55.3h1.3v1.3h-1.3zM53.1 21.3h1.1v1.1h-1.1zM53.4 32.9h1.3v1.3h-1.3zM51.4 49.7h1.1v1.1h-1.1zM22.1 24.8h1.1v1.1h-1.1zM25.9 21.3h1.3v1.3h-1.3zM19.6 30.5h0.9v0.9h-0.9zM28.0 37.1h1.3v1.3h-1.3zM24.6 37.4h0.9v0.9h-0.9zM30.6 25.6h1.1v1.1h-1.1zM27.1 20.7h1.1v1.1h-1.1zM31.4 33.5h1.3v1.3h-1.3zM19.3 29.2h1.1v1.1h-1.1zM20.2 29.7h0.9v0.9h-0.9zM20.9 27.2h1.3v1.3h-1.3zM31.8 26.5h0.9v0.9h-0.9zM21.9 34.6h1.3v1.3h-1.3zM35.8 30.7h1.3v1.3h-1.3zM20.8 23.9h0.9v0.9h-0.9z"/></g>
<ellipse cx="26.7" cy="30.7" rx="6.05" ry="6.05" fill="url(#sph)" filter="url(#blur1)" opacity="1"/>
<rect x="20.9" y="24.9" width="11.5" height="11.5" filter="url(#tb15)" opacity="0.12" clip-path="url(#cp15)"/>
<rect x="0.4" y="0.4" width="68.80" height="60.50" fill="none" stroke="#6a6a6a" stroke-width="0.9"/>
</g>
<g transform="translate(187.1,456.0)">
<rect width="69.6" height="61.3" fill="url(#bg16)"/>
<rect width="69.6" height="61.3" filter="url(#tb16)" opacity="0.081"/>
<rect width="69.6" height="61.3" fill="#707070" opacity="0.14" mask="url(#mk16)"/>
<rect width="69.6" height="61.3" filter="url(#tb16)" opacity="0.275" mask="url(#mk16)"/>
<g filter="url(#soft)" fill="#505050"><path fill-opacity="0.22" d="M62.3 40.2h1.3v1.3h-1.3zM50.1 42.6h1.3v1.3h-1.3zM52.0 54.6h0.9v0.9h-0.9zM30.2 53.9h1.1v1.1h-1.1zM66.3 33.5h0.9v0.9h-0.9zM9.1 47.2h1v1h-1zM45.2 4.2h1.3v1.3h-1.3zM17.1 48.5h1v1h-1zM3.1 28.6h1v1h-1zM26.3 17.5h1.1v1.1h-1.1zM4.0 38.5h1.1v1.1h-1.1zM41.0 54.4h0.9v0.9h-0.9zM65.8 27.6h0.9v0.9h-0.9zM59.1 42.5h0.9v0.9h-0.9zM56.5 21.3h1.1v1.1h-1.1zM45.4 59.3h1v1h-1zM33.9 22.5h1v1h-1zM52.6 41.9h1.3v1.3h-1.3zM52.7 10.9h0.9v0.9h-0.9zM55.6 52.2h0.9v0.9h-0.9zM22.8 55.4h1v1h-1zM44.2 53.0h1v1h-1zM52.9 46.4h1v1h-1zM44.5 5.9h2.4v2.4h-2.4zM53.9 35.2h1.3v1.3h-1.3zM61.4 3.4h1v1h-1zM59.2 12.4h1.3v1.3h-1.3zM65.7 7.2h0.9v0.9h-0.9zM49.6 12.1h1.8v1.8h-1.8zM23.1 54.6h1.1v1.1h-1.1zM3.5 19.0h0.9v0.9h-0.9zM65.9 54.4h1v1h-1zM54.3 53.8h1.3v1.3h-1.3zM18.4 19.1h1.3v1.3h-1.3zM44.7 26.3h1.3v1.3h-1.3zM38.9 2.4h1.3v1.3h-1.3zM43.4 40.9h1.1v1.1h-1.1zM50.1 54.2h1v1h-1zM60.6 36.6h1v1h-1z"/><path fill-opacity="0.34" d="M53.3 57.1h0.9v0.9h-0.9zM55.0 37.6h1.3v1.3h-1.3zM65.2 14.8h0.9v0.9h-0.9zM57.5 38.0h1.3v1.3h-1.3zM53.2 0.3h1.3v1.3h-1.3zM66.9 49.1h1.1v1.1h-1.1zM51.7 49.4h1.3v1.3h-1.3zM40.6 57.1h0.9v0.9h-0.9zM24.5 59.4h1v1h-1zM58.6 41.9h1v1h-1zM48.7 34.9h1v1h-1zM31.4 5.9h0.9v0.9h-0.9zM57.7 9.4h1v1h-1zM40.1 36.4h1.3v1.3h-1.3zM66.3 40.2h1v1h-1zM29.2 51.8h1.1v1.1h-1.1zM34.8 54.6h1.1v1.1h-1.1zM54.0 59.7h1v1h-1zM38.0 47.7h1.3v1.3h-1.3zM54.5 2.1h0.9v0.9h-0.9zM15.6 2.8h1.1v1.1h-1.1zM43.1 56.2h0.9v0.9h-0.9zM57.9 55.4h1.1v1.1h-1.1zM46.2 26.4h1.1v1.1h-1.1zM50.9 26.9h1.3v1.3h-1.3zM68.0 31.2h1v1h-1zM58.7 55.1h1v1h-1zM48.1 22.8h1.3v1.3h-1.3zM18.9 30.1h0.9v0.9h-0.9zM46.5 7.2h1.1v1.1h-1.1zM49.8 47.8h0.9v0.9h-0.9zM48.0 6.4h1.3v1.3h-1.3zM26.1 52.5h1.3v1.3h-1.3zM64.9 10.9h1.3v1.3h-1.3zM64.7 12.9h1.3v1.3h-1.3zM45.3 41.6h1.3v1.3h-1.3zM60.7 20.7h1.3v1.3h-1.3zM53.3 0.8h1.3v1.3h-1.3zM66.3 23.1h0.9v0.9h-0.9zM55.6 46.2h1v1h-1zM25.5 33.4h0.9v0.9h-0.9zM36.8 42.8h1.1v1.1h-1.1zM42.3 40.0h0.9v0.9h-0.9zM22.1 32.9h1.1v1.1h-1.1zM42.2 29.5h1.3v1.3h-1.3zM43.1 41.1h1.1v1.1h-1.1zM35.7 22.7h0.9v0.9h-0.9zM33.2 21.4h0.9v0.9h-0.9zM36.5 25.7h1.3v1.3h-1.3zM27.3 39.4h1.1v1.1h-1.1z"/><path fill-opacity="0.46" d="M65.8 42.5h0.9v0.9h-0.9zM59.3 42.2h1v1h-1zM57.7 35.9h0.9v0.9h-0.9zM50.4 6.6h1.3v1.3h-1.3zM64.5 0.6h1.3v1.3h-1.3zM31.6 59.7h0.9v0.9h-0.9zM44.4 39.8h1.1v1.1h-1.1zM51.1 21.9h1.1v1.1h-1.1zM66.6 41.1h1.3v1.3h-1.3zM48.1 40.5h1v1h-1zM58.7 36.0h1.3v1.3h-1.3zM63.4 4.1h2.4v2.4h-2.4zM63.7 10.4h1.1v1.1h-1.1zM55.1 33.1h1v1h-1zM5.7 43.3h0.9v0.9h-0.9zM35.2 53.1h1.1v1.1h-1.1zM4.8 3.3h1.1v1.1h-1.1zM15.0 57.3h1.1v1.1h-1.1zM55.9 26.9h1.3v1.3h-1.3zM19.8 57.8h1v1h-1zM47.0 8.1h0.9v0.9h-0.9zM64.1 50.4h0.9v0.9h-0.9zM51.9 32.9h1.1v1.1h-1.1zM68.2 59.7h1.1v1.1h-1.1zM58.6 57.7h1v1h-1zM28.8 52.5h0.9v0.9h-0.9zM36.4 55.6h1.3v1.3h-1.3zM37.9 20.7h1v1h-1zM67.4 45.5h1.8v1.8h-1.8zM34.6 48.3h1.3v1.3h-1.3zM49.1 9.8h0.9v0.9h-0.9zM61.3 53.6h1.1v1.1h-1.1zM21.0 54.1h0.9v0.9h-0.9zM57.9 47.4h1.1v1.1h-1.1zM44.6 31.6h1.1v1.1h-1.1zM22.1 54.6h0.9v0.9h-0.9zM61.2 0.4h1v1h-1zM44.6 5.6h1v1h-1zM67.5 20.5h1.1v1.1h-1.1zM66.1 20.4h0.9v0.9h-0.9zM56.8 55.5h1.1v1.1h-1.1zM45.0 28.6h1.3v1.3h-1.3zM34.0 42.6h0.9v0.9h-0.9zM31.8 41.3h0.9v0.9h-0.9zM40.5 27.2h1.1v1.1h-1.1zM36.7 41.3h1.3v1.3h-1.3zM29.9 40.7h1.3v1.3h-1.3zM25.3 31.5h0.9v0.9h-0.9zM24.6 31.9h1.1v1.1h-1.1zM44.9 30.5h1.3v1.3h-1.3zM36.1 41.9h1.3v1.3h-1.3zM25.4 27.9h0.9v0.9h-0.9zM42.6 33.4h1.3v1.3h-1.3zM25.1 39.9h0.9v0.9h-0.9zM25.2 31.9h0.9v0.9h-0.9zM41.8 30.2h0.9v0.9h-0.9zM39.5 24.6h0.9v0.9h-0.9zM26.8 25.5h0.9v0.9h-0.9zM30.6 24.9h1.3v1.3h-1.3zM31.1 21.0h1.3v1.3h-1.3zM21.4 33.1h1.3v1.3h-1.3zM23.6 31.7h0.9v0.9h-0.9z"/></g>
<ellipse cx="34.4" cy="34.1" rx="7.70" ry="8.15" fill="url(#sph)" filter="url(#blur1)" opacity="1"/>
<rect x="27.0" y="26.3" width="14.8" height="15.7" filter="url(#tb16)" opacity="0.12" clip-path="url(#cp16)"/>
<rect x="0.4" y="0.4" width="68.80" height="60.50" fill="none" stroke="#6a6a6a" stroke-width="0.9"/>
</g>
<g transform="translate(259.3,456.0)">
<rect width="69.6" height="61.3" fill="url(#bg17)"/>
<rect width="69.6" height="61.3" filter="url(#tb17)" opacity="0.090"/>
<g filter="url(#soft)" fill="#505050"><path fill-opacity="0.22" d="M59.9 43.3h2.4v2.4h-2.4zM27.9 3.1h1.3v1.3h-1.3zM18.1 29.7h1.3v1.3h-1.3zM22.7 21.9h1.1v1.1h-1.1zM12.9 4.6h1.3v1.3h-1.3zM10.4 32.8h1.1v1.1h-1.1zM27.8 23.2h1.1v1.1h-1.1zM6.7 56.2h0.9v0.9h-0.9zM46.3 19.1h1.3v1.3h-1.3zM16.6 33.0h1.1v1.1h-1.1zM54.0 41.3h1v1h-1zM12.8 44.3h1.1v1.1h-1.1zM45.7 34.1h0.9v0.9h-0.9zM54.8 51.6h1.1v1.1h-1.1zM66.3 21.2h0.9v0.9h-0.9zM52.0 38.8h1v1h-1zM25.5 40.9h1v1h-1zM17.0 38.1h1v1h-1zM42.9 53.5h1.1v1.1h-1.1zM5.5 3.6h1v1h-1zM48.8 55.6h1.1v1.1h-1.1zM39.2 25.2h1v1h-1zM24.4 11.6h1.1v1.1h-1.1zM64.2 8.5h1v1h-1zM42.2 20.0h1.1v1.1h-1.1zM11.0 49.1h0.9v0.9h-0.9zM13.6 17.3h1.3v1.3h-1.3z"/><path fill-opacity="0.34" d="M25.2 22.4h1.1v1.1h-1.1zM56.2 14.0h1.1v1.1h-1.1zM4.0 2.0h1v1h-1zM6.4 3.8h1.1v1.1h-1.1zM53.8 8.6h1.1v1.1h-1.1zM64.9 8.5h1v1h-1zM54.3 21.7h1.3v1.3h-1.3zM65.9 13.2h1v1h-1zM61.7 3.1h1.3v1.3h-1.3zM40.2 41.4h1v1h-1zM33.5 55.5h1.3v1.3h-1.3zM48.6 12.9h1.3v1.3h-1.3zM17.4 5.6h1v1h-1zM2.0 24.3h1.3v1.3h-1.3zM22.9 2.7h1.3v1.3h-1.3zM45.8 7.2h1.3v1.3h-1.3zM30.6 28.6h1.1v1.1h-1.1zM59.6 22.1h1.1v1.1h-1.1zM59.8 28.4h1.1v1.1h-1.1zM19.6 6.9h1v1h-1zM2.8 42.7h0.9v0.9h-0.9zM53.1 17.4h1.1v1.1h-1.1zM52.8 2.5h0.9v0.9h-0.9zM31.7 16.6h1.3v1.3h-1.3zM17.1 51.9h0.9v0.9h-0.9zM21.4 18.7h1.3v1.3h-1.3zM47.3 43.4h1v1h-1zM27.8 54.8h1.3v1.3h-1.3zM36.5 48.4h1.3v1.3h-1.3zM53.7 58.6h1.3v1.3h-1.3zM36.8 35.5h0.9v0.9h-0.9zM14.4 4.7h1.3v1.3h-1.3zM58.0 57.1h2.4v2.4h-2.4zM32.9 6.3h1v1h-1zM36.5 3.6h1.3v1.3h-1.3zM59.9 51.1h1v1h-1zM40.7 28.4h1.3v1.3h-1.3zM41.5 32.4h1.1v1.1h-1.1zM40.6 34.3h1.3v1.3h-1.3zM28.0 28.5h0.9v0.9h-0.9zM41.7 36.4h1.3v1.3h-1.3zM30.5 30.5h0.9v0.9h-0.9zM28.8 30.1h0.9v0.9h-0.9zM29.8 40.4h1.3v1.3h-1.3zM32.0 29.3h1.3v1.3h-1.3zM27.9 38.9h1.3v1.3h-1.3zM39.9 36.2h1.3v1.3h-1.3zM28.9 28.5h1.1v1.1h-1.1zM42.2 33.8h1.3v1.3h-1.3zM36.5 39.5h1.3v1.3h-1.3zM28.0 35.7h1.1v1.1h-1.1z"/><path fill-opacity="0.46" d="M12.6 36.4h1.1v1.1h-1.1zM24.5 17.1h0.9v0.9h-0.9zM8.1 39.1h1v1h-1zM22.8 13.4h1.1v1.1h-1.1zM46.7 0.9h1v1h-1zM13.3 34.9h0.9v0.9h-0.9zM45.9 12.0h1v1h-1zM1.6 56.9h1.3v1.3h-1.3zM5.7 41.7h0.9v0.9h-0.9zM35.6 29.7h0.9v0.9h-0.9zM65.2 40.2h1v1h-1zM52.7 10.1h1v1h-1zM52.9 46.9h1.1v1.1h-1.1zM3.7 8.0h1v1h-1zM31.1 7.3h0.9v0.9h-0.9zM37.3 30.3h0.9v0.9h-0.9zM36.3 21.8h0.9v0.9h-0.9zM56.1 12.3h1v1h-1zM19.8 31.4h0.9v0.9h-0.9zM19.9 33.7h2.1v2.1h-2.1zM32.3 57.0h1v1h-1zM17.1 24.1h1.1v1.1h-1.1zM1.9 10.7h1.1v1.1h-1.1zM59.2 46.6h1.3v1.3h-1.3zM63.6 2.5h1.1v1.1h-1.1zM15.2 19.8h1.3v1.3h-1.3zM31.8 24.6h1.1v1.1h-1.1zM35.1 27.9h1.3v1.3h-1.3zM39.7 38.6h1.1v1.1h-1.1zM34.1 41.8h0.9v0.9h-0.9zM32.0 29.1h1.1v1.1h-1.1zM24.9 34.5h1.3v1.3h-1.3zM26.0 31.2h1.3v1.3h-1.3zM28.4 34.9h1.3v1.3h-1.3zM30.6 40.5h1.3v1.3h-1.3zM32.6 26.7h0.9v0.9h-0.9zM28.6 31.2h1.3v1.3h-1.3zM34.8 29.3h0.9v0.9h-0.9zM30.4 38.2h1.3v1.3h-1.3z"/></g>
<ellipse cx="34.7" cy="34.8" rx="5.75" ry="5.30" fill="url(#sph)" filter="url(#blur1)" opacity="1"/>
<rect x="29.2" y="29.8" width="10.9" height="10.0" filter="url(#tb17)" opacity="0.12" clip-path="url(#cp17)"/>
<rect x="0.4" y="0.4" width="68.80" height="60.50" fill="none" stroke="#6a6a6a" stroke-width="0.9"/>
</g>
<g transform="translate(331.4,456.0)">
<rect width="69.6" height="61.3" fill="url(#bg18)"/>
<rect width="69.6" height="61.3" filter="url(#tb18)" opacity="0.068"/>
<g filter="url(#soft)" fill="#505050"><path fill-opacity="0.22" d="M34.7 33.2h1v1h-1zM24.7 12.4h1v1h-1zM4.6 22.6h1.1v1.1h-1.1zM11.9 54.7h0.9v0.9h-0.9zM14.6 33.6h0.9v0.9h-0.9zM53.1 15.9h1.1v1.1h-1.1zM28.6 57.1h1.3v1.3h-1.3zM21.4 33.8h0.9v0.9h-0.9zM37.6 44.3h1.3v1.3h-1.3zM0.6 55.5h1.1v1.1h-1.1zM40.0 35.2h1.3v1.3h-1.3zM48.9 10.0h1.3v1.3h-1.3zM29.3 35.7h1.1v1.1h-1.1zM28.0 17.5h1.3v1.3h-1.3zM25.8 31.6h1v1h-1zM49.2 21.8h1.3v1.3h-1.3zM8.4 55.0h1.1v1.1h-1.1zM38.2 31.9h1.3v1.3h-1.3zM38.1 33.6h0.9v0.9h-0.9zM38.7 28.5h1.3v1.3h-1.3zM61.3 32.5h0.9v0.9h-0.9zM59.3 30.1h0.9v0.9h-0.9zM45.5 34.6h1.3v1.3h-1.3zM1.4 38.4h1.3v1.3h-1.3zM47.4 35.6h1v1h-1zM41.4 17.7h1v1h-1zM47.1 56.3h1v1h-1zM27.5 34.7h1.1v1.1h-1.1zM25.0 16.6h0.9v0.9h-0.9zM23.0 28.0h0.9v0.9h-0.9zM31.9 32.6h1.1v1.1h-1.1z"/><path fill-opacity="0.34" d="M29.9 15.4h0.9v0.9h-0.9zM56.0 45.1h1v1h-1zM28.7 14.1h1.3v1.3h-1.3zM40.6 39.0h0.9v0.9h-0.9zM47.4 14.7h1.3v1.3h-1.3zM12.2 44.2h1.3v1.3h-1.3zM54.0 34.8h1v1h-1zM44.3 39.1h1.3v1.3h-1.3zM3.8 47.7h1.1v1.1h-1.1zM50.0 52.2h1.1v1.1h-1.1zM49.6 21.2h1v1h-1zM5.0 58.0h1.3v1.3h-1.3zM49.7 52.1h0.9v0.9h-0.9zM45.1 31.3h1v1h-1zM54.5 24.3h1v1h-1zM11.5 44.7h1.1v1.1h-1.1zM55.5 15.7h0.9v0.9h-0.9zM28.5 15.1h0.9v0.9h-0.9zM43.5 25.1h1.3v1.3h-1.3zM49.2 34.9h0.9v0.9h-0.9zM36.6 47.2h1.1v1.1h-1.1zM17.8 7.6h0.9v0.9h-0.9zM31.5 28.6h1.1v1.1h-1.1zM28.3 27.6h1.1v1.1h-1.1zM38.5 26.6h1.1v1.1h-1.1zM29.3 35.1h1.1v1.1h-1.1zM35.3 25.5h1.1v1.1h-1.1zM28.6 32.4h1.3v1.3h-1.3zM37.7 27.8h1.3v1.3h-1.3zM38.3 38.9h1.1v1.1h-1.1zM32.8 28.3h0.9v0.9h-0.9zM40.3 38.6h1.1v1.1h-1.1zM35.8 28.5h0.9v0.9h-0.9zM26.3 29.8h0.9v0.9h-0.9z"/><path fill-opacity="0.46" d="M58.9 23.3h1.1v1.1h-1.1zM44.4 15.2h1.3v1.3h-1.3zM11.4 36.2h1.1v1.1h-1.1zM8.7 25.8h0.9v0.9h-0.9zM48.3 8.1h1v1h-1zM40.4 31.8h0.9v0.9h-0.9zM48.9 45.6h0.9v0.9h-0.9zM21.3 24.5h1.1v1.1h-1.1zM45.2 15.7h1.3v1.3h-1.3zM26.5 19.3h0.9v0.9h-0.9zM66.2 7.0h1.3v1.3h-1.3zM14.4 29.3h0.9v0.9h-0.9zM47.5 35.8h1v1h-1zM34.0 31.2h0.9v0.9h-0.9zM56.3 42.7h1.1v1.1h-1.1zM26.8 51.4h1v1h-1zM16.3 39.5h1.3v1.3h-1.3zM24.1 33.1h0.9v0.9h-0.9zM42.8 24.1h1.1v1.1h-1.1zM49.8 27.2h1.3v1.3h-1.3zM28.9 34.9h1v1h-1zM26.6 19.8h1v1h-1zM40.5 19.3h1.3v1.3h-1.3zM42.5 21.1h0.9v0.9h-0.9zM23.6 16.3h0.9v0.9h-0.9zM29.8 24.8h0.9v0.9h-0.9zM40.2 31.7h1.3v1.3h-1.3zM35.1 27.1h0.9v0.9h-0.9zM32.0 25.8h1.3v1.3h-1.3zM38.9 34.2h1.3v1.3h-1.3zM39.3 33.0h0.9v0.9h-0.9zM39.0 28.1h1.1v1.1h-1.1zM29.0 38.9h1.3v1.3h-1.3zM30.0 40.4h1.1v1.1h-1.1zM36.5 27.7h1.1v1.1h-1.1zM27.0 33.0h1.1v1.1h-1.1zM29.7 26.8h1.3v1.3h-1.3zM26.0 29.8h1.3v1.3h-1.3zM29.2 31.6h0.9v0.9h-0.9zM40.2 28.9h0.9v0.9h-0.9zM28.7 28.3h1.1v1.1h-1.1z"/></g>
<ellipse cx="34.6" cy="33.7" rx="5.40" ry="5.25" fill="url(#sph)" filter="url(#blur1)" opacity="1"/>
<rect x="29.5" y="28.7" width="10.2" height="9.9" filter="url(#tb18)" opacity="0.12" clip-path="url(#cp18)"/>
<rect x="0.4" y="0.4" width="68.80" height="60.50" fill="none" stroke="#6a6a6a" stroke-width="0.9"/>
</g>
<g transform="translate(403.4,456.0)">
<rect width="69.6" height="61.3" fill="url(#bg19)"/>
<rect width="69.6" height="61.3" filter="url(#tb19)" opacity="0.081"/>
<rect width="69.6" height="61.3" fill="#707070" opacity="0.22" mask="url(#mk19)"/>
<rect width="69.6" height="61.3" filter="url(#tb19)" opacity="0.400" mask="url(#mk19)"/>
<g filter="url(#soft)" fill="#505050"><path fill-opacity="0.22" d="M66.2 46.5h1.3v1.3h-1.3zM34.5 36.4h1.1v1.1h-1.1zM50.2 9.3h1v1h-1zM30.8 16.1h0.9v0.9h-0.9zM37.6 27.8h0.9v0.9h-0.9zM27.3 59.0h1.1v1.1h-1.1zM7.1 52.5h0.9v0.9h-0.9zM43.3 34.3h0.9v0.9h-0.9zM56.6 13.7h1v1h-1zM46.6 38.8h1.3v1.3h-1.3zM62.1 20.3h1v1h-1zM13.1 22.7h1.3v1.3h-1.3zM22.9 59.5h1v1h-1zM41.7 39.1h1.1v1.1h-1.1zM12.0 32.2h1.1v1.1h-1.1zM55.5 48.8h1.3v1.3h-1.3zM19.1 31.7h1.3v1.3h-1.3zM45.7 50.7h1.3v1.3h-1.3zM53.4 0.6h0.9v0.9h-0.9zM51.9 34.3h0.9v0.9h-0.9zM40.1 20.9h1.3v1.3h-1.3zM51.5 27.0h1.3v1.3h-1.3zM41.7 16.1h0.9v0.9h-0.9zM47.3 59.4h1v1h-1zM59.0 22.4h1.3v1.3h-1.3zM55.2 20.6h0.9v0.9h-0.9zM23.2 53.2h1.1v1.1h-1.1zM9.8 25.9h1.1v1.1h-1.1zM19.6 34.2h1.3v1.3h-1.3zM17.4 34.2h1.1v1.1h-1.1zM43.6 27.4h0.9v0.9h-0.9zM48.1 30.3h1.3v1.3h-1.3zM24.8 35.3h1v1h-1zM46.3 54.1h1.3v1.3h-1.3zM41.7 31.8h0.9v0.9h-0.9zM42.7 49.9h1.1v1.1h-1.1zM17.6 25.8h1.1v1.1h-1.1zM52.8 33.2h1.1v1.1h-1.1zM50.5 38.0h0.9v0.9h-0.9zM31.9 8.2h0.9v0.9h-0.9zM49.2 28.3h1v1h-1zM65.7 47.0h1v1h-1zM21.2 34.9h1.3v1.3h-1.3zM36.9 36.0h1.1v1.1h-1.1zM44.8 37.9h1v1h-1zM45.7 46.8h1.3v1.3h-1.3zM21.3 34.5h1.3v1.3h-1.3zM59.6 23.3h0.9v0.9h-0.9zM48.0 19.2h1.1v1.1h-1.1zM39.5 21.6h1.1v1.1h-1.1zM66.0 45.1h0.9v0.9h-0.9zM55.6 29.3h1.3v1.3h-1.3zM12.1 32.5h1.3v1.3h-1.3zM37.9 54.5h1.3v1.3h-1.3zM46.4 43.5h1v1h-1zM20.2 52.4h1.3v1.3h-1.3zM48.9 44.1h1.1v1.1h-1.1z"/><path fill-opacity="0.34" d="M62.6 27.0h1.3v1.3h-1.3zM36.5 33.8h1v1h-1zM47.8 22.9h1v1h-1zM20.3 39.2h1v1h-1zM21.6 22.0h1v1h-1zM46.4 46.4h1.1v1.1h-1.1zM53.8 42.5h1.1v1.1h-1.1zM10.2 33.3h0.9v0.9h-0.9zM23.7 53.2h1.3v1.3h-1.3zM65.7 23.5h1.1v1.1h-1.1zM14.5 53.1h1.1v1.1h-1.1zM33.2 33.0h1v1h-1zM36.9 48.8h1.3v1.3h-1.3zM49.5 25.5h1v1h-1zM29.6 15.5h1.3v1.3h-1.3zM37.4 37.5h1v1h-1zM58.7 44.1h1.1v1.1h-1.1zM36.2 53.0h1.1v1.1h-1.1zM15.4 45.6h0.9v0.9h-0.9zM54.1 51.8h1v1h-1zM25.7 17.9h1v1h-1zM49.3 14.9h1v1h-1zM17.5 31.4h1v1h-1zM51.1 24.2h0.9v0.9h-0.9zM49.8 21.5h1.3v1.3h-1.3zM21.1 43.7h1.1v1.1h-1.1zM21.8 33.0h0.9v0.9h-0.9zM29.8 58.7h1v1h-1zM39.4 48.9h1v1h-1zM31.9 31.1h1.1v1.1h-1.1zM10.5 46.0h1.3v1.3h-1.3zM44.2 42.1h1.3v1.3h-1.3zM13.7 52.7h1.1v1.1h-1.1zM42.2 12.2h1.1v1.1h-1.1zM19.7 57.2h1.1v1.1h-1.1zM41.3 51.6h1.3v1.3h-1.3zM28.5 48.4h1v1h-1zM28.2 30.9h1.3v1.3h-1.3zM11.6 25.7h1.3v1.3h-1.3zM60.4 40.0h1.1v1.1h-1.1zM50.6 13.2h0.9v0.9h-0.9zM56.3 36.1h0.9v0.9h-0.9zM21.2 46.4h1.1v1.1h-1.1zM61.9 36.1h1.1v1.1h-1.1zM39.4 36.4h1.1v1.1h-1.1zM25.0 33.3h1.1v1.1h-1.1zM31.5 22.4h1.1v1.1h-1.1zM29.6 41.0h0.9v0.9h-0.9zM41.0 29.6h1.1v1.1h-1.1zM22.2 33.6h0.9v0.9h-0.9zM23.7 29.6h1.1v1.1h-1.1zM36.7 27.8h1.1v1.1h-1.1zM39.4 25.5h1.3v1.3h-1.3zM22.5 34.8h0.9v0.9h-0.9zM23.2 38.4h0.9v0.9h-0.9zM34.5 38.1h1.1v1.1h-1.1zM35.7 25.0h1.3v1.3h-1.3z"/><path fill-opacity="0.46" d="M34.3 22.7h1.1v1.1h-1.1zM27.5 53.0h1v1h-1zM58.9 53.8h1.1v1.1h-1.1zM20.3 36.4h1.1v1.1h-1.1zM63.2 20.0h1.3v1.3h-1.3zM59.5 48.6h1.1v1.1h-1.1zM34.4 44.2h1.1v1.1h-1.1zM14.7 35.0h1.1v1.1h-1.1zM64.3 59.5h1v1h-1zM50.5 52.5h1v1h-1zM37.5 24.4h1v1h-1zM17.3 50.9h0.9v0.9h-0.9zM36.4 48.4h1.3v1.3h-1.3zM27.2 36.3h0.9v0.9h-0.9zM57.8 46.9h0.9v0.9h-0.9zM32.1 51.1h1v1h-1zM40.7 49.5h1.1v1.1h-1.1zM27.6 50.4h1.3v1.3h-1.3zM61.8 39.4h1.3v1.3h-1.3zM42.3 49.9h1v1h-1zM7.1 36.5h1.3v1.3h-1.3zM3.9 9.1h0.9v0.9h-0.9zM46.3 42.7h1.3v1.3h-1.3zM23.2 33.0h1.1v1.1h-1.1zM26.0 19.6h1.3v1.3h-1.3zM14.1 22.2h0.9v0.9h-0.9zM30.0 15.2h1.3v1.3h-1.3zM45.3 29.5h0.9v0.9h-0.9zM58.5 57.8h0.9v0.9h-0.9zM14.6 27.8h1.1v1.1h-1.1zM64.6 40.7h0.9v0.9h-0.9zM8.4 48.6h1.3v1.3h-1.3zM24.0 45.4h1.3v1.3h-1.3zM52.7 33.3h0.9v0.9h-0.9zM59.4 31.8h1v1h-1zM13.1 29.8h0.9v0.9h-0.9zM21.3 55.5h1v1h-1zM27.5 34.8h1.3v1.3h-1.3zM26.2 56.6h1.1v1.1h-1.1zM38.3 19.3h1.3v1.3h-1.3zM36.0 40.8h1v1h-1zM12.5 15.7h1v1h-1zM58.4 50.7h1.1v1.1h-1.1zM33.2 24.3h1v1h-1zM60.3 42.3h1v1h-1zM21.0 38.8h1.1v1.1h-1.1zM11.6 25.2h1v1h-1zM49.5 54.3h0.9v0.9h-0.9zM67.0 27.8h1.3v1.3h-1.3zM51.7 30.1h1.3v1.3h-1.3zM40.3 38.8h1v1h-1zM32.0 25.1h1v1h-1zM34.9 30.7h0.9v0.9h-0.9zM28.6 58.5h1.1v1.1h-1.1zM25.1 45.2h1.3v1.3h-1.3zM45.1 28.6h1v1h-1zM65.9 27.8h0.9v0.9h-0.9zM51.3 10.6h0.9v0.9h-0.9zM59.3 17.7h1.1v1.1h-1.1zM35.5 25.8h1.1v1.1h-1.1zM30.6 38.5h1.1v1.1h-1.1zM26.1 23.8h1.1v1.1h-1.1zM37.4 29.2h1.1v1.1h-1.1zM28.8 37.7h1.1v1.1h-1.1zM36.6 39.5h1.3v1.3h-1.3zM28.8 40.5h0.9v0.9h-0.9zM23.0 30.7h0.9v0.9h-0.9zM24.7 34.3h1.3v1.3h-1.3zM38.0 36.4h1.1v1.1h-1.1zM41.4 33.7h1.1v1.1h-1.1zM33.5 39.9h0.9v0.9h-0.9zM29.8 23.6h1.3v1.3h-1.3zM39.1 35.2h0.9v0.9h-0.9zM40.2 35.3h1.3v1.3h-1.3zM27.5 26.8h0.9v0.9h-0.9z"/></g>
<ellipse cx="31.8" cy="32.5" rx="6.55" ry="6.30" fill="url(#sph)" filter="url(#blur1)" opacity="1"/>
<rect x="25.6" y="26.5" width="12.5" height="12.0" filter="url(#tb19)" opacity="0.12" clip-path="url(#cp19)"/>
<rect x="0.4" y="0.4" width="68.80" height="60.50" fill="none" stroke="#6a6a6a" stroke-width="0.9"/>
</g>
<g transform="translate(475.5,456.0)">
<rect width="69.6" height="61.3" fill="url(#bg20)"/>
<rect width="69.6" height="61.3" filter="url(#tb20)" opacity="0.090"/>
<rect width="69.6" height="61.3" filter="url(#tb20)" opacity="0.150" mask="url(#mk20)"/>
<g filter="url(#soft)" fill="#505050"><path fill-opacity="0.22" d="M63.6 36.5h1.3v1.3h-1.3zM56.3 25.4h1.3v1.3h-1.3zM49.4 35.7h1.1v1.1h-1.1zM3.0 18.1h1.1v1.1h-1.1zM34.7 51.7h0.9v0.9h-0.9zM47.0 32.2h1.3v1.3h-1.3zM27.1 48.1h1v1h-1zM56.9 50.7h1v1h-1zM33.4 58.3h1.3v1.3h-1.3zM43.2 12.0h1.3v1.3h-1.3zM31.1 33.3h1v1h-1zM55.1 33.1h0.9v0.9h-0.9zM46.3 9.6h0.9v0.9h-0.9zM50.9 42.9h1.3v1.3h-1.3zM32.9 39.3h1v1h-1zM34.9 23.2h0.9v0.9h-0.9zM21.0 46.1h1.3v1.3h-1.3zM32.3 24.7h1.1v1.1h-1.1zM38.2 57.0h0.9v0.9h-0.9zM61.7 54.2h1.3v1.3h-1.3zM48.4 55.9h1v1h-1zM45.9 7.1h1.1v1.1h-1.1zM42.1 29.2h1v1h-1zM67.9 27.2h1v1h-1zM8.5 26.0h1.1v1.1h-1.1zM26.1 13.1h1.3v1.3h-1.3zM59.6 52.2h1v1h-1zM65.8 24.4h1.1v1.1h-1.1zM44.2 51.5h0.9v0.9h-0.9zM66.5 15.4h1v1h-1zM43.3 56.5h1.3v1.3h-1.3zM40.5 35.0h2.1v2.1h-2.1zM18.2 52.0h1v1h-1zM64.5 40.7h0.9v0.9h-0.9zM14.5 30.9h1.1v1.1h-1.1zM8.2 47.9h1.3v1.3h-1.3zM62.8 48.1h1.1v1.1h-1.1zM22.8 48.3h0.9v0.9h-0.9zM10.0 22.8h0.9v0.9h-0.9zM47.3 6.5h0.9v0.9h-0.9zM39.6 41.3h1.1v1.1h-1.1zM2.3 44.1h1.1v1.1h-1.1zM61.1 22.3h1.1v1.1h-1.1zM51.8 54.7h1v1h-1zM29.2 48.0h1.1v1.1h-1.1zM42.6 50.4h1.3v1.3h-1.3zM20.6 38.3h0.9v0.9h-0.9zM35.5 34.4h1.3v1.3h-1.3zM54.0 34.8h1.3v1.3h-1.3zM65.7 28.9h0.9v0.9h-0.9zM45.6 32.7h1.1v1.1h-1.1z"/><path fill-opacity="0.34" d="M12.7 48.5h1.1v1.1h-1.1zM66.1 40.1h1.3v1.3h-1.3zM38.7 48.9h0.9v0.9h-0.9zM65.5 36.1h1.1v1.1h-1.1zM61.8 34.3h1v1h-1zM67.2 41.2h1.1v1.1h-1.1zM2.5 12.2h1v1h-1zM27.1 30.0h1.3v1.3h-1.3zM50.3 10.5h1.3v1.3h-1.3zM31.0 59.4h1v1h-1zM25.6 17.0h0.9v0.9h-0.9zM26.5 13.6h1v1h-1zM24.2 23.9h1.3v1.3h-1.3zM5.7 31.4h1.3v1.3h-1.3zM19.1 10.7h0.9v0.9h-0.9zM39.3 55.1h1.1v1.1h-1.1zM59.5 38.1h0.9v0.9h-0.9zM44.3 23.5h1.1v1.1h-1.1zM40.1 5.8h0.9v0.9h-0.9zM15.5 16.6h0.9v0.9h-0.9zM22.1 41.7h1v1h-1zM49.6 21.2h1.3v1.3h-1.3zM23.1 28.6h2.4v2.4h-2.4zM2.5 39.0h1v1h-1zM1.4 28.3h1.3v1.3h-1.3zM55.2 53.6h1.3v1.3h-1.3zM16.3 11.9h1.1v1.1h-1.1zM21.1 18.2h0.9v0.9h-0.9zM22.5 40.2h1.1v1.1h-1.1zM33.6 57.2h1.1v1.1h-1.1zM25.3 49.1h1.1v1.1h-1.1zM53.8 57.4h0.9v0.9h-0.9zM27.0 51.7h1v1h-1zM55.3 8.0h1.1v1.1h-1.1zM49.5 53.0h0.9v0.9h-0.9zM43.6 42.6h2.1v2.1h-2.1zM61.3 48.1h1.1v1.1h-1.1zM65.7 58.2h1.1v1.1h-1.1zM53.1 35.2h1v1h-1zM65.6 44.7h1v1h-1zM43.1 52.0h1.3v1.3h-1.3zM54.2 48.3h1.3v1.3h-1.3zM13.7 35.5h1v1h-1zM20.2 6.9h1v1h-1zM5.2 31.6h1.3v1.3h-1.3zM6.3 9.4h0.9v0.9h-0.9zM5.1 43.9h1.3v1.3h-1.3zM49.6 28.1h0.9v0.9h-0.9zM60.5 32.2h2.4v2.4h-2.4zM58.2 46.7h0.9v0.9h-0.9zM63.7 45.2h1.3v1.3h-1.3zM21.2 54.0h1v1h-1zM58.1 37.1h1v1h-1zM35.2 53.1h1v1h-1zM55.7 39.7h1v1h-1zM44.7 48.5h1.3v1.3h-1.3zM48.5 59.8h1.3v1.3h-1.3zM59.0 28.0h0.9v0.9h-0.9zM26.1 36.0h0.9v0.9h-0.9zM35.2 32.2h1.1v1.1h-1.1zM32.6 35.7h0.9v0.9h-0.9zM28.5 36.5h1.1v1.1h-1.1zM30.2 27.8h0.9v0.9h-0.9zM33.7 31.2h1.3v1.3h-1.3zM27.2 28.0h1.3v1.3h-1.3zM33.4 30.9h1.1v1.1h-1.1zM29.2 37.1h0.9v0.9h-0.9z"/><path fill-opacity="0.46" d="M56.9 39.4h1v1h-1zM13.2 27.7h1.1v1.1h-1.1zM44.0 50.8h0.9v0.9h-0.9zM53.8 49.6h1.3v1.3h-1.3zM58.5 52.0h1.1v1.1h-1.1zM0.8 16.5h0.9v0.9h-0.9zM30.2 32.9h1.3v1.3h-1.3zM57.9 14.0h0.9v0.9h-0.9zM40.9 17.5h1.1v1.1h-1.1zM11.5 15.4h1v1h-1zM57.4 33.0h1.1v1.1h-1.1zM58.2 37.5h1v1h-1zM35.2 40.4h1.3v1.3h-1.3zM64.0 56.1h1.1v1.1h-1.1zM51.4 51.3h1.3v1.3h-1.3zM46.4 26.7h1v1h-1zM26.7 23.3h1v1h-1zM32.3 14.0h1.1v1.1h-1.1zM51.7 54.6h1.3v1.3h-1.3zM51.0 48.3h0.9v0.9h-0.9zM39.7 24.5h1v1h-1zM8.4 26.5h0.9v0.9h-0.9zM31.4 59.2h1.1v1.1h-1.1zM41.9 59.9h1v1h-1zM61.1 32.9h2.4v2.4h-2.4zM38.7 28.6h0.9v0.9h-0.9zM57.9 51.0h0.9v0.9h-0.9zM14.4 10.2h1.3v1.3h-1.3zM40.7 39.3h1.3v1.3h-1.3zM23.5 43.0h1.1v1.1h-1.1zM48.6 44.7h1.1v1.1h-1.1zM52.0 31.2h1.1v1.1h-1.1zM66.1 36.0h1v1h-1zM4.2 24.0h1v1h-1zM27.9 25.0h1.1v1.1h-1.1zM67.1 50.4h1.1v1.1h-1.1zM39.8 28.7h1v1h-1zM23.8 31.4h1.1v1.1h-1.1zM60.7 58.3h1.3v1.3h-1.3zM54.2 59.0h2.1v2.1h-2.1zM53.6 41.1h1v1h-1zM28.0 35.6h1.1v1.1h-1.1zM32.0 26.0h1.3v1.3h-1.3zM31.2 35.1h1.3v1.3h-1.3zM23.8 34.1h1.3v1.3h-1.3zM26.0 36.8h1.1v1.1h-1.1zM32.4 28.0h1.3v1.3h-1.3zM34.4 32.8h1.1v1.1h-1.1zM33.6 34.3h1.3v1.3h-1.3zM25.7 33.4h1.1v1.1h-1.1zM33.7 29.3h1.1v1.1h-1.1zM24.7 27.5h1.1v1.1h-1.1zM27.1 35.1h1.1v1.1h-1.1zM27.0 37.2h0.9v0.9h-0.9zM26.1 35.0h0.9v0.9h-0.9z"/></g>
<ellipse cx="29.8" cy="32.0" rx="4.20" ry="4.00" fill="url(#sph)" filter="url(#blur1)" opacity="1"/>
<rect x="25.9" y="28.3" width="7.8" height="7.4" filter="url(#tb20)" opacity="0.12" clip-path="url(#cp20)"/>
<rect x="0.4" y="0.4" width="68.80" height="60.50" fill="none" stroke="#6a6a6a" stroke-width="0.9"/>
</g>
<circle cx="313.2" cy="416.2" r="2.0" fill="#5a5a5a" fill-opacity="0.75" filter="url(#soft)"/>
<circle cx="285.5" cy="402.4" r="1.5" fill="#5a5a5a" fill-opacity="0.75" filter="url(#soft)"/>
<circle cx="300.5" cy="407.0" r="1.4" fill="#5a5a5a" fill-opacity="0.75" filter="url(#soft)"/>
<circle cx="301.6" cy="353.9" r="1.7" fill="#5a5a5a" fill-opacity="0.75" filter="url(#soft)"/>
<circle cx="305.0" cy="362.0" r="1.3" fill="#5a5a5a" fill-opacity="0.75" filter="url(#soft)"/>
<circle cx="237.0" cy="379.3" r="1.8" fill="#5a5a5a" fill-opacity="0.75" filter="url(#soft)"/>
<circle cx="195.4" cy="367.7" r="1.4" fill="#5a5a5a" fill-opacity="0.75" filter="url(#soft)"/>
<circle cx="82.7" cy="379.3" r="1.3" fill="#5a5a5a" fill-opacity="0.75" filter="url(#soft)"/>
<circle cx="149.0" cy="366.5" r="1.6" fill="#5a5a5a" fill-opacity="0.75" filter="url(#soft)"/>
<circle cx="371.0" cy="491.5" r="1.3" fill="#5a5a5a" fill-opacity="0.75" filter="url(#soft)"/>
<circle cx="437.5" cy="497.5" r="1.4" fill="#5a5a5a" fill-opacity="0.75" filter="url(#soft)"/>
<circle cx="513.5" cy="458.6" r="1.0" fill="#5a5a5a" fill-opacity="0.75" filter="url(#soft)"/>
<path d="M412.5,456.5 Q413,468 426,474" fill="none" stroke="#8a8a8a" stroke-width="0.8"/>
<line x1="47.70" y1="381.60" x2="62.70" y2="381.60" stroke="#000" stroke-width="1.9" />
<text x="567.50" y="309.70" font-size="20.7" font-weight="bold" text-anchor="start" fill="#000" >D</text>
<text x="709.00" y="336.90" font-size="11.75" font-weight="bold" text-anchor="middle" fill="#111" >M121224 - 9 hours</text>
<line x1="609.00" y1="341.30" x2="609.00" y2="477.40" stroke="#333" stroke-width="1.1" />
<line x1="609.00" y1="477.00" x2="787.00" y2="477.00" stroke="#333" stroke-width="1.3" />
<line x1="606.00" y1="477.00" x2="609.00" y2="477.00" stroke="#444" stroke-width="0.9" />
<text x="605.60" y="479.40" font-size="7.0" font-weight="normal" text-anchor="end" fill="#222" >0</text>
<line x1="606.00" y1="420.35" x2="609.00" y2="420.35" stroke="#444" stroke-width="0.9" />
<text x="605.60" y="423.25" font-size="7.0" font-weight="normal" text-anchor="end" fill="#222" >5 × 10<tspan font-size="5.2" dy="-2.4">7</tspan></text>
<line x1="606.00" y1="363.70" x2="609.00" y2="363.70" stroke="#444" stroke-width="0.9" />
<text x="605.60" y="366.60" font-size="7.0" font-weight="normal" text-anchor="end" fill="#222" >1 × 10<tspan font-size="5.2" dy="-2.4">8</tspan></text>
<text transform="translate(577.20,409.20) rotate(-90)" font-size="11.4" font-weight="bold" text-anchor="middle" fill="#000" >Spheroids area (pixels)</text>
<rect x="617.60" y="372.90" width="16.00" height="104.10" fill="#000" stroke="none" stroke-width="0" />
<line x1="625.60" y1="477.00" x2="625.60" y2="481.00" stroke="#333" stroke-width="0.9" />
<text transform="translate(630.20,488.20) rotate(-45)" font-size="10.2" font-weight="normal" text-anchor="end" fill="#111" >DMSO</text>
<line x1="649.90" y1="386.30" x2="649.90" y2="395.70" stroke="#555" stroke-width="1.1" />
<line x1="645.90" y1="386.30" x2="653.90" y2="386.30" stroke="#000" stroke-width="1.1" />
<rect x="641.90" y="395.70" width="16.00" height="81.30" fill="#000" stroke="none" stroke-width="0" />
<line x1="649.90" y1="477.00" x2="649.90" y2="481.00" stroke="#333" stroke-width="0.9" />
<text transform="translate(654.50,488.20) rotate(-45)" font-size="10.2" font-weight="normal" text-anchor="end" fill="#111" >Cntr</text>
<line x1="674.40" y1="389.60" x2="674.40" y2="394.90" stroke="#555" stroke-width="1.1" />
<line x1="670.40" y1="389.60" x2="678.40" y2="389.60" stroke="#000" stroke-width="1.1" />
<rect x="666.40" y="394.90" width="16.00" height="82.10" fill="#000" stroke="none" stroke-width="0" />
<line x1="674.40" y1="477.00" x2="674.40" y2="481.00" stroke="#333" stroke-width="0.9" />
<text transform="translate(679.00,488.20) rotate(-45)" font-size="10.2" font-weight="normal" text-anchor="end" fill="#111" >CISP</text>
<line x1="698.90" y1="382.40" x2="698.90" y2="390.80" stroke="#555" stroke-width="1.1" />
<line x1="694.90" y1="382.40" x2="702.90" y2="382.40" stroke="#000" stroke-width="1.1" />
<rect x="690.90" y="390.80" width="16.00" height="86.20" fill="#000" stroke="none" stroke-width="0" />
<line x1="698.90" y1="477.00" x2="698.90" y2="481.00" stroke="#333" stroke-width="0.9" />
<text transform="translate(703.50,488.20) rotate(-45)" font-size="10.2" font-weight="normal" text-anchor="end" fill="#111" >BRAFi</text>
<line x1="723.40" y1="378.60" x2="723.40" y2="382.40" stroke="#555" stroke-width="1.1" />
<line x1="719.40" y1="378.60" x2="727.40" y2="378.60" stroke="#000" stroke-width="1.1" />
<rect x="715.40" y="382.40" width="16.00" height="94.60" fill="#000" stroke="none" stroke-width="0" />
<line x1="723.40" y1="477.00" x2="723.40" y2="481.00" stroke="#333" stroke-width="0.9" />
<text transform="translate(728.00,488.20) rotate(-45)" font-size="10.2" font-weight="normal" text-anchor="end" fill="#111" >MEKi</text>
<line x1="747.90" y1="396.70" x2="747.90" y2="399.00" stroke="#555" stroke-width="1.1" />
<line x1="743.90" y1="396.70" x2="751.90" y2="396.70" stroke="#000" stroke-width="1.1" />
<rect x="739.90" y="399.00" width="16.00" height="78.00" fill="#000" stroke="none" stroke-width="0" />
<line x1="747.90" y1="477.00" x2="747.90" y2="481.00" stroke="#333" stroke-width="0.9" />
<text transform="translate(752.50,488.20) rotate(-45)" font-size="10.2" font-weight="normal" text-anchor="end" fill="#111" >Aβ(25-35)</text>
<line x1="772.30" y1="426.80" x2="772.30" y2="431.10" stroke="#555" stroke-width="1.1" />
<line x1="768.30" y1="426.80" x2="776.30" y2="426.80" stroke="#000" stroke-width="1.1" />
<rect x="764.30" y="431.10" width="16.00" height="45.90" fill="#000" stroke="none" stroke-width="0" />
<line x1="772.30" y1="477.00" x2="772.30" y2="481.00" stroke="#333" stroke-width="0.9" />
<text transform="translate(776.90,488.20) rotate(-45)" font-size="10.2" font-weight="normal" text-anchor="end" fill="#111" >Aβ(25-35) + CISP</text>
<polyline points="650.80,359.60 650.80,357.40 772.50,357.40 772.50,359.60" fill="none" stroke="#000" stroke-width="1.1" stroke-linejoin="miter" stroke-linecap="butt"/>
<path d="M693.42,351.67 L693.96,352.84 L695.24,352.99 L694.29,353.87 L694.54,355.13 L693.42,354.50 L692.29,355.13 L692.54,353.87 L691.60,352.99 L692.88,352.84Z" fill="#222"/>
<path d="M697.21,351.67 L697.75,352.84 L699.03,352.99 L698.08,353.87 L698.33,355.13 L697.21,354.50 L696.08,355.13 L696.33,353.87 L695.39,352.99 L696.67,352.84Z" fill="#222"/>
<path d="M700.99,351.67 L701.53,352.84 L702.81,352.99 L701.87,353.87 L702.12,355.13 L700.99,354.50 L699.87,355.13 L700.12,353.87 L699.17,352.99 L700.45,352.84Z" fill="#222"/>
<path d="M704.78,351.67 L705.32,352.84 L706.60,352.99 L705.66,353.87 L705.91,355.13 L704.78,354.50 L703.66,355.13 L703.91,353.87 L702.96,352.99 L704.24,352.84Z" fill="#222"/>
<polyline points="700.30,367.60 700.30,365.50 774.00,365.50 774.00,367.60" fill="none" stroke="#000" stroke-width="1.1" stroke-linejoin="miter" stroke-linecap="butt"/>
<path d="M728.04,360.75 L728.59,361.93 L729.89,362.09 L728.93,362.97 L729.18,364.25 L728.04,363.62 L726.90,364.25 L727.16,362.97 L726.20,362.09 L727.50,361.93Z" fill="#222"/>
<path d="M731.88,360.75 L732.43,361.93 L733.73,362.09 L732.77,362.97 L733.02,364.25 L731.88,363.62 L730.74,364.25 L731.00,362.97 L730.04,362.09 L731.33,361.93Z" fill="#222"/>
<path d="M735.72,360.75 L736.27,361.93 L737.56,362.09 L736.60,362.97 L736.86,364.25 L735.72,363.62 L734.58,364.25 L734.83,362.97 L733.87,362.09 L735.17,361.93Z" fill="#222"/>
<path d="M739.56,360.75 L740.10,361.93 L741.40,362.09 L740.44,362.97 L740.70,364.25 L739.56,363.62 L738.42,364.25 L738.67,362.97 L737.71,362.09 L739.01,361.93Z" fill="#222"/>
<polyline points="724.30,376.90 724.30,374.80 774.00,374.80 774.00,376.90" fill="none" stroke="#000" stroke-width="1.1" stroke-linejoin="miter" stroke-linecap="butt"/>
<path d="M751.69,369.69 L752.23,370.85 L753.49,371.00 L752.56,371.86 L752.80,373.11 L751.69,372.49 L750.58,373.11 L750.83,371.86 L749.90,371.00 L751.16,370.85Z" fill="#222"/>
<path d="M755.43,369.69 L755.96,370.85 L757.23,371.00 L756.29,371.86 L756.54,373.11 L755.43,372.49 L754.32,373.11 L754.57,371.86 L753.64,371.00 L754.90,370.85Z" fill="#222"/>
<path d="M759.17,369.69 L759.70,370.85 L760.96,371.00 L760.03,371.86 L760.28,373.11 L759.17,372.49 L758.06,373.11 L758.31,371.86 L757.37,371.00 L758.64,370.85Z" fill="#222"/>
<path d="M762.91,369.69 L763.44,370.85 L764.70,371.00 L763.77,371.86 L764.02,373.11 L762.91,372.49 L761.80,373.11 L762.04,371.86 L761.11,371.00 L762.37,370.85Z" fill="#222"/>
<polyline points="748.20,394.00 748.20,391.90 772.50,391.90 772.50,394.00" fill="none" stroke="#000" stroke-width="1.1" stroke-linejoin="miter" stroke-linecap="butt"/>
<path d="M757.39,386.29 L757.93,387.45 L759.19,387.60 L758.26,388.46 L758.50,389.71 L757.39,389.09 L756.28,389.71 L756.53,388.46 L755.60,387.60 L756.86,387.45Z" fill="#222"/>
<path d="M761.13,386.29 L761.66,387.45 L762.93,387.60 L761.99,388.46 L762.24,389.71 L761.13,389.09 L760.02,389.71 L760.27,388.46 L759.34,387.60 L760.60,387.45Z" fill="#222"/>
<path d="M764.87,386.29 L765.40,387.45 L766.66,387.60 L765.73,388.46 L765.98,389.71 L764.87,389.09 L763.76,389.71 L764.01,388.46 L763.07,387.60 L764.34,387.45Z" fill="#222"/>
<path d="M768.61,386.29 L769.14,387.45 L770.40,387.60 L769.47,388.46 L769.72,389.71 L768.61,389.09 L767.50,389.71 L767.74,388.46 L766.81,387.60 L768.07,387.45Z" fill="#222"/>
<text x="-0.20" y="563.80" font-size="20.7" font-weight="bold" text-anchor="start" fill="#000" >E</text>
<text x="137.80" y="591.30" font-size="15.1" font-weight="bold" text-anchor="middle" fill="#111" >M121224</text>
<line x1="67.80" y1="596.60" x2="67.80" y2="754.40" stroke="#000" stroke-width="1.5" />
<line x1="62.30" y1="753.70" x2="67.80" y2="753.70" stroke="#000" stroke-width="1.4" />
<text x="59.60" y="758.30" font-size="11.4" font-weight="bold" text-anchor="end" fill="#000" >0</text>
<line x1="62.30" y1="701.45" x2="67.80" y2="701.45" stroke="#000" stroke-width="1.4" />
<text x="59.60" y="706.05" font-size="11.4" font-weight="bold" text-anchor="end" fill="#000" >1,000</text>
<line x1="62.30" y1="649.20" x2="67.80" y2="649.20" stroke="#000" stroke-width="1.4" />
<text x="59.60" y="653.80" font-size="11.4" font-weight="bold" text-anchor="end" fill="#000" >2,000</text>
<line x1="62.30" y1="596.95" x2="67.80" y2="596.95" stroke="#000" stroke-width="1.4" />
<text x="59.60" y="601.55" font-size="11.4" font-weight="bold" text-anchor="end" fill="#000" >3,000</text>
<line x1="62.30" y1="753.80" x2="212.80" y2="753.80" stroke="#000" stroke-width="1.5" />
<text transform="translate(19.90,673.60) rotate(-90)" font-size="14.3" font-weight="bold" text-anchor="middle" fill="#000" xml:space="preserve">MFI  (caspase-3/7)</text>
<rect x="74.10" y="733.32" width="13.60" height="20.38" fill="#000" stroke="none" stroke-width="0" />
<line x1="80.90" y1="753.80" x2="80.90" y2="759.00" stroke="#000" stroke-width="1.4" />
<line x1="101.90" y1="707.72" x2="101.90" y2="712.95" stroke="#222" stroke-width="1.3" />
<line x1="98.40" y1="707.72" x2="105.40" y2="707.72" stroke="#222" stroke-width="1.3" />
<rect x="95.10" y="712.95" width="13.60" height="40.75" fill="#000" stroke="none" stroke-width="0" />
<line x1="101.90" y1="753.80" x2="101.90" y2="759.00" stroke="#000" stroke-width="1.4" />
<line x1="122.60" y1="701.19" x2="122.60" y2="703.80" stroke="#222" stroke-width="1.3" />
<line x1="119.10" y1="701.19" x2="126.10" y2="701.19" stroke="#222" stroke-width="1.3" />
<rect x="115.80" y="703.80" width="13.60" height="49.90" fill="#000" stroke="none" stroke-width="0" />
<line x1="122.60" y1="753.80" x2="122.60" y2="759.00" stroke="#000" stroke-width="1.4" />
<rect x="151.10" y="689.72" width="12.20" height="63.98" fill="#a0a0a0" stroke="#111" stroke-width="1.3" />
<line x1="157.20" y1="753.80" x2="157.20" y2="759.00" stroke="#000" stroke-width="1.4" />
<line x1="178.10" y1="671.15" x2="178.10" y2="678.98" stroke="#222" stroke-width="1.3" />
<line x1="174.60" y1="671.15" x2="181.60" y2="671.15" stroke="#222" stroke-width="1.3" />
<rect x="172.00" y="679.58" width="12.20" height="74.12" fill="#a0a0a0" stroke="#111" stroke-width="1.3" />
<line x1="178.10" y1="753.80" x2="178.10" y2="759.00" stroke="#000" stroke-width="1.4" />
<line x1="199.00" y1="617.85" x2="199.00" y2="622.81" stroke="#222" stroke-width="1.3" />
<line x1="195.50" y1="617.85" x2="202.50" y2="617.85" stroke="#222" stroke-width="1.3" />
<rect x="192.90" y="623.41" width="12.20" height="130.29" fill="#a0a0a0" stroke="#111" stroke-width="1.3" />
<line x1="199.00" y1="753.80" x2="199.00" y2="759.00" stroke="#000" stroke-width="1.4" />
<text transform="translate(86.30,768.80) rotate(-45)" font-size="14.0" font-weight="normal" text-anchor="end" fill="#111" >24 hours</text>
<text transform="translate(107.30,768.80) rotate(-45)" font-size="14.0" font-weight="normal" text-anchor="end" fill="#111" >48 hours</text>
<text transform="translate(128.00,768.80) rotate(-45)" font-size="14.0" font-weight="normal" text-anchor="end" fill="#111" >96 hours</text>
<text transform="translate(162.60,768.80) rotate(-45)" font-size="14.0" font-weight="normal" text-anchor="end" fill="#111" >24 hours</text>
<text transform="translate(183.50,768.80) rotate(-45)" font-size="14.0" font-weight="normal" text-anchor="end" fill="#111" >48 hours</text>
<text transform="translate(204.40,768.80) rotate(-45)" font-size="14.0" font-weight="normal" text-anchor="end" fill="#111" >96 hours</text>
<text x="157.55" y="684.80" font-size="16" font-weight="normal" text-anchor="middle" fill="#111" >*</text>
<text x="175.12" y="664.70" font-size="16" font-weight="normal" text-anchor="middle" fill="#111" >*</text>
<text x="182.27" y="664.70" font-size="16" font-weight="normal" text-anchor="middle" fill="#111" >*</text>
<text x="196.85" y="614.50" font-size="16" font-weight="normal" text-anchor="middle" fill="#111" >*</text>
<text x="204.00" y="614.50" font-size="16" font-weight="normal" text-anchor="middle" fill="#111" >*</text>
<text x="211.15" y="614.50" font-size="16" font-weight="normal" text-anchor="middle" fill="#111" >*</text>
<rect x="60.90" y="823.50" width="8.30" height="8.30" fill="#000" stroke="none" stroke-width="0" />
<text x="81.60" y="831.60" font-size="12" font-weight="normal" text-anchor="start" fill="#111" >Cntr</text>
<rect x="113.90" y="823.90" width="7.60" height="7.60" fill="#9b9b9b" stroke="#111" stroke-width="0.9" />
<text x="133.20" y="831.60" font-size="12" font-weight="normal" text-anchor="start" fill="#111" >Aβ(25-35)</text>
<text x="244.50" y="563.80" font-size="20.5" font-weight="bold" text-anchor="start" fill="#000" >F</text>
<line x1="289.00" y1="612.60" x2="289.00" y2="758.80" stroke="#222" stroke-width="1.3" />
<line x1="289.00" y1="758.10" x2="426.50" y2="758.10" stroke="#222" stroke-width="1.3" />
<line x1="284.50" y1="758.10" x2="289.00" y2="758.10" stroke="#222" stroke-width="1.2" />
<text x="282.80" y="762.50" font-size="12" font-weight="normal" text-anchor="end" fill="#1a1a1a" >0</text>
<line x1="284.50" y1="729.14" x2="289.00" y2="729.14" stroke="#222" stroke-width="1.2" />
<text x="282.80" y="733.54" font-size="12" font-weight="normal" text-anchor="end" fill="#1a1a1a" >20</text>
<line x1="284.50" y1="700.18" x2="289.00" y2="700.18" stroke="#222" stroke-width="1.2" />
<text x="282.80" y="704.58" font-size="12" font-weight="normal" text-anchor="end" fill="#1a1a1a" >40</text>
<line x1="284.50" y1="671.22" x2="289.00" y2="671.22" stroke="#222" stroke-width="1.2" />
<text x="282.80" y="675.62" font-size="12" font-weight="normal" text-anchor="end" fill="#1a1a1a" >60</text>
<line x1="284.50" y1="642.26" x2="289.00" y2="642.26" stroke="#222" stroke-width="1.2" />
<text x="282.80" y="646.66" font-size="12" font-weight="normal" text-anchor="end" fill="#1a1a1a" >80</text>
<line x1="284.50" y1="613.30" x2="289.00" y2="613.30" stroke="#222" stroke-width="1.2" />
<text x="282.80" y="617.70" font-size="12" font-weight="normal" text-anchor="end" fill="#1a1a1a" >100</text>
<text transform="translate(260.00,683.50) rotate(-90)" font-size="13.3" font-weight="bold" text-anchor="middle" fill="#000" >% Cell death</text>
<text x="355.7" y="576.8" font-size="12.8" font-weight="bold" text-anchor="middle" fill="#111" word-spacing="0.6">CISP (<tspan font-style="italic">n</tspan> = 8)</text>
<path d="M301.90,743.40 L302.01,743.86 L302.20,744.50 L302.40,745.26 L302.57,746.06 L302.65,746.83 L302.60,747.50 L302.39,748.06 L302.05,748.57 L301.63,749.05 L301.16,749.52 L300.67,750.00 L300.20,750.50 L299.69,751.03 L299.10,751.57 L298.49,752.13 L297.93,752.68 L297.48,753.24 L297.20,753.80 L297.15,754.40 L297.27,755.05 L297.51,755.71 L297.79,756.31 L298.04,756.83 L298.20,757.20 L312.20,757.20 L312.36,756.83 L312.61,756.31 L312.89,755.71 L313.13,755.05 L313.25,754.40 L313.20,753.80 L312.92,753.24 L312.47,752.68 L311.91,752.13 L311.30,751.57 L310.71,751.03 L310.20,750.50 L309.73,750.00 L309.24,749.52 L308.77,749.05 L308.35,748.57 L308.01,748.06 L307.80,747.50 L307.75,746.83 L307.83,746.06 L308.00,745.26 L308.20,744.50 L308.39,743.86 L308.50,743.40 Z" fill="#fff" stroke="#000" stroke-width="1.25" stroke-linejoin="round"/>
<line x1="303.10" y1="748.50" x2="307.30" y2="748.50" stroke="#aaa" stroke-width="0.8" stroke-dasharray="1.6,1.2"/>
<line x1="298.51" y1="753.20" x2="311.89" y2="753.20" stroke="#555" stroke-width="0.8" stroke-dasharray="1.6,1.2"/>
<line x1="298.74" y1="756.20" x2="311.66" y2="756.20" stroke="#aaa" stroke-width="0.8" stroke-dasharray="1.6,1.2"/>
<path d="M327.20,746.80 L327.19,747.10 L327.20,747.51 L327.20,748.01 L327.16,748.53 L327.03,749.04 L326.80,749.50 L326.39,749.90 L325.83,750.28 L325.19,750.65 L324.55,751.02 L323.99,751.40 L323.60,751.80 L323.38,752.23 L323.27,752.67 L323.24,753.12 L323.27,753.59 L323.33,754.05 L323.40,754.50 L323.51,754.98 L323.68,755.50 L323.89,756.02 L324.10,756.50 L324.28,756.91 L324.40,757.20 L338.40,757.20 L338.52,756.91 L338.70,756.50 L338.91,756.02 L339.12,755.50 L339.29,754.98 L339.40,754.50 L339.47,754.05 L339.53,753.59 L339.56,753.12 L339.53,752.67 L339.42,752.23 L339.20,751.80 L338.81,751.40 L338.25,751.02 L337.61,750.65 L336.97,750.28 L336.41,749.90 L336.00,749.50 L335.77,749.04 L335.64,748.53 L335.60,748.01 L335.60,747.51 L335.61,747.10 L335.60,746.80 Z" fill="#fff" stroke="#000" stroke-width="1.25" stroke-linejoin="round"/>
<line x1="327.25" y1="750.00" x2="335.55" y2="750.00" stroke="#aaa" stroke-width="0.8" stroke-dasharray="1.6,1.2"/>
<line x1="324.25" y1="753.40" x2="338.55" y2="753.40" stroke="#555" stroke-width="0.8" stroke-dasharray="1.6,1.2"/>
<line x1="324.88" y1="756.00" x2="337.92" y2="756.00" stroke="#aaa" stroke-width="0.8" stroke-dasharray="1.6,1.2"/>
<path d="M352.70,724.30 L352.78,724.86 L352.89,725.59 L353.02,726.47 L353.18,727.51 L353.37,728.69 L353.60,730.00 L353.98,731.53 L354.54,733.29 L355.12,735.19 L355.61,737.14 L355.85,739.05 L355.70,740.80 L355.00,742.46 L353.83,744.12 L352.41,745.72 L350.97,747.24 L349.76,748.61 L349.00,749.80 L348.76,750.80 L348.86,751.65 L349.18,752.36 L349.60,752.95 L349.98,753.42 L350.20,753.80 L364.20,753.80 L364.42,753.42 L364.80,752.95 L365.22,752.36 L365.54,751.65 L365.64,750.80 L365.40,749.80 L364.64,748.61 L363.43,747.24 L361.99,745.72 L360.57,744.12 L359.40,742.46 L358.70,740.80 L358.55,739.05 L358.79,737.14 L359.27,735.19 L359.86,733.29 L360.42,731.53 L360.80,730.00 L361.03,728.69 L361.22,727.51 L361.38,726.47 L361.51,725.59 L361.62,724.86 L361.70,724.30 Z" fill="#fff" stroke="#000" stroke-width="1.25" stroke-linejoin="round"/>
<line x1="354.31" y1="728.30" x2="360.09" y2="728.30" stroke="#aaa" stroke-width="0.8" stroke-dasharray="1.6,1.2"/>
<line x1="350.38" y1="749.20" x2="364.02" y2="749.20" stroke="#555" stroke-width="0.8" stroke-dasharray="1.6,1.2"/>
<line x1="350.02" y1="752.00" x2="364.38" y2="752.00" stroke="#aaa" stroke-width="0.8" stroke-dasharray="1.6,1.2"/>
<path d="M377.40,662.90 L377.41,663.80 L377.42,664.99 L377.43,666.42 L377.47,668.08 L377.55,669.95 L377.70,672.00 L377.99,674.21 L378.43,676.60 L378.92,679.19 L379.34,682.01 L379.61,685.11 L379.60,688.50 L379.19,692.36 L378.44,696.70 L377.52,701.31 L376.63,705.97 L375.92,710.47 L375.60,714.60 L375.76,718.45 L376.27,722.21 L376.98,725.82 L377.73,729.20 L378.36,732.28 L378.70,735.00 L378.72,737.36 L378.54,739.41 L378.24,741.17 L377.90,742.65 L377.59,743.86 L377.40,744.80 L389.00,744.80 L388.81,743.86 L388.50,742.65 L388.16,741.17 L387.86,739.41 L387.68,737.36 L387.70,735.00 L388.04,732.28 L388.67,729.20 L389.42,725.82 L390.13,722.21 L390.64,718.45 L390.80,714.60 L390.48,710.47 L389.77,705.97 L388.88,701.31 L387.96,696.70 L387.21,692.36 L386.80,688.50 L386.79,685.11 L387.06,682.01 L387.48,679.19 L387.97,676.60 L388.41,674.21 L388.70,672.00 L388.85,669.95 L388.93,668.08 L388.97,666.42 L388.98,664.99 L388.99,663.80 L389.00,662.90 Z" fill="#fff" stroke="#000" stroke-width="1.25" stroke-linejoin="round"/>
<line x1="378.70" y1="672.00" x2="387.70" y2="672.00" stroke="#aaa" stroke-width="0.8" stroke-dasharray="1.6,1.2"/>
<line x1="376.68" y1="713.60" x2="389.72" y2="713.60" stroke="#555" stroke-width="0.8" stroke-dasharray="1.6,1.2"/>
<line x1="379.48" y1="733.30" x2="386.92" y2="733.30" stroke="#aaa" stroke-width="0.8" stroke-dasharray="1.6,1.2"/>
<path d="M405.80,616.10 L405.94,617.37 L406.15,619.10 L406.39,621.16 L406.64,623.42 L406.89,625.75 L407.10,628.00 L407.34,630.19 L407.64,632.43 L407.93,634.73 L408.15,637.11 L408.23,639.60 L408.10,642.20 L407.71,644.95 L407.09,647.84 L406.33,650.84 L405.51,653.89 L404.74,656.96 L404.10,660.00 L403.54,663.11 L402.99,666.34 L402.48,669.59 L402.04,672.75 L401.70,675.72 L401.50,678.40 L401.48,680.74 L401.63,682.83 L401.89,684.72 L402.18,686.50 L402.44,688.23 L402.60,690.00 L402.66,691.89 L402.68,693.85 L402.67,695.77 L402.64,697.54 L402.61,699.02 L402.60,700.10 L415.60,700.10 L415.59,699.02 L415.56,697.54 L415.53,695.77 L415.52,693.85 L415.54,691.89 L415.60,690.00 L415.76,688.23 L416.02,686.50 L416.31,684.72 L416.57,682.83 L416.72,680.74 L416.70,678.40 L416.50,675.72 L416.16,672.75 L415.72,669.59 L415.21,666.34 L414.66,663.11 L414.10,660.00 L413.46,656.96 L412.69,653.89 L411.88,650.84 L411.11,647.84 L410.49,644.95 L410.10,642.20 L409.97,639.60 L410.05,637.11 L410.27,634.73 L410.56,632.43 L410.86,630.19 L411.10,628.00 L411.31,625.75 L411.56,623.42 L411.81,621.16 L412.05,619.10 L412.26,617.37 L412.40,616.10 Z" fill="#fff" stroke="#000" stroke-width="1.25" stroke-linejoin="round"/>
<line x1="402.74" y1="675.40" x2="415.46" y2="675.40" stroke="#aaa" stroke-width="0.8" stroke-dasharray="1.6,1.2"/>
<line x1="403.66" y1="696.50" x2="414.54" y2="696.50" stroke="#555" stroke-width="0.8" stroke-dasharray="1.6,1.2"/>
<line x1="403.60" y1="700.00" x2="414.60" y2="700.00" stroke="#aaa" stroke-width="0.8" stroke-dasharray="1.6,1.2"/>
<line x1="305.20" y1="758.10" x2="305.20" y2="762.40" stroke="#222" stroke-width="1.2" />
<text transform="translate(307.00,775.10) rotate(-45)" font-size="11.8" font-weight="normal" text-anchor="end" fill="#111" >Cntr</text>
<line x1="331.40" y1="758.10" x2="331.40" y2="762.40" stroke="#222" stroke-width="1.2" />
<text transform="translate(333.20,775.10) rotate(-45)" font-size="11.8" font-weight="normal" text-anchor="end" fill="#111" >DMSO</text>
<line x1="357.20" y1="758.10" x2="357.20" y2="762.40" stroke="#222" stroke-width="1.2" />
<text transform="translate(359.00,775.10) rotate(-45)" font-size="11.8" font-weight="normal" text-anchor="end" fill="#111" >CISP</text>
<line x1="383.20" y1="758.10" x2="383.20" y2="762.40" stroke="#222" stroke-width="1.2" />
<text transform="translate(385.00,775.10) rotate(-45)" font-size="11.8" font-weight="normal" text-anchor="end" fill="#111" >Aβ(25-35)</text>
<line x1="409.10" y1="758.10" x2="409.10" y2="762.40" stroke="#222" stroke-width="1.2" />
<text transform="translate(410.90,775.10) rotate(-45)" font-size="11.8" font-weight="normal" text-anchor="end" fill="#111" >Aβ(25-35) + CISP</text>
<polyline points="305.20,606.70 305.20,600.90 409.30,600.90 409.30,606.70" fill="none" stroke="#111" stroke-width="1.7" stroke-linejoin="miter" stroke-linecap="butt"/>
<path d="M349.59,594.73 L350.32,596.33 L352.07,596.54 L350.78,597.74 L351.12,599.47 L349.59,598.61 L348.05,599.47 L348.39,597.74 L347.10,596.54 L348.85,596.33Z" fill="#111"/>
<path d="M354.76,594.73 L355.50,596.33 L357.25,596.54 L355.96,597.74 L356.30,599.47 L354.76,598.61 L353.22,599.47 L353.57,597.74 L352.27,596.54 L354.02,596.33Z" fill="#111"/>
<path d="M359.94,594.73 L360.68,596.33 L362.43,596.54 L361.13,597.74 L361.48,599.47 L359.94,598.61 L358.40,599.47 L358.74,597.74 L357.45,596.54 L359.20,596.33Z" fill="#111"/>
<path d="M365.11,594.73 L365.85,596.33 L367.60,596.54 L366.31,597.74 L366.65,599.47 L365.11,598.61 L363.58,599.47 L363.92,597.74 L362.63,596.54 L364.38,596.33Z" fill="#111"/>
<polyline points="383.60,615.30 383.60,609.60 409.30,609.60 409.30,615.30" fill="none" stroke="#111" stroke-width="1.7" stroke-linejoin="miter" stroke-linecap="butt"/>
<path d="M396.73,603.98 L397.42,605.48 L399.06,605.68 L397.85,606.80 L398.17,608.42 L396.73,607.61 L395.29,608.42 L395.61,606.80 L394.40,605.68 L396.04,605.48Z" fill="#111"/>
<path d="M401.67,603.98 L402.36,605.48 L404.00,605.68 L402.79,606.80 L403.11,608.42 L401.67,607.61 L400.23,608.42 L400.55,606.80 L399.34,605.68 L400.98,605.48Z" fill="#111"/>
<polyline points="305.20,660.70 305.20,653.70 383.20,653.70 383.20,660.70" fill="none" stroke="#111" stroke-width="1.7" stroke-linejoin="miter" stroke-linecap="butt"/>
<path d="M338.40,647.60 L339.15,649.22 L340.92,649.43 L339.61,650.65 L339.96,652.40 L338.40,651.53 L336.84,652.40 L337.19,650.65 L335.88,649.43 L337.65,649.22Z" fill="#111"/>
<line x1="467.60" y1="607.90" x2="467.60" y2="753.50" stroke="#222" stroke-width="1.3" />
<line x1="467.60" y1="752.80" x2="605.00" y2="752.80" stroke="#222" stroke-width="1.3" />
<line x1="463.10" y1="752.80" x2="467.60" y2="752.80" stroke="#222" stroke-width="1.2" />
<text x="461.40" y="757.20" font-size="12" font-weight="normal" text-anchor="end" fill="#1a1a1a" >0</text>
<line x1="463.10" y1="723.96" x2="467.60" y2="723.96" stroke="#222" stroke-width="1.2" />
<text x="461.40" y="728.36" font-size="12" font-weight="normal" text-anchor="end" fill="#1a1a1a" >20</text>
<line x1="463.10" y1="695.12" x2="467.60" y2="695.12" stroke="#222" stroke-width="1.2" />
<text x="461.40" y="699.52" font-size="12" font-weight="normal" text-anchor="end" fill="#1a1a1a" >40</text>
<line x1="463.10" y1="666.28" x2="467.60" y2="666.28" stroke="#222" stroke-width="1.2" />
<text x="461.40" y="670.68" font-size="12" font-weight="normal" text-anchor="end" fill="#1a1a1a" >60</text>
<line x1="463.10" y1="637.44" x2="467.60" y2="637.44" stroke="#222" stroke-width="1.2" />
<text x="461.40" y="641.84" font-size="12" font-weight="normal" text-anchor="end" fill="#1a1a1a" >80</text>
<line x1="463.10" y1="608.60" x2="467.60" y2="608.60" stroke="#222" stroke-width="1.2" />
<text x="461.40" y="613.00" font-size="12" font-weight="normal" text-anchor="end" fill="#1a1a1a" >100</text>
<text transform="translate(443.10,683.20) rotate(-90)" font-size="13.3" font-weight="bold" text-anchor="middle" fill="#000" >% Cell death</text>
<text x="535.7" y="579.5" font-size="12.8" font-weight="bold" text-anchor="middle" fill="#111" word-spacing="0.6">BRAFi (<tspan font-style="italic">n</tspan> = 3)</text>
<path d="M480.90,724.20 L481.09,725.03 L481.38,726.19 L481.71,727.56 L482.02,729.00 L482.24,730.39 L482.30,731.60 L482.14,732.64 L481.80,733.61 L481.36,734.53 L480.94,735.40 L480.62,736.26 L480.50,737.10 L480.71,737.90 L481.18,738.63 L481.76,739.34 L482.29,740.07 L482.59,740.84 L482.50,741.70 L481.88,742.70 L480.82,743.81 L479.54,744.98 L478.26,746.13 L477.17,747.19 L476.50,748.10 L476.31,748.87 L476.44,749.55 L476.78,750.15 L477.19,750.66 L477.57,751.08 L477.80,751.40 L491.80,751.40 L492.03,751.08 L492.41,750.66 L492.82,750.15 L493.16,749.55 L493.29,748.87 L493.10,748.10 L492.43,747.19 L491.34,746.13 L490.06,744.98 L488.78,743.81 L487.72,742.70 L487.10,741.70 L487.01,740.84 L487.31,740.07 L487.84,739.34 L488.42,738.63 L488.89,737.90 L489.10,737.10 L488.98,736.26 L488.66,735.40 L488.24,734.53 L487.80,733.61 L487.46,732.64 L487.30,731.60 L487.36,730.39 L487.58,729.00 L487.89,727.56 L488.22,726.19 L488.51,725.03 L488.70,724.20 Z" fill="#fff" stroke="#000" stroke-width="1.25" stroke-linejoin="round"/>
<line x1="483.25" y1="730.70" x2="486.35" y2="730.70" stroke="#aaa" stroke-width="0.8" stroke-dasharray="1.6,1.2"/>
<line x1="483.06" y1="742.40" x2="486.54" y2="742.40" stroke="#555" stroke-width="0.8" stroke-dasharray="1.6,1.2"/>
<line x1="477.38" y1="748.60" x2="492.22" y2="748.60" stroke="#aaa" stroke-width="0.8" stroke-dasharray="1.6,1.2"/>
<path d="M508.10,724.20 L508.12,725.05 L508.16,726.21 L508.21,727.60 L508.23,729.10 L508.20,730.60 L508.10,732.00 L507.94,733.31 L507.74,734.61 L507.49,735.92 L507.19,737.25 L506.82,738.61 L506.40,740.00 L505.83,741.52 L505.12,743.17 L504.34,744.85 L503.60,746.45 L502.99,747.87 L502.60,749.00 L502.48,749.81 L502.56,750.38 L502.76,750.76 L503.02,751.02 L503.26,751.22 L503.40,751.40 L518.40,751.40 L518.54,751.22 L518.78,751.02 L519.04,750.76 L519.24,750.38 L519.32,749.81 L519.20,749.00 L518.81,747.87 L518.20,746.45 L517.46,744.85 L516.68,743.17 L515.97,741.52 L515.40,740.00 L514.98,738.61 L514.61,737.25 L514.31,735.92 L514.06,734.61 L513.86,733.31 L513.70,732.00 L513.60,730.60 L513.57,729.10 L513.59,727.60 L513.64,726.21 L513.68,725.05 L513.70,724.20 Z" fill="#fff" stroke="#000" stroke-width="1.25" stroke-linejoin="round"/>
<line x1="509.08" y1="732.20" x2="512.72" y2="732.20" stroke="#aaa" stroke-width="0.8" stroke-dasharray="1.6,1.2"/>
<line x1="505.97" y1="743.50" x2="515.83" y2="743.50" stroke="#555" stroke-width="0.8" stroke-dasharray="1.6,1.2"/>
<line x1="503.58" y1="749.10" x2="518.22" y2="749.10" stroke="#aaa" stroke-width="0.8" stroke-dasharray="1.6,1.2"/>
<path d="M530.40,698.20 L530.63,699.26 L530.94,700.71 L531.31,702.43 L531.73,704.30 L532.16,706.20 L532.60,708.00 L533.17,709.60 L533.92,711.08 L534.69,712.58 L535.33,714.26 L535.69,716.25 L535.60,718.70 L534.89,721.85 L533.63,725.63 L532.09,729.73 L530.51,733.83 L529.17,737.63 L528.30,740.80 L527.97,743.40 L528.00,745.70 L528.24,747.68 L528.59,749.36 L528.92,750.73 L529.10,751.80 L544.10,751.80 L544.28,750.73 L544.61,749.36 L544.96,747.68 L545.20,745.70 L545.23,743.40 L544.90,740.80 L544.03,737.63 L542.69,733.83 L541.11,729.73 L539.57,725.63 L538.31,721.85 L537.60,718.70 L537.51,716.25 L537.87,714.26 L538.51,712.58 L539.28,711.08 L540.03,709.60 L540.60,708.00 L541.04,706.20 L541.47,704.30 L541.89,702.43 L542.26,700.71 L542.57,699.26 L542.80,698.20 Z" fill="#fff" stroke="#000" stroke-width="1.25" stroke-linejoin="round"/>
<line x1="532.24" y1="702.10" x2="540.96" y2="702.10" stroke="#aaa" stroke-width="0.8" stroke-dasharray="1.6,1.2"/>
<line x1="529.93" y1="738.50" x2="543.27" y2="738.50" stroke="#555" stroke-width="0.8" stroke-dasharray="1.6,1.2"/>
<line x1="529.63" y1="749.50" x2="543.57" y2="749.50" stroke="#aaa" stroke-width="0.8" stroke-dasharray="1.6,1.2"/>
<path d="M559.40,677.40 L559.19,678.01 L558.86,678.79 L558.48,679.74 L558.13,680.89 L557.88,682.27 L557.80,683.90 L558.00,685.81 L558.44,687.99 L558.98,690.40 L559.47,692.99 L559.76,695.70 L559.70,698.50 L559.12,701.47 L558.11,704.65 L556.89,707.97 L555.71,711.33 L554.81,714.63 L554.40,717.80 L554.63,720.90 L555.32,724.02 L556.29,727.09 L557.32,730.04 L558.23,732.80 L558.80,735.30 L559.02,737.59 L559.04,739.74 L558.93,741.69 L558.75,743.41 L558.59,744.83 L558.50,745.90 L566.90,745.90 L566.81,744.83 L566.65,743.41 L566.48,741.69 L566.36,739.74 L566.38,737.59 L566.60,735.30 L567.17,732.80 L568.08,730.04 L569.11,727.09 L570.08,724.02 L570.77,720.90 L571.00,717.80 L570.59,714.63 L569.69,711.33 L568.51,707.97 L567.29,704.65 L566.28,701.47 L565.70,698.50 L565.64,695.70 L565.93,692.99 L566.42,690.40 L566.96,687.99 L567.40,685.81 L567.60,683.90 L567.52,682.27 L567.27,680.89 L566.92,679.74 L566.54,678.79 L566.21,678.01 L566.00,677.40 Z" fill="#fff" stroke="#000" stroke-width="1.25" stroke-linejoin="round"/>
<line x1="560.23" y1="691.70" x2="565.17" y2="691.70" stroke="#aaa" stroke-width="0.8" stroke-dasharray="1.6,1.2"/>
<line x1="555.40" y1="717.80" x2="570.00" y2="717.80" stroke="#555" stroke-width="0.8" stroke-dasharray="1.6,1.2"/>
<line x1="558.47" y1="730.50" x2="566.93" y2="730.50" stroke="#aaa" stroke-width="0.8" stroke-dasharray="1.6,1.2"/>
<path d="M584.40,691.20 L584.38,691.80 L584.38,692.48 L584.37,693.36 L584.31,694.57 L584.16,696.24 L583.90,698.50 L583.41,701.61 L582.69,705.51 L581.88,709.88 L581.14,714.37 L580.60,718.65 L580.40,722.40 L580.65,725.67 L581.26,728.75 L582.07,731.62 L582.93,734.28 L583.69,736.71 L584.20,738.90 L584.44,740.85 L584.54,742.58 L584.54,744.08 L584.48,745.35 L584.42,746.39 L584.40,747.20 L592.60,747.20 L592.58,746.39 L592.52,745.35 L592.46,744.08 L592.46,742.58 L592.56,740.85 L592.80,738.90 L593.31,736.71 L594.07,734.28 L594.93,731.62 L595.74,728.75 L596.35,725.67 L596.60,722.40 L596.40,718.65 L595.86,714.37 L595.12,709.88 L594.31,705.51 L593.59,701.61 L593.10,698.50 L592.84,696.24 L592.69,694.57 L592.63,693.36 L592.62,692.48 L592.62,691.80 L592.60,691.20 Z" fill="#fff" stroke="#000" stroke-width="1.25" stroke-linejoin="round"/>
<line x1="584.60" y1="700.40" x2="592.40" y2="700.40" stroke="#aaa" stroke-width="0.8" stroke-dasharray="1.6,1.2"/>
<line x1="581.40" y1="722.40" x2="595.60" y2="722.40" stroke="#555" stroke-width="0.8" stroke-dasharray="1.6,1.2"/>
<line x1="584.25" y1="735.30" x2="592.75" y2="735.30" stroke="#aaa" stroke-width="0.8" stroke-dasharray="1.6,1.2"/>
<line x1="484.80" y1="752.80" x2="484.80" y2="757.10" stroke="#222" stroke-width="1.2" />
<text transform="translate(486.60,769.80) rotate(-45)" font-size="11.8" font-weight="normal" text-anchor="end" fill="#111" >Cntr</text>
<line x1="510.90" y1="752.80" x2="510.90" y2="757.10" stroke="#222" stroke-width="1.2" />
<text transform="translate(512.70,769.80) rotate(-45)" font-size="11.8" font-weight="normal" text-anchor="end" fill="#111" >DMSO</text>
<line x1="536.60" y1="752.80" x2="536.60" y2="757.10" stroke="#222" stroke-width="1.2" />
<text transform="translate(538.40,769.80) rotate(-45)" font-size="11.8" font-weight="normal" text-anchor="end" fill="#111" >BRAFi</text>
<line x1="562.70" y1="752.80" x2="562.70" y2="757.10" stroke="#222" stroke-width="1.2" />
<text transform="translate(564.50,769.80) rotate(-45)" font-size="11.8" font-weight="normal" text-anchor="end" fill="#111" >Aβ (25-35)</text>
<line x1="588.50" y1="752.80" x2="588.50" y2="757.10" stroke="#222" stroke-width="1.2" />
<text transform="translate(590.30,769.80) rotate(-45)" font-size="11.8" font-weight="normal" text-anchor="end" fill="#111" >Aβ (25-35) + BRAFi</text>
<polyline points="484.80,674.30 484.80,668.80 562.70,668.80 562.70,674.30" fill="none" stroke="#111" stroke-width="1.7" stroke-linejoin="miter" stroke-linecap="butt"/>
<path d="M521.90,661.60 L522.65,663.22 L524.42,663.43 L523.11,664.65 L523.46,666.40 L521.90,665.53 L520.34,666.40 L520.69,664.65 L519.38,663.43 L521.15,663.22Z" fill="#111"/>
<line x1="650.60" y1="607.30" x2="650.60" y2="752.90" stroke="#222" stroke-width="1.3" />
<line x1="650.60" y1="752.20" x2="789.00" y2="752.20" stroke="#222" stroke-width="1.3" />
<line x1="646.10" y1="752.20" x2="650.60" y2="752.20" stroke="#222" stroke-width="1.2" />
<text x="644.40" y="756.60" font-size="12" font-weight="normal" text-anchor="end" fill="#1a1a1a" >0</text>
<line x1="646.10" y1="723.36" x2="650.60" y2="723.36" stroke="#222" stroke-width="1.2" />
<text x="644.40" y="727.76" font-size="12" font-weight="normal" text-anchor="end" fill="#1a1a1a" >20</text>
<line x1="646.10" y1="694.52" x2="650.60" y2="694.52" stroke="#222" stroke-width="1.2" />
<text x="644.40" y="698.92" font-size="12" font-weight="normal" text-anchor="end" fill="#1a1a1a" >40</text>
<line x1="646.10" y1="665.68" x2="650.60" y2="665.68" stroke="#222" stroke-width="1.2" />
<text x="644.40" y="670.08" font-size="12" font-weight="normal" text-anchor="end" fill="#1a1a1a" >60</text>
<line x1="646.10" y1="636.84" x2="650.60" y2="636.84" stroke="#222" stroke-width="1.2" />
<text x="644.40" y="641.24" font-size="12" font-weight="normal" text-anchor="end" fill="#1a1a1a" >80</text>
<line x1="646.10" y1="608.00" x2="650.60" y2="608.00" stroke="#222" stroke-width="1.2" />
<text x="644.40" y="612.40" font-size="12" font-weight="normal" text-anchor="end" fill="#1a1a1a" >100</text>
<text transform="translate(624.20,683.20) rotate(-90)" font-size="13.3" font-weight="bold" text-anchor="middle" fill="#000" >% Cell death</text>
<text x="718.4" y="578.4" font-size="13.5" font-weight="bold" text-anchor="middle" fill="#111" word-spacing="0.3">MEKi (<tspan font-style="italic">n</tspan> = 6)</text>
<path d="M663.50,723.50 L663.66,724.67 L663.91,726.36 L664.19,728.32 L664.46,730.32 L664.68,732.13 L664.80,733.50 L664.80,734.37 L664.70,734.93 L664.55,735.28 L664.39,735.56 L664.26,735.89 L664.20,736.40 L664.29,737.07 L664.51,737.80 L664.77,738.57 L664.95,739.39 L664.96,740.24 L664.70,741.10 L664.02,742.01 L662.98,742.98 L661.76,743.98 L660.57,744.97 L659.58,745.93 L659.00,746.80 L658.90,747.64 L659.14,748.47 L659.59,749.26 L660.13,749.97 L660.61,750.56 L660.90,751.00 L674.10,751.00 L674.39,750.56 L674.87,749.97 L675.41,749.26 L675.86,748.47 L676.10,747.64 L676.00,746.80 L675.42,745.93 L674.43,744.97 L673.24,743.98 L672.02,742.98 L670.98,742.01 L670.30,741.10 L670.04,740.24 L670.05,739.39 L670.23,738.57 L670.49,737.80 L670.71,737.07 L670.80,736.40 L670.74,735.89 L670.61,735.56 L670.45,735.28 L670.30,734.93 L670.20,734.37 L670.20,733.50 L670.32,732.13 L670.54,730.32 L670.81,728.32 L671.09,726.36 L671.34,724.67 L671.50,723.50 Z" fill="#fff" stroke="#000" stroke-width="1.25" stroke-linejoin="round"/>
<line x1="665.46" y1="730.30" x2="669.54" y2="730.30" stroke="#aaa" stroke-width="0.8" stroke-dasharray="1.6,1.2"/>
<line x1="665.70" y1="741.10" x2="669.30" y2="741.10" stroke="#555" stroke-width="0.8" stroke-dasharray="1.6,1.2"/>
<line x1="660.03" y1="748.10" x2="674.97" y2="748.10" stroke="#aaa" stroke-width="0.8" stroke-dasharray="1.6,1.2"/>
<path d="M690.90,723.50 L690.87,724.43 L690.84,725.72 L690.79,727.25 L690.73,728.89 L690.63,730.51 L690.50,732.00 L690.34,733.39 L690.17,734.79 L689.96,736.17 L689.71,737.51 L689.40,738.80 L689.00,740.00 L688.45,741.12 L687.76,742.17 L686.99,743.16 L686.26,744.10 L685.63,744.97 L685.20,745.80 L685.00,746.59 L684.98,747.36 L685.06,748.06 L685.20,748.69 L685.33,749.21 L685.40,749.60 L701.60,749.60 L701.67,749.21 L701.80,748.69 L701.94,748.06 L702.02,747.36 L702.00,746.59 L701.80,745.80 L701.37,744.97 L700.74,744.10 L700.01,743.16 L699.24,742.17 L698.55,741.12 L698.00,740.00 L697.60,738.80 L697.29,737.51 L697.04,736.17 L696.83,734.79 L696.66,733.39 L696.50,732.00 L696.37,730.51 L696.27,728.89 L696.21,727.25 L696.16,725.72 L696.13,724.43 L696.10,723.50 Z" fill="#fff" stroke="#000" stroke-width="1.25" stroke-linejoin="round"/>
<line x1="691.58" y1="731.10" x2="695.42" y2="731.10" stroke="#aaa" stroke-width="0.8" stroke-dasharray="1.6,1.2"/>
<line x1="688.12" y1="743.00" x2="698.88" y2="743.00" stroke="#555" stroke-width="0.8" stroke-dasharray="1.6,1.2"/>
<line x1="686.07" y1="748.10" x2="700.93" y2="748.10" stroke="#aaa" stroke-width="0.8" stroke-dasharray="1.6,1.2"/>
<path d="M715.60,661.60 L715.32,663.03 L714.91,664.98 L714.44,667.31 L713.95,669.85 L713.49,672.47 L713.10,675.00 L712.74,677.53 L712.36,680.18 L712.01,682.91 L711.73,685.64 L711.58,688.33 L711.60,690.90 L711.85,693.37 L712.30,695.80 L712.88,698.17 L713.50,700.49 L714.10,702.77 L714.60,705.00 L715.03,707.10 L715.47,709.07 L715.88,710.98 L716.24,712.94 L716.52,715.05 L716.70,717.40 L716.74,720.24 L716.65,723.53 L716.48,726.97 L716.29,730.24 L716.11,733.02 L716.00,735.00 L723.20,735.00 L723.09,733.02 L722.91,730.24 L722.72,726.97 L722.55,723.53 L722.46,720.24 L722.50,717.40 L722.68,715.05 L722.96,712.94 L723.32,710.98 L723.73,709.07 L724.17,707.10 L724.60,705.00 L725.10,702.77 L725.70,700.49 L726.33,698.17 L726.90,695.80 L727.35,693.37 L727.60,690.90 L727.62,688.33 L727.47,685.64 L727.19,682.91 L726.84,680.18 L726.46,677.53 L726.10,675.00 L725.71,672.47 L725.25,669.85 L724.76,667.31 L724.29,664.98 L723.88,663.03 L723.60,661.60 Z" fill="#fff" stroke="#000" stroke-width="1.25" stroke-linejoin="round"/>
<line x1="715.10" y1="669.10" x2="724.10" y2="669.10" stroke="#aaa" stroke-width="0.8" stroke-dasharray="1.6,1.2"/>
<line x1="712.66" y1="691.50" x2="726.54" y2="691.50" stroke="#555" stroke-width="0.8" stroke-dasharray="1.6,1.2"/>
<line x1="717.63" y1="724.00" x2="721.57" y2="724.00" stroke="#aaa" stroke-width="0.8" stroke-dasharray="1.6,1.2"/>
<path d="M742.60,676.70 L742.46,677.57 L742.25,678.73 L742.01,680.12 L741.77,681.70 L741.59,683.41 L741.50,685.20 L741.58,687.07 L741.81,689.07 L742.09,691.20 L742.31,693.47 L742.39,695.90 L742.20,698.50 L741.60,701.37 L740.64,704.52 L739.53,707.83 L738.47,711.17 L737.65,714.40 L737.30,717.40 L737.52,720.17 L738.18,722.83 L739.09,725.37 L740.07,727.84 L740.94,730.24 L741.50,732.60 L741.74,735.03 L741.81,737.55 L741.76,740.00 L741.66,742.24 L741.55,744.12 L741.50,745.50 L749.50,745.50 L749.45,744.12 L749.34,742.24 L749.24,740.00 L749.19,737.55 L749.26,735.03 L749.50,732.60 L750.06,730.24 L750.93,727.84 L751.91,725.37 L752.82,722.83 L753.48,720.17 L753.70,717.40 L753.35,714.40 L752.53,711.17 L751.47,707.83 L750.36,704.52 L749.40,701.37 L748.80,698.50 L748.61,695.90 L748.69,693.47 L748.91,691.20 L749.19,689.07 L749.42,687.07 L749.50,685.20 L749.41,683.41 L749.23,681.70 L748.99,680.12 L748.75,678.73 L748.54,677.57 L748.40,676.70 Z" fill="#fff" stroke="#000" stroke-width="1.25" stroke-linejoin="round"/>
<line x1="743.12" y1="691.50" x2="747.88" y2="691.50" stroke="#aaa" stroke-width="0.8" stroke-dasharray="1.6,1.2"/>
<line x1="738.30" y1="717.40" x2="752.70" y2="717.40" stroke="#555" stroke-width="0.8" stroke-dasharray="1.6,1.2"/>
<line x1="741.95" y1="730.30" x2="749.05" y2="730.30" stroke="#aaa" stroke-width="0.8" stroke-dasharray="1.6,1.2"/>
<path d="M766.50,630.30 L766.17,632.41 L765.67,635.29 L765.09,638.71 L764.57,642.48 L764.20,646.38 L764.10,650.20 L764.40,654.06 L765.05,658.16 L765.85,662.38 L766.63,666.63 L767.21,670.81 L767.40,674.80 L767.10,678.67 L766.41,682.50 L765.53,686.26 L764.62,689.89 L763.85,693.35 L763.40,696.60 L763.31,699.75 L763.46,702.87 L763.75,705.81 L764.10,708.46 L764.41,710.66 L764.60,712.30 L778.80,712.30 L778.99,710.66 L779.30,708.46 L779.65,705.81 L779.94,702.87 L780.09,699.75 L780.00,696.60 L779.55,693.35 L778.78,689.89 L777.87,686.26 L776.99,682.50 L776.30,678.67 L776.00,674.80 L776.19,670.81 L776.77,666.63 L777.55,662.38 L778.35,658.16 L779.00,654.06 L779.30,650.20 L779.20,646.38 L778.83,642.48 L778.31,638.71 L777.73,635.29 L777.23,632.41 L776.90,630.30 Z" fill="#fff" stroke="#000" stroke-width="1.25" stroke-linejoin="round"/>
<line x1="765.38" y1="644.50" x2="778.02" y2="644.50" stroke="#aaa" stroke-width="0.8" stroke-dasharray="1.6,1.2"/>
<line x1="768.38" y1="674.40" x2="775.02" y2="674.40" stroke="#555" stroke-width="0.8" stroke-dasharray="1.6,1.2"/>
<line x1="764.64" y1="704.70" x2="778.76" y2="704.70" stroke="#aaa" stroke-width="0.8" stroke-dasharray="1.6,1.2"/>
<line x1="667.50" y1="752.20" x2="667.50" y2="756.50" stroke="#222" stroke-width="1.2" />
<text transform="translate(669.30,769.20) rotate(-45)" font-size="11.8" font-weight="normal" text-anchor="end" fill="#111" >Cntr</text>
<line x1="693.50" y1="752.20" x2="693.50" y2="756.50" stroke="#222" stroke-width="1.2" />
<text transform="translate(695.30,769.20) rotate(-45)" font-size="11.8" font-weight="normal" text-anchor="end" fill="#111" >DMSO</text>
<line x1="719.60" y1="752.20" x2="719.60" y2="756.50" stroke="#222" stroke-width="1.2" />
<text transform="translate(721.40,769.20) rotate(-45)" font-size="11.8" font-weight="normal" text-anchor="end" fill="#111" >MEKi</text>
<line x1="745.50" y1="752.20" x2="745.50" y2="756.50" stroke="#222" stroke-width="1.2" />
<text transform="translate(747.30,769.20) rotate(-45)" font-size="11.8" font-weight="normal" text-anchor="end" fill="#111" >Aβ(25-35)</text>
<line x1="771.70" y1="752.20" x2="771.70" y2="756.50" stroke="#222" stroke-width="1.2" />
<text transform="translate(773.50,769.20) rotate(-45)" font-size="11.8" font-weight="normal" text-anchor="end" fill="#111" >Aβ(25-35) + MEKi</text>
<polyline points="665.40,615.50 665.40,610.40 771.70,610.40 771.70,615.50" fill="none" stroke="#111" stroke-width="1.7" stroke-linejoin="miter" stroke-linecap="butt"/>
<path d="M711.47,602.84 L712.21,604.44 L713.95,604.64 L712.66,605.83 L713.00,607.56 L711.47,606.70 L709.94,607.56 L710.28,605.83 L709.00,604.64 L710.74,604.44Z" fill="#111"/>
<path d="M716.62,602.84 L717.36,604.44 L719.10,604.64 L717.81,605.83 L718.15,607.56 L716.62,606.70 L715.09,607.56 L715.44,605.83 L714.15,604.64 L715.89,604.44Z" fill="#111"/>
<path d="M721.78,602.84 L722.51,604.44 L724.25,604.64 L722.96,605.83 L723.31,607.56 L721.78,606.70 L720.25,607.56 L720.59,605.83 L719.30,604.64 L721.04,604.44Z" fill="#111"/>
<path d="M726.93,602.84 L727.66,604.44 L729.40,604.64 L728.12,605.83 L728.46,607.56 L726.93,606.70 L725.40,607.56 L725.74,605.83 L724.45,604.64 L726.19,604.44Z" fill="#111"/>
<polyline points="745.50,626.50 745.50,621.20 771.70,621.20 771.70,626.50" fill="none" stroke="#111" stroke-width="1.7" stroke-linejoin="miter" stroke-linecap="butt"/>
<path d="M756.40,615.41 L757.11,616.96 L758.80,617.16 L757.55,618.32 L757.89,619.99 L756.40,619.15 L754.92,619.99 L755.25,618.32 L754.00,617.16 L755.69,616.96Z" fill="#111"/>
<path d="M761.50,615.41 L762.21,616.96 L763.90,617.16 L762.65,618.32 L762.98,619.99 L761.50,619.15 L760.01,619.99 L760.35,618.32 L759.10,617.16 L760.79,616.96Z" fill="#111"/>
</svg></body></html>
